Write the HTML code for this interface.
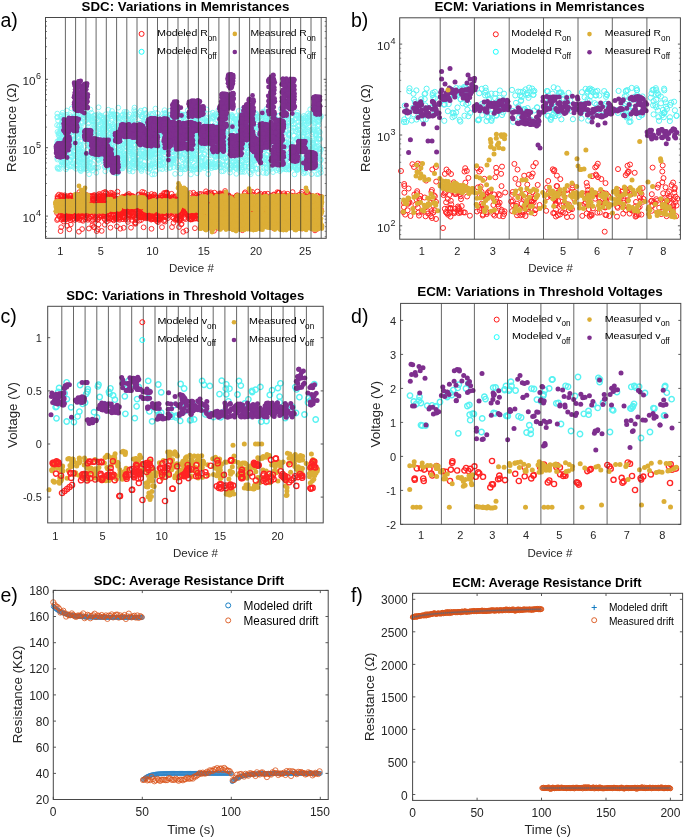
<!DOCTYPE html><html><head><meta charset="utf-8"><style>html,body{margin:0;padding:0;background:#fff;}svg{display:block;will-change:transform;}text{font-family:"Liberation Sans",sans-serif;}</style></head><body><svg width="685" height="839" viewBox="0 0 685 839"><defs><marker id="m0" markerUnits="userSpaceOnUse" markerWidth="6.8" markerHeight="6.8" refX="3.4" refY="3.4" overflow="visible"><circle cx="3.4" cy="3.4" r="2.4" fill="none" stroke="#7AF6F6" stroke-width="0.9"/></marker></defs><path d="M176.4 144.8L301 139.6L191.1 146.4L105.8 142.2L223.3 157.9L81.8 130.5L80.9 158.8L240.1 115.8L316.3 167.5L229.6 148L98.6 114.3L196.5 116.8L107.2 127L64.9 139.5L173.3 160.7L194 149.4L188.9 150.6L177.7 129.1L320.4 169.3L278.8 153.1L140.2 126.4L133.3 117.4L259.3 135.9L280.5 135.1L309.9 160.9L57.1 125.2L297.3 139.8L315.8 135.8L76.3 148.7L262.5 128.6L80 132.1L311.5 156L88.1 127.3L83.7 116.9L267.4 123.4L204.7 138.6L107.3 154.5L91.6 149.5L87.8 137.1L113.2 128.6L313.3 158.5L137.3 163.1L112.6 135.6L282.6 149.4L83.5 168.9L113.3 128L261 131.9L135.2 117.6L80.8 146.1L121.2 147.2L155.1 138.9L310.2 140.6L208.7 162L105.3 122.1L296.8 159.3L122.9 124.1L252.2 166.2L108.9 166.7L289.9 147.3L168.3 119.3L67.2 167.4L119.9 153L124.8 159.6L214.5 129.9L103.3 153.8L75.2 126.3L204.7 161.2L219.2 129.2L299.2 124.9L61.4 128.6L174.7 116.9L103.5 134.2L208.1 120.9L152.6 163.4L315.9 150.3L239.5 146.2L94.1 115.5L61.7 164.5L242.1 167.4L62.6 149.1L184.3 154.4L141.2 169.5L76.9 144.1L251.6 163.9L251.6 152.9L266.4 164.7L149.9 151.9L294.8 162.3L167.1 157.8L285 145.6L222 134.9L210.8 147.6L78.2 149.3L319.2 162.8L249.2 135.3L251.1 146L173.3 160.4L79.1 155.5L64.9 147.2L184 126.4L241.4 141.3L219.2 165L124.5 114.1L136.5 151.5L110.5 123L296.1 150.5L173.7 163.4L143.3 150.8L109.4 137.6L269.8 164.7L289.4 135L210.9 131.2L93 141.3L278 161L244.8 166.7L130.1 123L176 128.9L113.5 136.7L222.2 141.2L140.3 160.5L316.3 138.8L76.7 115.3L287.4 115.8L244.1 145.5L138.6 157.8L62 121.1L177.1 114.9L276 126.8L94.2 116.1L223.1 138.5L223.3 150.2L270.1 167.2L237.7 124.7L182.4 123.5L59.8 139.9L245.5 123.5L128.9 132.9L241.1 142.6L219.2 155.8L160.9 157.8L296.2 118.4L303.2 154L91.3 138.9L222.1 164.5L156.5 145.4L289.1 158.1L306.3 139.5L228.9 125L247.6 159.3L226.4 153.7L113.3 163.9L315.9 168.2L198.8 157.8L141.6 164.5L282.9 133L78.9 138.2L202.3 156.5L185.7 115.1L270.6 117.1L268.2 123.2L145.4 157.6L94.1 121.8L193.4 154L278.8 152.1L306.7 141.1L307.6 118.3L115.5 143L133.6 154.3L225.7 142.8L279.7 144.9L139.3 134.8L280.1 163.9L112 161.1L312.7 142.9L208.3 124.8L198.5 141.7L216.8 115.1L312.9 142.4L162.8 158.4L205.6 141L239.4 117.2L199.2 136.7L309.6 165.2L128.1 140L90.5 137.8L272.3 163.9L182.8 131.3L107.5 148.1L301.3 120.7L262.7 114.8L108.2 126.2L238.4 131.5L150.8 148.2L84.7 154.4L89.4 142.1L123.1 124.6L197 138L156.2 136.7L196.7 122.4L110.9 148.9L225.6 143.2L281.7 147.8L283.2 126.5L252.6 158.9L295.3 131.2L140.2 165.2L114.6 169.4L291.3 121L120.2 154.2L125.5 118.9L276.7 137.1L265.5 120.6L163.3 151.9L61.7 124.8L237.1 164.5L312.7 120L190.5 156L189.7 151.9L106.9 117.5L85 115.6L202.6 142.3L207.1 121.7L105.7 124.9L278.8 169L301.7 118.8L73.4 166.8L179 156.3L143.3 139.6L193 137.6L215.6 114.2L242.1 160.8L104.9 138.9L252.2 136.2L108.5 122.7L192.3 114.4L292.8 158.4L243 161.7L223.2 136.2L215.3 141.7L316.4 158.6L125.2 164.5L253.5 157.1L272.1 136.2L293.7 162.8L240.4 156.5L259 136.2L247.8 117.5L147.2 139.8L59.8 133.4L225.6 148.4L118.3 166.4L232.8 132.4L231.2 145.4L197.7 135.3L321 149.5L242.1 156.2L315.7 114.8L219.5 154.9L124.8 136L70.3 124.4L156.2 119L123.2 164.2L202.2 141.9L312.3 145.3L319.7 149.2L270.7 117.8L214.7 156L68.9 165.6L99.2 139.9L101.6 141.2L218.3 116.8L306.6 137.1L196.1 147L153.5 129.5L229.9 144.9L131.9 153.6L135.2 114.3L121.7 115.9L98.3 155.8L159.9 163.8L254.6 116.3L318 166.4L76.4 164.2L170.4 140.2L313.9 127.1L195.2 166L247.8 139.7L315.4 159.2L216.4 119.9L221.8 139L110.8 116.4L196.4 120.5L173.9 150.9L177.3 128.2L210.7 137L262.4 143.2L320.4 166.8L250.9 126.9L87.1 163.5L264.1 148.5L151.8 128.7L237.9 145.1L213.2 149L255.9 124.1L122.7 168.4L298.8 162.7L67.4 116.9L128.5 137.3L221.6 119.2L200 117.6L79.8 151.4L202.4 148.8L155.5 140.3L112.6 132.7L253.6 160.5L76.6 120.2L270.6 148.4L260 125.4L169 128L270.8 134.2L229.6 168.9L142.9 144.2L254 165.1L169.9 134.2L82.6 162.5L77.7 118.1L206 140.7L237.9 130.2L261.7 117.8L113.3 150.6L78.6 130.5L248.4 152.4L131.7 121.5L151.5 154.2L153.7 120.1L244.2 145.4L299.5 166.1L298.1 138L269 130.6L140.9 135.9L303.8 163.6L122.6 133.8L153.5 133.8L161.4 135.2L108.5 145.1L267.4 143.8L277.8 145L103.6 156L289.6 129.3L62.9 142.4L200.7 145.3L312.1 150L269.3 117.1L201.4 157.6L79.2 118.1L251.6 163.8L79.4 149L95 155.3L228.3 127.2L115.2 156.4L194.7 156.3L161.1 132.4L312.6 151.2L187.3 143.6L247.3 153.2L298.6 136.5L275.1 150.8L282.3 158.6L277.1 163.3L309.9 149.4L195.3 153.3L268.8 137.1L168 121.7L252.7 169L156.1 122.9L111 137.3L134.1 167.8L72.6 130.8L87.3 149.8L261.8 123.5L73.5 139.2L211.2 164.4L66.6 119.6L105.7 125.7L119.1 153.7L214 126L105.8 129.2L102.5 155.9L139.3 144.2L272.7 140.4L125.8 163.2L298.4 132.7L201.5 167.1L184.4 125.9L70.1 166.6L268.6 135.1L196.3 142.4L129.5 169L230.6 126.8L59.9 140L155.1 158.1L245.3 147.4L98.5 122.3L142 128L286.5 142.4L225.2 169.1L127.4 143.4L96.8 156.6L57.4 159.5L280.4 159.5L78.8 128.6L246.2 118.9L183.7 139.7L309.3 146.4L283.3 130.5L265.4 136.9L299 118.6L275.2 125.2L200.5 142.9L98.6 160.1L139.2 130.9L77.1 130.6L180.3 153.5L152 152L84.9 135.6L178.9 167.6L276.1 150.1L60.3 134.6L244.4 126.8L205.9 139.2L59.8 169L268.1 125.1L219.6 129.8L156.3 143.7L135.7 132.4L160.5 150.8L124.7 124.7L250.1 131.9L306.5 145L248.1 132.1L275.3 118.7L94.2 118.8L235.9 153.2L104.5 136L277.9 146.7L80.8 126.2L98.5 120.5L164.4 117.6L300 137.4L192.1 149.7L259.5 159.5L158.9 132.1L165.8 114.4L162.8 152.7L316.2 157.7L231.3 147.6L61.9 132L147.4 149.9L85.1 134.6L191.5 157.7L274.8 147.7L98.8 156.4L295.4 144.2L150.1 141.5L94.4 153.5L317.5 142.4L245.9 160.3L109.1 166.4L222.6 124.6L79 127.2L209.2 152.5L143.9 165.5L152.4 139.4L89.7 168L92.8 164.1L200.5 144.9L204.9 128.3L297.1 169.1L272.8 147.2L89.4 159.7L133.2 163.7L120.6 145.6L276.3 123.9L201.6 117.8L65.5 123.6L317.6 166.1L230.8 130.7L234.2 154.8L157.8 146.6L269.2 114.4L109.7 139.7L94.7 135.1L207.4 123.2L194.2 128.3L207 132.1L226.4 115.6L234.1 121.6L310.3 147.1L181.1 136.5L221.7 152.1L257.1 155.6L185.2 169.2L278.3 161.4L165 137.8L206.4 164.2L195.9 142.9L171.1 164.1L141.7 116.6L248.6 163.9L250.2 147L255.5 130.6L213.7 117.4L89.9 138.5L189.7 135.7L70.7 152.4L195.9 126.9L137.9 135.6L119.3 117.3L297.6 167.6L232.7 162L168.3 158.6L115.5 155.3L206.6 164.1L83 157.9L89.7 143.6L308.1 113.5L121.4 130.3L142.7 117L293.3 159.2L161.9 133.5L211.6 116.1L65.2 163.8L138.3 141.4L303.6 168.2L181.8 125.1L135 165.2L293.8 124.4L278.2 133.3L181.7 123.1L289.2 169.2L110.3 148.9L107.6 162.8L70.2 119.4L248.6 131L294.7 162.2L245.3 121.1L240.7 166L174.5 117.9L115.9 130.7L244.6 124.5L104.8 126.7L232.5 157.8L155.3 150.6L290.5 146.5L117.5 130.4L301.7 150.9L130.1 149.3L80.8 168.5L173.3 143.1L197.1 116L215.3 129.4L123.2 158.5L80 129.5L256.5 127.3L130.7 144.2L106.2 163.7L317.8 115.4L178.9 155.5L158.6 165.5L189 123.6L203.8 149.6L151.9 150.4L263.7 142.4L190.5 160.8L237.6 142.6L308.2 123.2L262.8 122.7L217.5 126.7L173.3 156.8L264.7 157.8L119.3 140.9L115.4 146L188.7 115.5L214.6 153.5L208.2 162.4L104.5 122L61.7 141.3L171.7 138.2L126.4 158.2L76.1 164.3L207.2 143.9L266 126.8L95.6 130.9L68.2 131.1L221 142.9L126.9 146.5L80.4 159.5L102.3 127.8L99.2 152.2L276.4 157.6L73.1 136.5L153.2 125.6L313.2 115.9L186.2 156.1L317.4 121.6L177.2 155.2L67.4 127L292 121.4L160.7 130.2L169.1 117.8L66 169.3L258.5 154.6L117.7 127.7L202.7 127L178.9 165.7L153.1 132.4L316 147.7L67.5 136.1L228.5 116.8L147.6 152.4L285.2 146.6L291 139.4L160.7 160.7L157.6 157.3L113.9 133L105.5 144.3L100.3 124.9L113.6 139.7L138.5 138.5L319.2 151.5L284.8 125L158.1 117.6L239.5 133.8L129.5 114.5L105.1 128.2L160.7 165.2L245.8 128.5L152.3 122.1L304.3 133.6L259.1 154L296.5 114.6L142 135L79 162.9L142.9 156.7L194.1 116.6L161 126.8L67.8 121.9L214.2 115.3L139.4 137.2L200.6 121.1L243.5 128.1L248.5 150.8L95.9 125L131 153.4L164 135.1L285.6 126.2L134.1 132.8L114 115.8L63.5 148.8L206.4 158.8L314.6 130.2L234 165L114.1 152.1L233 167L286.3 126.6L224 118.5L169.9 135.5L72.9 135L143.6 141.3L130.9 122.4L163.2 140.1L101 150.8L120.3 118.7L147.2 137.1L96.8 146.1L242.2 144.5L241.8 114.8L160.3 133.9L73.6 136.1L71.4 141.3L211.7 139.8L142.9 127.7L63.2 132.9L292.4 145.2L126.1 150.9L106.1 139.8L219.4 167L152.7 145.8L305.8 156.7L222.6 148.3L165.5 136.8L129.9 160L289.2 134.9L297.1 115.6L92.9 141.9L138.5 133.7L314.9 121.9L107.8 126.3L236.6 126.6L57.2 144L161 126.9L187.3 149.9L201.7 148.5L205 160L312.8 132.2L148.5 163.1L139.7 153.6L240.6 151.9L311.5 159.7L99.1 148.3L186.5 145.1L154.6 129.5L254.7 143.4L119.6 127.5L142.8 123.5L192.6 120.6L73.7 117.3L84 153L86.8 138.8L260.8 140.4L99.9 162L286.6 116.5L124 141.9L267.3 135.5L246 127.6L246 131.8L145.1 156L279.5 159.9L206.8 137.1L243.6 148.4L276.4 158.4L90.1 134.6L233.7 126.4L105.7 114.3L211.6 166.2L313.2 121L238.5 137L223.7 135.7L303.4 168.9L69.9 153.4L88.3 115.9L132.5 154.4L319.3 120.2L144.1 115L200.2 140.6L155.6 130.8L268.3 160.5L131.9 135.4L220.1 156.4L316 135.3L240.2 144.1L268.2 121.7L103.2 119.5L303.5 127.6L185.9 120.2L142.4 114.6L206.4 121.5L222.1 128.8L117.1 140.5L153.6 128L70.5 117.1L292.7 130.8L77.7 123.7L184.6 169.3L110.4 162.1L184.8 136.7L270 135.7L72.2 144.3L230.4 148.4L130.2 166.1L285.3 169.2L174 160.2L248.4 123.3L64.1 123L88.4 117.7L151.8 155.7L138.8 142.3L59.8 125.3L310.2 114.1L196.2 158.9L266.2 154.7L162.4 158.5L275.5 156.5L317.3 119.1L307.9 136L243.2 127.5L297.1 114.8L209.3 126.2L159.5 134.2L230.4 158.9L153.3 149.2L150.5 129.1L296 131.5L81.9 132.2L252.8 125.3L253.2 144.1L236.6 123.4L84.9 121.5L149.5 137.6L59.5 141.6L163.5 131.5L198.8 166.8L111 162.8L141.7 155.7L85.6 168.8L170.5 167.4L115 136.4L243.4 123.5L129.2 151.4L307.2 131.5L105.4 133.5L318.2 121.8L224.6 134.7L227 125.4L219.7 163.2L283.1 148.7L190.3 145.3L87.1 160.4L239.1 138.9L232.7 137L158.5 126.4L215.6 145.6L193 115.3L222.6 138.5L213.6 146.8L302.9 122L180.7 169.1L251.8 131L251.5 168.9L163.2 162.1L90.4 168.9L186.6 126.6L278.8 149.9L304.6 159.9L267.6 142.1L319.3 117.1L286.7 153.4L123.2 158.7L176.9 143.5L285.5 124.5L130.8 149.5L76.4 144.6L264.8 141L120.8 158.3L282.7 156.7L202 164.2L267.3 122L153.6 119.1L66.7 132.9L285.3 160.2L88 123.7L159.6 161.1L219.9 164L76 168.8L111.6 148.7L288.4 154.2L109 150.9L170.7 114.4L146.6 131.2L223.2 129.1L216.2 152.4L104.7 120.7L240.2 139.6L91.1 120L305.4 147.7L151.4 124.5L319.6 152.2L251.4 133.7L138.9 136.4L95.6 148.8L169.1 159.4L165 139.1L190.7 166.2L148.4 152.9L119.1 145.9L132.2 162.4L132.6 161.4L235.6 139L303.5 135.2L253.2 147.2L175.4 117.1L167.6 129.3L173.4 167L134.3 152.4L234.4 127.2L165.6 120.9L293.4 127.6L168 132.6L273.6 161.1L212.9 144.1L83.2 163.7L80.3 133.9L155.9 154L233.7 132.8L294 166.7L63.1 148.9L180.9 133.8L179.7 131.2L234.1 147.4L313.2 168.2L319 135.6L275.8 149.9L242.1 169.4L74.6 139.4L162.9 150.2L114.6 168.9L112.3 134.2L94.7 135.6L252.8 118.2L101 149.8L221.5 155.1L123.9 158.9L250 157L88.6 139.7L61.2 161.6L306.4 163.7L63.4 133.2L198.5 143.4L86.4 157.7L136.6 141.9L89.9 145.3L91.2 118.4L192.2 130L262.3 127.3L166.3 116.5L114.5 138.8L204.3 139.2L281.6 119.3L281.4 122.2L313.2 142.9L164.3 147.8L285.1 167.5L166.1 114.1L97.6 159.3L250.9 153.4L98.3 143.2L64.5 119.7L136.4 167.6L226.8 161L69.2 136.8L77.7 128.1L86.5 165L143.8 140.9L229.7 163.2L306.9 145.3L189.2 164.1L161.1 130.3L252.2 128L154.1 137.5L182.9 133.6L170.7 138.7L70.1 160.3L73.3 143.1L201.6 135.9L115.8 119.1L155.2 131.1L184.8 126.4L254.9 140.8L59.4 136.3L312.1 113.9L213.6 167.3L153.5 147L154.4 130.4L217.8 146.5L140.2 141.4L193.3 155.7L71 118.7L123.5 128.6L267.1 137.3L284.1 136L132.4 151.6L79.6 168.6L276.5 131.9L140.8 159.4L265.1 149.5L72 156.3L69.7 148.5L202.8 165.4L225.6 114.8L303.7 155.7L210.1 113.8L251.5 136.9L236.4 168.6L299 117.7L263.3 138.2L255.4 134.7L175.2 138L88.1 131.4L251 117.5L87.6 160.2L232.9 144.2L86.9 120.1L138.9 166.9L204.9 165.1L112.7 136.7L198.6 160.5L89.6 162.4L181.7 115.3L171 134.6L235 165.5L187.3 152.1L159.4 157.1L84.8 155.1L101 146.3L110.4 132.9L100.3 133.1L213.1 142.6L159.6 145.7L279.4 133.6L211.1 140.4L315.9 131.9L241.1 126.6L126 154.4L208.8 127.9L73.9 159.7L156.7 153.6L171.2 148.1L204.7 168.1L297.1 139L185.5 126.5L255.8 119.2L137.9 161L66.3 152.6L207 144.4L144.9 122L308 156.3L269.7 119L264 125.7L109.6 143.5L218 120.3L258.9 146.1L294.4 165.2L239 133.9L308.1 153.7L133.8 161.5L248.9 128.3L122.8 114.6L198.8 127.7L134.4 127.7L91.7 140.7L129 129.5L130.3 142L287.7 122.5L283.9 161.4L217.9 144L250.8 143.4L231.2 165L261.7 128.1L71.3 166L152.7 157.6L118.6 138.9L154.8 154.3L306.1 141.8L206.4 133L118.3 166.7L86.1 166.2L230.5 117.5L295.1 119.2L206.3 120.2L318 130.8L287.2 116.9L232.9 117.3L64.8 145.5L316.5 151.9L282.8 157.4L194.6 117.8L196.1 123.8L196.1 133.3L188.7 124.6L243.1 136.9L185.3 117.9L185.6 144.7L313.8 144.9L92.6 130.3L145.6 152.8L304.9 168.2L307.8 165.3L283.7 165.9L62.3 140.9L212.9 151.9L218.8 147.8L303.4 118.3L194.1 167.2L65.4 119.8L286.4 167.1L63.4 115.3L276.1 152.1L194.2 146L256.9 158.7L57.2 117.3L266.7 168.1L277 136.3L145.6 132.9L60.9 156.6L126.2 146.3L195.9 132.3L235.2 139L118.9 162.9L103.4 121.9L123.9 140.3L263.9 132.1L119.9 150.1L125.7 142.8L124.3 162.6L105.7 126.5L136.6 132L248.8 151.3L265.6 143.7L77.7 156.3L121.5 125.7L166.4 168.9L154.9 133.5L297.5 169L159.2 121.1L265.5 157.3L146.3 157.8L157.2 129.6L213.6 155L182.6 159.3L60.7 141.4L157.4 117.1L298.4 121.5L111.3 162.7L310.6 165.7L147.3 165.6L94.4 153.5L306.6 124.3L92.8 151.5L290 154.2L307.6 138.9L155.3 120.2L129.1 166.1L75.9 123.9L148.7 116.3L138 123.7L89.4 143L199.6 145.3L258.2 143L307 118.1L115.9 117.8L138.7 156.1L301 141.7L99.3 132L207.1 130L266.3 168L178.4 147.3L280.3 139.5L107.4 166.4L315.2 114.9L258.4 135.9L70.7 122.6L102.7 154.7L112.9 114.6L115 158.3L188.8 150.1L179.8 123.7L61 130.5L68 128.1L220.4 134.2L181.9 148.4L140.7 133.5L290.3 146L167.1 143.7L178.5 132.1L298.2 126.6L304.1 161.3L289.8 122.6L191.3 168.6L133.2 123.1L248 126.7L211.1 122.3L307.1 129.4L82.6 152L148.6 144.8L188.3 165.2L192.7 134.7L57.4 141.3L128 145.7L223.8 139.4L80.7 141.4L184.2 149.4L313.1 129.2L173.9 118.2L268.2 126.6L275.9 158.2L124.2 164.1L190 137.4L203.6 166.5L186.3 140.5L133.7 160.6L189.8 132.7L108.9 125.6L277.2 158.5L315.4 164.9L237.9 158.2L244.9 158.8L268.5 123.4L272.1 130.5L121.4 165L63 142.2L147.6 157.8L218.2 164.5L303.2 149.6L74 150.9L85.9 168.5L287 130.9L106.1 152.4L257.1 168.7L221.4 120.5L248.9 116.8L286.1 156.5L264.3 162.4L207.3 166.3L225.7 141L158.5 133.3L63 122.5L267.1 126.3L229.6 156.9L240.3 142.4L140.4 128.8L106.5 149.8L238.2 166.3L144.3 165.4L297.6 129.8L308.3 148.2L311.1 156.9L145 129.1L195 140.8L66.3 161.8L198.4 140L253.6 127.5L109.6 146L120.7 131.8L75.5 116.4L150.8 143L307.5 149.3L166.4 136.3L119.1 140L310.2 120.3L171.3 151.9L258.3 144.6L226.3 166L295.3 127.6L199.9 169.4L196.3 124.1L259.2 116.7L96.7 144.4L129 153.8L248.9 131.4L259.5 149.8L243.4 139.1L171.2 119.5L182.4 167L291.6 116.6L75.8 128.6L240.3 138L90.8 137.3L208.3 155.2L163.4 149.9L236.9 148L69.3 153.3L90.9 116.6L182 114.4L76.2 135.4L180.7 119.4L308.8 161.2L185.5 146.4L140.3 168.6L88.7 130.5L115.3 162L191.3 136.5L162.3 163.2L125 157.8L243.9 138.6L153.6 138L176.6 131.2L221.7 136.5L137.2 156.8L177.2 140L289.2 139L156.3 163.8L314.8 157.5L163 151.1L252.6 130.1L248.1 166.7L230.1 151L171.9 150.1L116.7 156.6L199.3 168.4L147.2 153.4L61.4 136.8L259.3 128L219 125.9L162.2 169.1L108.9 164.6L72.8 146.1L273.8 160.4L160.3 146.6L245 156.2L254.1 145.9L123.4 153L205.2 144L317.6 121.1L263.1 131.7L248.8 166.7L129.5 145.3L196.5 141.2L101.1 148.5L292.9 150.6L133.3 158.6L167.9 121.6L216.9 139.3L196.9 169L207.3 166.9L150.1 156L76.9 130.3L239.7 152.2L275.7 134.8L129.2 133.6L198.9 114.9L155.9 150.3L96.2 130.9L287.4 165.8L122.9 123.5L88.1 118.3L266.6 154.9L126.8 140.9L240.6 115.1L273.2 161.6L112.8 152.9L241.6 132.4L288.9 125.7L182.1 131.1L173.7 159L207.5 147.6L317.6 126L115.8 148.2L96.7 167.5L147.1 138.1L170.8 159.8L298.7 151.4L102.2 133.4L243.5 125.6L290 162.3L116.8 133.9L117.4 153.7L69.4 152.5L73.5 160.6L200.4 146.2L82.1 116L150.2 168.6L215.4 161.8L73.5 119.2L62.5 152.5L103.6 128.8L233.1 152.4L142.1 139.7L133.3 144.9L151 133.7L122.7 129.9L125.9 114.4L138.9 146.7L127.9 119.8L280.4 139.8L192.1 131L291.2 155.7L221.4 150.4L239.8 141.5L166.1 135.3L190.1 139.7L196.6 143.4L265.2 163.5L116.1 114.7L136.5 115.3L267.2 148.2L132.4 124.2L286.3 160.3L237.5 152.2L253.6 139L161.9 144.5L289.4 169L299.1 160.3L76.6 127.3L313.3 143.9L192.9 130.9L284.6 142.4L318.5 117.7L319.2 114.2L96.1 135.3L225.8 119.7L205.5 166.1L172 156.2L213.3 146.1L102.7 139.5L294.7 151.3L114.2 138.5L200.5 132.4L209.5 148.9L61.7 125.8L230.4 125.5L76.2 156.2L145.1 167.1L204.5 119.2L225.1 128.2L272 154.1L257.2 116.7L66 158.2L94.1 124.8L64.9 122.7L182 167.2L141.8 128L275.6 123.8L224.7 147.9L303.9 115.9L205.7 134.9L274.4 127.6L245.8 123.9L187.7 167.7L120.3 129.1L299.2 151.3L74.4 123.9L119.6 129.7L280 152.7L315.7 151L222.8 135L246.4 141.1L72.5 141.1L158.4 143.2L69.9 115.1L316.5 134.3L144.1 121.8L213.4 164.7L104.6 141.5L188.9 156.4L206.2 126.9L107.1 154.1L77.6 161.9L65.8 124.1L180.5 160.8L220.6 155.3L257.9 154L70.6 159.7L96 122.6L66.9 115.1L288.5 134.8L79.8 116.1L280.4 147.2L298.9 115.6L86.7 129.6L107.4 119.8L109.9 149.4L101.4 122.9L198.4 134.5L96.5 145.3L191.1 135.2L182.2 115.7L219.4 124.3L145.6 114L291.4 146.4L160.5 143.8L305.1 120.9L158.2 153.2L155.2 153.1L296.8 115.8L132.1 129.9L255.1 157.4L241.7 165.3L106 135.5L282.2 156.4L86.7 168.4L252.5 162L152.6 147.4L310.1 163.8L209.4 163.3L320.7 160.5L230.1 167.3L94.9 136.1L205.9 120.9L263.1 117L223 129.2L142.2 147.5L107.5 138.6L283.3 168.8L126.3 134L240.2 124.1L281.2 124.6L204 132.5L57.3 113.6L57.5 131.9L129.7 169L225.3 117.2L246 126.5L184.1 154L283.2 165.9L168.1 131.3L161.9 131L252.8 139.4L238 122L263.7 167.6L110.6 148L99.8 115.5L166.3 123.8L249.9 145.6L235.1 167.7L72.4 119L66.4 139.2L274.7 151.8L201.6 161.4L155.2 119.8L226.4 114.9L117.6 115.2L99.7 117.1L197.3 120.7L216.3 159.7L147.9 120.2L234.2 154.3L290.4 144.5L210.7 161.8L235.8 168.1L132.8 156.9L224.1 139.7L59.8 140.2L126.5 147.2L191.5 142.1L72.5 120.9L217.2 151.7L318.5 157.9L133.6 139L190.5 158.5L161.2 165.1L184.8 135.8L183.7 133.5L320.9 116.1L162.5 117.9L236 121.9L96.4 137.2L215.9 156.3L174.3 130L154.1 163.2L113.3 114.1L290.9 140.5L91.9 121.1L292.1 155.5L74 151.3L113.5 138.5L216.7 116.4L304 132.3L95 157.2L85.8 115.6L229.1 139.8L294.8 157.8L111.5 116L216.3 139.8L136.5 164.8L112 149.5L76.4 165.2L307.5 148.1L141.6 154L295.5 158L67.8 141.7L93.9 144.1L307.8 161.9L122.7 144.4L140.8 122.9L253.3 156L145.9 137L240.9 154.2L179.4 120.1L82.2 123L275.2 141.3L227.1 133.9L154.4 123.4L314.3 147.4L91 152.8L214.8 147.8L260.3 147.6L288.4 167.8L164.4 149.8L155.8 136.5L153.7 149.7L150.1 133.2L280.6 158.3L235.5 160.7L158.9 149.5L123.3 131.2L83.6 158.2L300.2 130.5L156.9 120.1L94.5 149.2L292.5 118.2L124.2 156L116.6 162.7L150.1 140L110.2 129.8L169.1 129.1L249.5 115.2L225.6 158.4L143.1 124.2L88.7 117.8L266.1 147.3L61 138.9L215.1 131.4L66.2 137.1L150.3 167.9L152 165.2L286.2 145.7L90.3 158.7L80.8 144.7L82.7 118.7L165.4 122.3L318.9 145.9L293.8 167.1L257.1 149.7L181.9 157.1L233.7 122.3L196.9 136.7L193.1 153.4L238.9 145.4L265.2 159.7L81.4 121.6L69.5 122.5L310.2 130.8L172.9 139.6L206 129.2L262.6 132.1L280.2 158.5L57.3 144.2L81.6 163L75.3 128.5L260 146.6L233.1 136.6L194.4 124.9L179.1 127.9L235.3 119.5L93.3 124.6L197.7 146.1L57.8 168.8L277.5 134.8L98.9 159.7L314.9 123.5L256.6 159.3L304.4 125.2L88.8 122.7L118.1 163.9L297.2 140L90.7 133.2L120.7 149.8L247.1 157L172.4 139.1L180.5 134.2L177.1 151.9L244.8 131.8L206.6 121.6L68.9 135.2L151.8 115.3L78 137.3L305.8 160.4L65 131.2L154.3 130.9L93.2 146.6L278.5 134.9L103.6 119.4L61 156.4L117.9 154L265.8 118.2L106.9 131.2L260 154.8L137 138.8L150.7 139.9L266.5 128.2L271 165L215.7 167.2L304.6 123.1L318.7 124.7L269.4 120.3L136.9 138.3L278.5 151.6L110.8 163.8L285.5 142.1L70.4 129.5L134.2 137L305.8 146.8L273.4 117.5L121.8 154.5L146.9 126.2L73.6 116.3L165.9 144.1L162.6 145.1L133.8 114.4L235 132.3L186.7 134.7L128.3 116.4L135.3 130.2L87.3 115.2L183.9 114.6L289 133.7L174.1 142.9L63.4 119.2L264.3 144.7L187.2 132.8L255.3 141.7L266.2 160.3L293 154.1L234.9 139.3L197.8 145.9L195.7 159.4L283.5 116.4L255.5 148L215 164.4L70.1 140.1L156.1 166.6L100.5 145L95.1 155.7L186.1 154.7L138.1 163L58.9 126.1L250.6 162.7L262.2 128.9L78.4 153.2L250.1 116.9L303.8 143.1L65.8 140.4L146.3 119.3L290.7 165.8L89.8 138.5L129.2 151.1L86 132.2L165.3 140L171.9 146.9L305.2 165.7L296.5 159.9L117.3 127.2L178.4 149.5L217.1 133.1L318.8 131L62.1 118.6L112.3 154.4L279 115.8L119.6 127.1L264.6 163.8L126.5 119.2L312.3 167.9L246.2 140L254.2 156.5L191.5 128.7L195.6 150.6L142.6 149.3L95.7 167.9L112.8 126.2L310.5 166.7L301.3 160.6L281 159.5L206.6 117.7L250.2 160.3L278.2 115.9L73.2 154.4L185.8 163.5L318.5 138.5L235.3 150.7L240.1 134.1L225.8 117.3L294.6 154L268.9 139.4L111.2 138.8L236.7 144.2L85.7 113.7L162 127.2L116.9 125.9L166.7 152.4L298 151.4L62.5 162.1L217.8 154.5L219 133.3L146.6 117.5L232.3 116.5L236.8 164.5L233.3 147.4L270.3 167.2L271.5 168.9L178.3 114.3L219.2 149.3L284.8 147.8L152.9 113.8L276.3 148.5L317.1 146.7L282.1 156.7L318.6 139.4L293.9 135.7L60 131.7L149.7 169.1L161.2 128.9L239.4 118.9L137.7 135.6L89.8 147L168.7 158.4L146.6 168.2L108.6 143.2L116.7 114.3L136.6 163.6L134 140.9L195.3 128.4L198.2 117.2L149.2 129.4L272.3 156.6L242 146.8L285.8 155L71.6 120.8L254.4 160.5L318.2 156.9L98.7 145.3L221.8 147.4L92.5 167.7L191.7 128.6L316 135L75.5 151L125.6 125.7L136.9 147.5L141.4 150.7L296 169L291.7 165.1L123.8 159.6L80.7 146.1L76.9 119.1L307.5 120.6L246.3 143L57.3 157.9L73 163.2L273.1 141.3L174.8 115.1L241.8 115.7L195.9 165.3L236 120L247.4 152.8L143.9 156.7L209.8 136.7L195.8 128.9L132.8 163.3L149.3 156.7L153.8 124.2L57.4 167.5L255.4 168.5L212.5 117L100.1 116.3L218.6 148.3L309.3 130.1L118.6 125.9L95.9 115.1L187.3 137L154.2 166.8L139.8 159.8L197.6 119.3L64.8 147.6L287.8 116.3L242.3 126.5L238.4 160.2L249 127.2L98.2 167.7L298.7 165.2L199.8 116.4L154.4 164.5L74.7 130L68.2 162.8L150.4 118.1L151 124.9L171.4 148L230.7 118.9L198.1 116.6L173.6 158.7L126.3 159.6L121.4 135.5L266.2 113.7L203.3 143.5L245.7 166.6L240.3 126L109.5 140.5L131.3 144.5L80.7 152.4L167 116.3L88.8 165.9L281.2 162.8L159.9 168.6L101.9 154.2L305.7 125.2L58.1 120.6L79.1 158.5L217 140.2L87.2 149.5L93.1 121L213.8 149.5L268.4 159.8L93.2 130.5L95 141L64.5 162.1L237 158.8L185.9 164.6L277.4 159.9L269.8 125.6L148.2 116.7L258.8 140L317.4 129.7L170.8 162L312.8 155.9L290 165.2L128.7 148L73.8 151.4L308.5 141.8L95.5 145.4L74.3 139.3L78.2 136.9L272.9 154.9L282.3 139.1L173.4 116.6L265.3 145.4L164.7 121.6L178.1 117L88.7 117.9L169.2 121.2L275.4 147.7L285.9 144.5L99.2 129L278.6 146.3L227.6 148.9L69.7 124.7L170.9 160.8L306.1 146.6L125.5 116.1L204.5 136.4L302.7 125.1L111.1 114.4L64.6 158.7L287 122.1L61.1 145.8L122.1 147.9L297.7 155.3L130.9 147.5L133.4 156L125.2 162.2L236.1 163.4L148.3 166.9L210.7 127.9L227.8 130.9L86.9 115.7L218.2 127L83.4 157L94.5 155.8L129.1 133.8L303.2 159.9L277.3 168.4L216.4 165.9L221.3 146.1L142.5 134.7L207.4 127.3L226.5 161.9L247.2 126.1L64.3 134L171.6 160.9L201.4 142.5L216.9 144.5L236 144.7L202.9 126.7L89.6 138.1L291.1 166.5L134.4 145.7L193.8 138.9L104.1 157.7L79.5 126.3L130.6 124.9L108.1 118L195.2 123.1L226.6 147.1L221.9 140.4L218.7 130.1L179.5 152.1L113.8 154.6L211.6 168.1L219.7 144.2L259.8 129.7L155.4 137.7L250.9 153.8L105.9 166.9L316.3 141.2L319.8 148.3L158.5 118.4L61.6 146.6L246.7 148L263.7 137.9L252.9 147.3L224.4 144.2L233.1 144.9L80.9 151.3L242.8 137.5L313.1 140.4L100.9 142.1L151.5 122.8L291.6 123.4L245 123L193.5 169.3L80.4 161.6L58.6 168.2L296.8 138.6L225.3 139.3L100.2 133.4L173.5 162.2L87.1 143.7L181.5 144.5L266.2 147.1L142.4 167L215.1 128.7L201.5 162.1L69.3 149.8L185.7 129.6L99.1 126.5L172.5 137.1L215.8 128.6L220.7 140L267 158.5L119.6 168.2L201.3 132.3L124.2 153.4L172.3 151.8L124.6 161.7L126.8 162.2L172.8 136L209.5 142.8L201.7 144.9L307.8 155.1L81.4 168.8L61.1 116.5L273.1 128.9L64.8 123.4L187.7 160.7L62.2 122.8L60.4 116.5L140.2 141L312.7 149.8L282.6 146.6L297.3 151.2L120.4 134.3L183.6 119.7L301 140.5L109.9 141L269.6 128.8L212.1 118.6L120.7 124L190.4 152L117 152.1L211.7 155.5L319.8 132.2L320 139L191.5 123.4L79.4 149.6L84.2 115.4L79.2 143.9L108.7 128.2L259.5 138.5L95.9 151.5L319.6 148.3L174.5 143.6L242.5 160.4L264.4 127.4L262.9 119.3L90.9 141.9L105.7 144.9L132 166.3L171.4 159.2L306.4 138.8L259.9 141.1L162.4 120.5L230.9 165.1L238.6 131.2L195.6 133.5L160.3 156.8L58.8 140.5L192.1 121.7L250.3 127.7L163.5 127.4L214.7 137.6L237.5 137.3L263.9 144.4L84.7 141.1L123.8 130.2L307.3 140.4L252.1 122.2L223.2 120.1L115.5 120.6L63.5 164.3L311.6 134.1L60.3 154.6L232 116L259.4 117.3L118.5 157.1L259.5 126.6L191.2 158.3L216.4 142.9L105.8 117.3L106.6 142.9L214.3 139.3L224.9 145.1L227.4 136.5L279.3 143.3L289.4 168.7L275.5 156.7L239.2 144.4L122.4 119.2L231.5 127.4L218.7 144.3L217.3 137.5L120.2 130.5L241 163.1L141.2 131.1L175.2 137.5L223.9 155.8L259.7 158.8L248.5 167.9L175.4 138.5L229 131.1L276 136.9L204 142.6L153.1 114.1L130.5 140.2L308.1 121.2L295.4 168L265.9 129.2L62.1 162.8L75.1 130.2L304.9 151.2L274.5 160.2L104 141.7L81.9 134.7L187.9 159.3L133.4 150.8L94.2 127.9L72.5 146L211.8 153.4L167.8 166L247.7 145.3L287.6 123.6L134.1 144.4L215.2 167L236.3 116.1L306.3 139.7L111.3 156.2L222.8 161.4L202.5 127.8L181.2 139.6L149.9 146L96.4 127.7L88.3 115L195.7 154.8L163.3 164L217.6 150.4L132.6 163.8L148.9 160.8L121.4 166.8L237.3 123.5L250.1 122.2L158.7 134.7L145.4 133.8L99.4 135.9L81.7 158.1L150.4 153.4L170 168.1L289.2 153L279 164.7L302.6 136.6L213.5 117.4L153.2 131.9L221.3 113.9L256.1 117.7L168.6 140.7L279.3 148.9L96 150.8L119.1 148.1L166.1 167L175.5 128.7L138.9 167.1L149 127.1L198.3 151L305.3 118L144 154L187.8 152.2L235.1 118.7L70.3 123.4L137.3 123.7L132.7 119.9L63.9 142.9L257.1 122.4L81.9 154.3L78 121.3L186.5 130.1L264.2 141.8L195.2 134.5L64.3 159.5L159.8 159.8L85 137.7L199.5 122.2L76.6 165.9L304.8 169.5L200.7 154.5L215.8 140.2L102.4 149.5L174 151.5L68.1 130L86.8 156.2L183.5 129.5L263.3 142.7L133.7 135.5L57.5 116.9L66.7 167.4L288.9 144L305.4 143.7L236.9 119.4L172.2 147.7L165 150.1L147.6 150.2L111.9 140.9L170 143L71.5 127.1L245.9 122.8L182.8 169.2L218 154.6L260.5 167.7L159.3 135.7L256.3 114.9L180.7 128.7L204 154.5L284.3 141.9L239.6 117.9L231.1 165.6L219.5 141L191.9 136.6L104.3 124.5L266.8 142.4L67.2 147.9L276.3 150L104.6 166.8L105 142L178.4 122.8L127.5 123.9L101.2 115.8L227.4 150.8L123.4 166.8L168.8 139.1L301.8 149.8L180 155.3L252.5 130.8L75.4 154.5L254.5 147.1L87.9 155.2L103.3 158.2L221.2 149.2L76.8 133.9L250.5 119.7L67.2 136.6L282.1 148.8L117.7 118.1L277.9 160.7L242.1 125.1L255.2 114L102.5 131.4L309.6 115.5L99.5 154.6L258.2 128.5L77.1 161.3L313.2 164.4L206.4 118.3L252.4 149.9L276.5 156L189.7 168.2L178.9 138.5L225.2 157.6L212.1 166.2L128.7 163.7L288.9 132.9L64.6 147.2L220.6 167.2L204.4 154L257.5 122.9L233 138.1L114.1 128.9L152.7 154.6L202.7 131.5L71.6 157.6L256 160.3L264.6 117L131.2 139.4L135.4 159.6L111 114.3L176.1 116.3L64.5 147.4L216.6 143.9L75.6 144.9L195 130.5L115.9 122.2L184.6 134L211.6 151.2L129.9 147.5L125.2 155.3L110.9 146.8L251.4 158.3L197.1 164.6L317.3 157.9L151.7 128.4L222.4 120.7L103.7 118.8L228.8 135.2L300.3 158.7L197.3 132.6L141.6 116.4L86.3 162.3L135.7 114L315.8 134.8L261.5 138.9L312.7 118L182 149.7L63.5 164.9L146.3 151.5L77.8 117.9L79.8 157.7L305.7 164.8L197.1 118.6L262.2 141.9L263.6 149L206.5 123.1L94.7 118.1L171.1 129.7L308.9 116.2L257.4 120.2L84.3 165.2L115 146.8L211.4 135.9L149.4 121.4L240.7 134.3L215.6 159.4L77 137.2L150.2 165.7L220.9 124.5L178 114.3L192.7 117.4L93.4 142L199 125.4L211 130.9L242.5 116.4L279.1 138.6L102.6 129.8L222.8 118.8L297.8 125.9L165.4 117.6L177.4 167.3L106.3 123.5L201.4 149.3L94.8 125.8L216.5 126.9L64.3 152.4L286.3 158.6L282.8 125.4L138.8 147.1L219.6 148.6L203 126.6L120 118.2L72.2 146L79.8 162.6L310.2 121.7L312 148.4L58.5 135L152.3 130.8L74.7 127.1L61.6 138.6L184.2 126.5L301 163.1L188.9 158.4L150.3 155.7L262.4 133.2L252.4 133.2L102.7 137L87 153.7L123.5 141.4L270.5 147L296.9 154.1L239.8 155L239.3 164.9L214 150.5L202.2 143.4L305.5 130.3L107.2 141.6L139.3 153.5L224.9 113.6L112.1 148.2L161.6 151.6L180.9 119.7L239.1 168L81.2 148L218.9 147.8L190.4 141.9L318.2 162.3L171.8 159L233.2 158.6L320.5 117.5L113 126.5L273.1 165.2L116.8 140.7L291.8 154L211.9 163.5L300.9 118.6L312 129.8L219.2 155.7L134.6 130.7L296 157.8L314.8 118.8L222.4 154.9L309.5 154.1L131 119.1L102.7 128L207.6 131.6L96.2 118.4L238 159.1L89.6 142.3L315.8 133.7L198.1 158.9L63.2 162.4L261.4 154.7L147.6 141L305.3 116.9L78.7 149.3L308.5 121.8L106.8 139.3L265.3 145.1L231.2 116.4L109.6 146.3L248.3 118.6L80.9 131.1L166.4 132.2L101.9 117.6L227.4 166.9L224.4 165L90.5 148L153.3 160.9L215 147.9L298.4 167L93.2 138L79.5 144.9L116.2 152.6L150.9 113.9L291.5 120.6L127.9 142.6L72.1 156.7L246.1 120.1L220.9 120.7L197 118.7L131.4 138.7L200.7 150.1L301.7 132.3L149.4 125.2L251.7 134.1L112.9 124.3L168 160.3L172.6 159.1L181.5 146.1L124.4 136.4L248.2 118.2L176.9 127.7L133.8 132.4L109.3 145.8L67.7 126.8L126.6 123.6L277.3 151.9L291.4 120.9L106.6 131.1L191.2 160.2L277.3 161.7L61.6 115L145.9 137.5L58.7 133.1L90.7 162.4L112.5 131.3L103.2 161L86.7 138.1L115.2 127.3L319.6 153.5L251.4 133.4L315 167.6L224.8 126.2L69.9 144L185.4 161.8L320.6 159.2L120.9 168.6L218.7 115.6L111.9 167.2L267.1 155L231.8 114.8L304.3 130.2L260.7 143.7L185.9 143L299.5 160.3L161.1 161.2L103.2 133.1L141.7 116.1L162.8 113.6L312.7 159.3L183.5 117L126.5 112L134.5 107.6L169.8 110.8L90.4 109.5L204 111.8L164.5 113.4L124.5 111.9L77.9 112.9L200.9 108.1L272.1 112.7L91.3 112.7L310.2 109.3L265.7 111.7L206.7 109.5L139.6 112.3L263.6 113.1L75 110.7L243.3 108.4L62.5 112.8L263.1 111.6L144.8 109.8L271.5 107.6L247.8 111.6L179.2 113.2L223.7 112.7L108.3 109.7L134.1 110.2L256.1 113.4L297.3 112.5L314.5 111.8L251.6 107.6L164.6 110.2L84.8 112.9L155.4 108.6L78.6 110.5L145.9 113.2L224.5 109.8L98.6 107.3L238.7 111L187.7 110.3L165.4 112.9L71.6 108.5L266.6 109L144.6 109.8L135.1 111.9L82.3 110.6L245.6 109.2L249.6 109.3L221.4 107.7L140.8 110.6L218.4 110L66.8 110.5L285.4 108.8L112 111L118.3 107.7L76.6 111.1L289.8 112L212.7 112.7L281 108.7L157.6 113.3L305.8 172.7L223.3 171.2L80.9 171.1L117.9 172.7L230 172.6L297.5 169.5L111.4 170L154.6 174.1L180.5 173.5L105.3 171.3L267.9 171L249.8 172.5L230.1 169.6L152.1 174.4L156.1 170.9L320.8 172.4L240.8 171.9L221.6 171.4L129.6 171L117 173L80.2 170.1L190.9 174.4L263.3 172.8L252.8 170.5L191.8 169.6L194.3 169.7L87.5 170.1L148.2 171.9L114.6 169.9L89.1 174.2L317 174.1L93 170.5L289 169.6L96.3 172.7L311.6 174.1L279.9 171.1L250.7 174.2L294.5 174.4L258.2 173.4L242.3 171.6L208.3 174.1L208 169.6L175.1 173.9L244.2 171.9L303.6 173.3L116.2 173L286.6 169.5L304.4 171.7L280.9 169.6L141.5 171L114.4 172.8L267.1 172.7L297.2 170.1L132.7 171.5L266.3 173.2L318.6 173.9L197 173.2L273 172.1L236.3 173.8L276.6 170.3" fill="none" stroke="none" marker-start="url(#m0)" marker-mid="url(#m0)" marker-end="url(#m0)"/><defs><marker id="d2" markerUnits="userSpaceOnUse" markerWidth="6.8" markerHeight="6.8" refX="3.4" refY="3.4" overflow="visible"><circle cx="3.4" cy="3.4" r="2.4" fill="#7E2F8E"/></marker></defs><path d="M56.1 153L63.4 145.2L63.7 153.8L57.3 144.7L61.9 151.8L57.3 156.1L57.8 155L64.6 144.1L62.3 150.7L64.3 149L59.6 145.8L63.7 147.2L64.3 142.8L64.1 142.6L62.5 156.7L58.8 151.3L59.6 143.3L63.6 149.8L63.3 142.8L57.3 145.8L63.4 142.7L56 148L59.4 155.2L63.8 145.9L62.7 147.7L62.9 152.3L56.5 149.4L59.7 149.3L61 152.8L59.5 150.2L63.5 152.6L57.6 144.4L58.3 156.8L59.4 155.7L64.8 152.9L59.2 153.6L60.5 156.8L60.5 152L62.2 151.9L57.5 150.9L59.8 152.6L63 145.4L59.2 146.2L64.7 149.8L60 157L63.1 155.4L60.5 144.2L59.3 143.6L59.5 149.2L60.3 157.2L60.8 144.8L57.5 152.6L60.6 148.5L60.4 148.5L62.1 151.3L56.3 149.8L58.1 151.2L60.1 153.9L64.8 153.6L61.5 150L56.9 153.4L57.6 148.1L61.2 146.3L63.8 150.6L64.8 142.6L60.1 147.2L61.1 152.2L61.3 156.6L59.9 147.9L62.8 150.7L58.3 156.3L57.9 143.4L60.8 156.1L63.7 154.7L61.5 150.1L58.5 144.8L59.9 155L61 157.2L63.2 150.6L61.3 148.6L64.2 155L57.5 156L62.1 147.8L62.7 148.7L62.3 150L61.7 156.3L64.1 149.6L59.4 153.2L62 143.7L60.5 146.5L61.8 144.8L58.6 146.1L58.4 150.9L63.8 152L61.8 153.9L59.4 148.8L61.9 145.4L62.8 156.3L64 143.3L64.3 145.7L57 151.7L59 145L61.5 150.5L60.8 150.1L61.5 154.1L62.5 153L63.5 149.4L61.7 144L56.6 149.2L62.1 145.9L64.7 146.7L60.4 149.4L64.8 144.6L58.1 151.9L59.2 147.5L57 156.2L59.9 151.1L58.1 156.5L56.8 152.9L56.4 150.4L58.8 156.8L59.9 155.1L56.1 145.9L65 147.9L56.2 146.2L59.2 150.3L59.3 146.9L60.2 149.4L57.5 150.2L61.2 151L62.7 149.2L57.8 156.6L56.9 146.9L59.7 148.6L57.8 155.4L58.6 150.6L61.5 144.3L59.8 144.3L60.8 153.4L63.7 156.6L56.9 149.3L62 148L64.6 149.8L69.1 126.3L66.1 142.7L68.9 137.5L69 144.4L66.3 143.1L66.9 127.5L69.3 146.6L69.2 130.7L68.5 125.5L66.8 132.4L66.8 134.5L67.1 135.9L68.4 141.7L65.4 129.7L65.2 133.1L66.3 137.7L68.4 150.2L65.3 132.2L66.9 124.7L67.6 125.5L67.4 139.9L66.1 150.5L65.6 125L64.4 130.8L68.3 143.9L65.9 147.6L64.7 130.5L67.2 138.5L68.6 132.6L69.3 141.1L68 139.5L65 139.3L69.5 124.9L65.7 132.6L65.3 144.7L67.7 128L68.1 147.5L64.1 125L67.4 147.6L67.1 137.8L66.2 139.3L69.4 140.2L68.3 136.7L69.2 144.7L66.9 132.4L65.6 150.1L67.7 126.4L66.9 135.7L67.4 131.9L69.3 137.1L68.8 131.3L69.2 138.8L67.1 135.9L69.5 139.2L67 134L70 121.4L69.8 121.3L64.8 122.7L64.1 126.9L65 130.2L68 121.4L71.2 121.7L73.6 121.9L76.3 118.3L64.5 129.9L73.1 121.3L72.5 122.7L70.7 121.5L71.1 126.7L75.3 121.2L71.5 125.5L75.7 124.3L75.5 130.5L69.3 123.3L77 125.7L71 128.4L72 124.9L72.7 121.3L68.9 117.8L73.6 129.1L73.8 131.1L74.1 119.2L68.1 130.4L65.2 129.8L74.6 119.7L66.6 127.8L72.6 118.1L71 120.3L75.5 125.1L63.9 123.2L63.8 130.2L75.9 127.6L63.7 130.6L67.3 126.7L74.2 125.4L65.3 121.1L73.7 119.4L68.9 130.6L69.3 119.8L72.6 122.5L74.5 122.7L75.1 129.1L66.1 125.2L69.8 119.4L76.2 122.4L72.1 118.5L76.7 131.2L73.1 119.5L72.8 124.2L70.2 120.7L65.8 129.4L72 128L73.8 123.2L71.2 121.9L72.7 123.6L74.4 121.7L68.9 118.8L64.2 120.7L63.9 123.6L68.9 129.9L64.3 131.3L65 129.2L68.6 121.1L72.1 122.6L63.9 119.5L73 127.6L77.3 121.2L74.2 122.4L70.8 121.5L69.3 130.3L67.1 123.6L76.1 123.9L74.8 125.1L68.5 127.6L72.6 123L77.4 119L75.3 127.6L73.4 124.2L74 118.3L72.9 129.6L69.3 127.9L73.2 124.6L74.3 124.4L65.3 124.9L74 120L70 129.2L63.9 129.6L68.5 122.7L73.3 125.6L67.6 119.8L69.5 130L77.3 127.6L73.2 127.2L76.2 119.9L65.7 129.3L64 124.9L69.2 130.4L72.3 120.8L64.6 124.2L71.3 124.1L71.7 118.6L68.6 129.2L67.7 120.3L66.1 130.7L75.6 123.3L68.2 122.8L75.8 130.2L76.7 129.5L73 119.3L76.6 120L73.8 122.6L64.2 126.8L67.2 130L66.2 126.9L69.7 118.4L67.6 122L67.1 157.5L75.3 143.1L78.8 119.1L84.2 113L86.3 153.4L80.9 105.1L82.3 85.9L75.9 92.5L76.9 87.2L80.7 80.9L78.8 84.9L76.8 89.9L78.1 110.4L80.6 94.3L82.8 88.7L75.7 100.8L80.9 103.6L78.5 103.5L77 110.7L80.6 106L78.8 109.7L78.2 110.8L77.9 110.7L76.8 97L79 98.1L81.5 107.5L75.6 103L78.7 93.5L75 109.4L82.8 103.6L79.1 83.3L76.9 91.1L74.8 92.6L77.3 93.8L74.6 84.9L82.5 98.2L76.1 94.9L77.2 96L75.6 104.2L82.3 100.6L82.5 106.4L78.8 97.2L80.1 92.3L74.7 95L81.3 102L74.4 106.8L74.4 97.1L75.6 90.2L76.1 100.1L80.3 108.6L78.5 82.6L74.3 83.4L75.1 86.3L76.6 85.4L81.6 92.1L78.3 105.5L75.6 96.5L74.4 96L82.3 98.6L76.7 100.7L78.5 96.4L79.7 103.2L81.9 111.6L82.6 106.3L80.1 106L75.7 86.9L81.5 94.5L74.2 104.2L75.2 89.3L82.2 86.7L81.4 89.1L81.1 92.7L79 102.3L80.4 87.3L80 85.9L76.2 105.3L75.4 93.8L75 99.1L75.6 92.1L82.7 94.8L78.5 81.7L76.3 84L79.5 85.6L75.6 85.2L80.6 101.3L76.6 90.6L76.5 98L79.1 84.9L75.4 100.5L76.5 101.7L75.6 83.8L74.6 107.8L78.8 81.3L77.2 100.7L75.9 107L74 97.3L79.1 86.7L82.8 98L75.2 104.6L74.3 102.2L81.4 100.9L74.2 82.7L81.4 107.5L76.4 110L86.8 86.1L87.1 83.7L84.5 88.6L83.9 95.8L83.1 107.3L83.9 100.3L84.6 106.2L85.6 95.7L86.6 97.3L85.1 87.7L86.7 99L85.1 107.9L85.1 101.8L83.7 92.3L85.9 89.8L87.7 108L86 101.2L84.2 102.5L87 94.8L85.6 99.6L84.1 84.5L83.8 96.4L86 104.6L84.2 87.6L84.9 87.5L84.1 95.5L86.2 86L83.7 95.1L85.4 87.8L86.1 97.4L87.5 107.1L85.9 85.6L85.4 90.1L84.2 85.3L86.2 99.7L84.2 89.1L87.7 97.1L86.2 89.5L87.4 101.2L85.3 86.2L85 84L83.9 102.8L83.4 88.5L84.5 107.4L83.7 93.7L85.5 84.5L85.6 85.1L84.4 91.4L87.7 94.3L84.3 91.6L84.3 87.4L84.4 100.6L84.6 89.1L83.1 102.9L84.3 90.1L87 107.4L85.5 85.1L86.9 102.3L83 90.5L86.9 95.2L83.7 107.8L83.9 87.9L86.2 107.9L86.3 83.9L83 88.7L86.1 107.2L85 136.5L88.9 130.3L90.4 133L86.8 137.7L87.9 136.1L84.6 136L85.2 138L89.5 136.3L88.7 139.5L89.9 136.9L86.7 130.1L91.1 130.6L84.5 135.8L91 134.3L85.6 130.2L85.3 133.5L86.6 132.6L90.3 139.7L91 131.9L89 131.6L87.4 134.9L86.4 137.6L85.7 137.8L89.5 136.1L84.7 131.2L89.8 139.3L85.9 136.5L89.4 138.4L85.1 132L84.6 136.7L86.7 136.8L85.3 136.2L86.1 134.3L88.3 139.2L85.5 137.6L84.5 131.7L89 130.8L90 138.6L85.7 136.9L88.7 139.5L87.6 133.6L90.3 132.6L90.5 133.5L87 138.1L89.4 131.8L88.7 139.6L87 135.4L88.7 137L86.9 133.7L85.4 136.1L86.5 137.6L84.5 137.4L85.3 138.4L89.9 133.5L84.9 132L85.6 139.5L89.8 130.2L84.3 135.4L87.3 135.4L90 138.1L85.1 139.4L87.4 134.6L85.2 132.3L85.5 132.7L88 132.5L86.1 131.1L91.7 152.6L95 145.3L92.3 153.7L91.2 150.6L91.5 142.8L95.4 145.4L97.4 147.2L97.3 139.3L93.7 142.5L95.4 144.8L92.1 140.2L91.6 139.1L96.9 153.4L96.4 141.3L96.5 146L93.6 150.9L93.4 143L91.5 142L99.3 145.8L97.6 145.9L93.5 143.8L95.6 143.1L95.7 138.6L94.5 140L95.4 146.6L99.2 152L99.1 145.2L93.7 151.6L92.2 144.2L91.6 151L97.7 152.8L92.8 151.4L97.3 146.8L95 150.9L95.3 153.1L99.3 144L95.9 145L99.1 151.7L94.7 144L93.9 148.7L97 148L95.7 148.8L91.2 145.8L97.3 149.7L98.4 141.8L99.3 153.5L96.6 151.2L92.9 141.2L93 146.6L99.1 143.7L99.4 151.3L91.5 138.7L100 146.1L98 151.8L93.8 138.4L98.8 152.9L94.7 148.6L91.2 153L96.5 153.6L97.2 143.9L92.7 146.3L98.8 146.6L95.9 141.7L92.4 142L93.8 145.7L99.5 142.5L93.1 149.9L99.4 141.9L93.8 144.8L91.6 139.7L96 142.1L93.2 150.9L95.4 147.1L96.9 149.9L99.3 153.5L92.1 149.9L91.3 140.1L93.4 140.2L92.5 141.9L98.3 150.6L95.6 146.9L97.8 147.5L91.8 145.5L92.9 145.6L99.8 141.3L94 147.4L97 143L94.6 146.1L107.9 140.4L107.4 148.2L107.7 145.6L104 140L98.1 149.6L99.6 147.6L108.7 148.2L104.3 148.3L98.5 154.8L100.3 140L100.9 146L97.9 146.2L96 154.1L102.2 144L102.6 148.7L100.4 152.1L101.3 153.8L105.7 150.3L97.3 150.4L108.6 152.1L95.6 144L95 149.8L107.3 150.2L104.2 148L105.1 148L106.1 142L101.5 149.3L96 148.3L107.7 140.9L105.2 150.7L107.4 154.5L103.9 148.8L101.6 146.4L103.4 144.8L106.1 148L101 147.5L104.9 152.5L106.3 150.5L98.4 139.6L96.7 140.9L102 140.8L101.6 151.2L101.1 153L100 147.1L98.7 141.6L103 141.5L97.1 144.1L105.1 154.7L98 143.3L108.5 148.5L106.1 155L104.2 143.4L108.6 153.3L95 154.5L104 143.2L101.6 144.2L105.8 145.8L96.2 153.3L99.6 142.3L104.7 141.6L103.4 146.4L96.7 154.3L104.6 140.5L107.5 149.5L106.4 151.5L97.4 144.4L97.4 152.1L108.2 148.4L104.3 154.6L102.2 146.4L98.9 154.8L96.7 142.5L106.8 140L97.8 147.7L98.3 145.5L95.4 149.9L96 144.1L96.4 150.3L98 148.1L95.5 148.3L99.8 153.6L97.7 144.2L107.1 140.5L101.8 147.1L99 142.2L101.9 140.1L95.1 144L100.3 143.6L104.9 146L103.5 148.7L104.9 154L102.8 150.3L102.7 140.8L106.6 147.7L95.5 151L102 154.2L100.8 146.9L107.5 153.9L105.7 146.4L101 150.9L107.5 146.7L104.8 148.2L102.7 142.9L98.9 143.5L108.7 140L98 142.7L106.3 149.9L99.3 141.2L104.4 151.1L103.9 150.6L103.3 140.1L106.1 153L97.3 145.5L108.7 154.6L106.4 152.6L97.2 153.1L106.4 142.7L107.7 152.1L107.7 153.4L96.3 142.2L106.2 142.3L99.8 151.8L106.5 145.8L100.7 150.3L108.8 149.3L99.8 143.3L97.6 149L105 143L105.3 148.9L103 147.7L100.7 139.8L102.5 149.8L111.3 165.5L109.7 151.9L111.1 156.2L111.8 165.1L106.1 150.1L105.8 160.5L108.7 159.7L107.6 159.2L106.1 152.7L110.3 153L106.2 160.1L111.9 164.9L111.2 161.2L105.6 151.8L109.3 158.1L110.9 149.7L109.6 150.4L110.4 150.7L108.7 162.2L111.9 162.6L110.6 154.2L109.7 158.3L108.7 159.2L108.4 155.6L110.5 160.1L111.8 164.8L110.7 151L108.8 157.5L110.6 164.5L106.8 149.4L111.2 165.6L107.7 159.3L108 155.7L109.6 160.8L111.4 155.3L108.7 156.8L111.9 157.9L111.5 165.5L105.7 162.2L106.2 157.6L109.6 150.5L109.3 160.8L107.8 158.3L108.1 151.8L107.2 165L109.6 158.3L110.7 163.3L110.4 155.9L109 154.6L105.9 164.7L106 155.5L111 154.4L111.4 149.6L106.5 156.7L109.6 162.5L111.3 163L106.7 165.9L105.8 157L107.8 149.6L106.8 165.9L111.8 155L112 161.6L105.7 159.3L106.8 153.9L110.2 152.7L107.8 149.3L107.6 154.3L106.2 150.8L108.1 150.6L111.6 153.5L107.9 150.3L110.8 152.4L106 155.4L111.4 164.6L108.5 159L106 164.4L110.4 153.3L117.5 159.5L115.1 161.5L115.7 160.9L115.5 161L112.1 158.8L117.1 164L115.3 167.3L113.7 159.9L114.7 168.7L116.8 164.2L115.9 161L118.2 167L117.2 162.8L115.8 168.1L115.5 168.9L113.8 169.2L114.1 165L112.9 163.3L117.8 157.5L113.2 165.5L116.3 167.7L116.5 168.2L115.9 159.4L115.5 161.4L112 164.9L118.3 164.3L116.9 166.7L112.2 165.6L118.4 167.2L113.9 171.1L116.4 171.6L117.5 166.1L115 165.3L114.1 170.3L112.8 172.4L114.2 163.9L116 161.9L116 157.9L117.7 158.6L117.7 170.4L117.1 168.7L113.2 165.9L112.4 168.6L117.1 160.3L114.9 158.4L116.3 167.9L112.4 166.6L117.7 159.8L117.9 161.3L112.1 158.3L116.9 160L117.6 163.8L112.5 169.7L114.1 159.1L112 161.7L115 164.7L115.8 158.3L112 170.8L114.8 168.3L117.8 166.3L116.8 160.4L113.4 165L118.4 172.2L113.5 166.9L113.9 162.6L113.8 172.5L116.9 136.6L115.4 140.8L115.4 140.6L116.2 134L115.2 135.3L119.8 135.4L116.7 139.7L116.2 139.8L119.8 140.9L115.2 140.1L118.9 140.2L117.9 132.6L118.4 137.8L117.4 139.9L115.9 135.6L118.2 141.4L120 141.2L116.3 136.1L117.6 136.5L115.4 135.5L119.7 135.6L119.4 141.3L117.6 141.6L119.9 131.5L118 142L116.6 135.4L115.8 141.2L117.8 138L118 141.4L117.6 137.5L117.2 135.1L119.8 138.6L117.5 132.4L118.2 131.9L117.4 133.7L117 133.9L116.1 136.3L115.6 134.2L118.6 132.5L119.2 136L116.1 140L116.9 135.5L115 133.4L119.7 136.9L127.4 131.9L121.5 126.4L134.7 132.4L125.4 135.3L125 130.1L133.3 135.2L124.8 136.8L123.6 127.8L128.7 131.5L129.2 130.3L133.3 127.6L127.4 132.9L135.1 127.7L126 130.4L124.6 130.9L136 127.4L134.1 135.6L128.3 128.9L122 131.4L134.4 129.3L124.3 134.9L122.7 131.5L133 130.9L125 132L125.7 132.9L133.5 134.5L133.2 126L124.6 132.8L130.8 135.7L127.5 125.3L121.3 125.1L129.1 128.5L120.6 135.9L121.1 128.9L133.2 133L123.7 136.5L127.6 134.8L127.2 132.6L136.3 125.2L129.7 131.9L136.4 132L124.5 126.2L129.4 126.6L126 136.5L123.1 127.1L131.4 130.8L135.4 128.6L132.9 129.7L136.9 136L123.3 129.1L128.1 130.4L130.1 133.1L122.5 132.6L134 129.6L124.6 127.7L130.3 126L123.6 128.3L131.7 133.8L129.2 126.4L126 125.3L136.9 130.3L134.2 127.6L124.7 126.3L126.6 133.1L129.4 128.5L122.2 127.9L133.1 126.7L136.9 135L122.9 124.5L134 125L131.4 130.8L127 131.8L120.3 133.9L134.3 125L124.8 135L123.3 126.3L133.7 136.9L136.8 126.9L122.3 124.6L122 128.6L136.3 133.9L123.1 129.5L129.3 126.5L121 126.9L125.1 125L136.6 136.7L128 129.9L129.4 134.9L127 136L136.3 128L129.8 136.4L125.2 136.9L128.5 132.9L121.6 129.4L131.2 127.1L136.5 129.5L129.6 134.2L125.3 133.3L132.5 134.2L125.4 128.7L129.9 130.1L128 131.6L132.9 126.3L123.6 126.1L128.8 127.1L135.8 127.1L127.6 134.1L124.8 125.5L123.9 133.3L125.9 136.3L122.6 128.3L128.4 128.7L125 125.8L128.6 133.9L126.3 136.8L130.6 129L126.2 128L121.6 130.4L129.1 134.4L121.3 124.9L135.4 129L132.3 135.5L124.8 126.7L133.3 128.3L128.5 124.5L129.9 130L123.6 126.9L135.8 135.7L125.3 128.5L125.8 128.8L126.5 136.5L120.3 129L129.3 132.1L125.7 133.5L127.3 126.4L135.5 127.1L132 136.1L122.9 134L133.2 128.8L135.6 126.2L128.8 136.7L128.9 135.4L126.8 132.6L128.3 133.4L132.5 133.5L132.9 127.2L131.1 134.4L132.7 126.7L129.3 124.7L136.5 132.6L124.2 132L125.3 131.5L133.4 135.2L136.7 132.7L130.9 133.2L126.7 128.3L134.8 137.7L134.1 129.9L131.9 130L128.5 135.9L135.2 128.1L133.6 135.1L132.7 129.5L128.9 135.4L127.2 129.7L130.3 129.7L127.9 129.6L127.3 129L129.5 131.4L126.5 129.8L129.4 128.7L128.3 128.4L133.1 129.2L130.2 129.4L132.5 137.7L132.7 128.9L140.1 128.1L148.6 126.3L147.1 141.4L148 133.9L142.8 132.2L145.7 135.1L146.4 134.1L148.1 137.7L141 133.8L140.6 144.7L138.3 133.3L143 137.8L139 139.3L139.3 130.6L141.5 126.1L150 125.8L148.8 139.6L149.1 137.5L144.4 134.3L144.5 131.8L139.9 137.4L147.5 146L148.9 137.8L140.2 136.8L139.7 143.4L147 132.8L141.7 144.1L143.1 126.2L145.9 133.8L139.1 143.3L140.3 128.7L144.2 130L141.8 134.4L149.1 137.5L143 142.8L149.1 144.7L138 142.2L147.2 140.2L146.6 139L140.2 145L147.5 129.8L144.3 128.6L140.6 138.3L139.4 124.7L145.3 138L148.9 125.1L141.5 127.1L148.9 142.2L139.6 134.9L146.2 138.1L143.6 136.4L140.3 125.9L139.6 135.7L139.5 143.9L141.3 124.8L145.6 139.1L146.9 134.3L149 139.4L149.2 142L141.1 134L140.2 138.4L142.5 134.6L142.2 128.4L145 140.5L142 127.3L145.3 138.2L144.4 142.7L149.3 141.3L145.1 145.2L144.6 135.9L140.2 131.6L142.2 130.4L141.1 128.5L139 136.7L143.1 142.2L146.6 144.9L148.9 126.9L145.8 144.9L138.7 127.5L138 128.4L149.3 143.8L139.5 124.6L139 143.5L141.7 137L142.1 133.8L145.5 145.2L138.5 133.7L146.5 141.8L145.4 130.7L138 129.5L144.6 144.2L144.9 137.6L142.4 141L149.6 134.9L145.6 136.2L140.8 144.4L138.6 133.7L149.1 137.1L142.5 129.1L142.3 141L146.1 138.2L149.4 132.6L141.2 138.2L149.1 140L148.2 142.7L138 138.5L140.7 139.5L147.4 142.2L140 132.7L139.6 142.7L146.4 136.8L144.4 140.7L143.3 128.5L149.4 141.5L143.8 136.9L140.2 129.6L138.4 139.1L147.7 130.3L140.1 134L141.2 141.2L140.7 130.2L151.5 142.9L154.8 121.6L148.5 119.7L154.4 137L148.8 126.3L156.4 119.6L155 142.1L154.2 127.4L155.1 144.8L153.1 136.1L153.6 145L157.7 137.3L152.4 121.8L152.4 130.4L154.5 132.2L149.7 123.9L155.2 134.6L155.5 123.8L151.9 121.6L148.9 128.3L150 145.7L148.2 133L148 143.7L148.1 142.9L150.5 128.5L148.1 136.2L147.8 137.4L152.9 126.1L154.1 138.6L147.7 144.5L156.6 141.2L157.2 128.1L148.4 130.6L157.1 137.8L148.2 139.8L155.9 131.5L154.1 143.3L151.7 140.9L153.3 140.8L156.3 122.5L149.1 135.1L150.8 126.8L147 131L158 130L149.4 128.9L153.6 119L148.9 133.3L151 138.2L148.4 120L157 139.8L154.1 135.6L149.1 122.5L151.9 137.9L152.1 132.6L147.9 145.5L149.6 129.4L155.9 145.5L151 131.2L156.2 132.3L148.3 124.4L150.7 118.3L147.7 143.9L156.2 142.1L150.3 128.2L157.3 119.7L151.8 128.7L155.2 137.9L157.9 146L153.7 144.6L153.6 124.1L152.6 125.9L157 141.3L148.1 136.9L154.1 140.4L148.6 135L148.2 130.5L151 128.4L151.5 133L148.2 133.4L147.8 138.4L147.4 132.1L147 140.7L157.4 139.7L152 131.5L155.3 120.4L150.9 132L148.9 131.4L150.9 122.2L153.5 130.8L148.4 133.6L149.5 134.6L150.5 138.9L153.6 118.3L150.7 140L150.7 140.4L156.5 144.9L155.3 130.5L152.3 120.7L150.2 125.7L155.8 140.8L153.9 140.2L151.7 136.6L150.9 118.6L152.8 143.5L152.5 144.2L151.3 125.5L148.7 130.6L150.4 121.4L150.4 145.6L155.6 130.3L149.6 132.5L150.7 136L150.1 136.1L155.4 126.3L149.4 134.5L153.3 143.6L155.9 131.5L152.4 140.9L153.3 121.7L151.2 121.5L154.4 140.7L154 119.8L151.5 118.7L154.5 139.9L149.2 138.8L147.5 122.4L157.2 124.4L154.1 145.1L155.4 131.3L151.7 129.8L148.7 140.8L152.7 140.2L152.3 125L149.8 121.6L154.9 132.6L151.2 146.3L151 128.4L149.4 126.2L149.7 132.9L151.6 131.7L156.2 128.3L153.7 132.9L157.4 135.4L157.2 128.6L149.1 124.2L156 121.5L150.2 142.6L147.7 138.5L151.3 124.6L157.4 143L149.3 122L153.1 120.3L157.4 127.6L150.5 119.8L161 125.5L155.7 127.3L161.3 128.9L167.2 129.5L160.3 122.7L163.1 123.5L160.5 121.4L156.1 119.5L163.1 130.1L168.1 121.7L156.9 119.3L155.4 128.9L158.9 123L156.7 127.3L156.7 130.6L154.2 130.3L159.8 124L161.2 121.3L167.2 124.9L161.8 129.5L163.5 129.1L155.6 122.1L157 124.9L157.7 129.9L156.9 123.3L159.8 122.3L164.2 124.6L165.4 122.8L166 129L159.7 130.4L167.4 121.1L161.9 129.5L157.2 129.5L158.3 128.9L159.4 130.5L166.6 123.1L154.1 126.2L162.1 122L167.2 123.6L161.6 121.1L164.5 125.2L156 130.4L157.9 120L164.4 123.7L165.6 123.7L161.9 127.5L166.6 120.3L155.5 124.4L156.1 128.5L158.8 122.8L155.1 121.8L159.2 121.6L157 121.9L164.4 119.8L161.2 126.6L154.2 128.8L164.9 121.4L154.7 119.1L166.6 118.7L162.7 125.8L163.4 124L160.4 124.2L164.9 119.5L157.8 124.6L159.9 126.2L159.6 130.8L157 130.2L154.1 128.8L155.4 121.9L160.1 130L155.8 124.8L165.4 124.5L164.4 131.2L165.5 121.5L158.6 125.3L164.8 130.9L166.2 128.3L162.7 127.5L166.5 128.6L156.4 121.1L159.8 130.7L158.5 128.8L158.2 127.4L166.5 131.1L162.2 125.9L156.3 129.3L157 119.8L166.4 125L160.6 120.7L167.3 127.1L166.4 123.3L160.9 124.8L155.2 118.5L162.5 122.9L166.1 128.1L163.6 125.7L157.4 125.8L163.6 121.5L160.6 119.1L163.7 123.8L157.1 127.4L165.5 121L154 125.8L167.7 119.3L165.5 126.1L164.1 118.4L159.6 118.8L167.6 131L164.2 125.9L165.1 119.9L176 129.6L168.7 122.2L164.1 140.2L165.6 131.9L172.6 136.4L168.8 135.6L174 126L168.1 133.4L172.1 133.2L163.4 126.8L167.7 139.1L171.1 127.3L170.5 127.8L175.8 135.7L174.6 129.7L164.7 137.5L165.4 138.8L173.1 139L170.6 134.7L163.4 127.5L164.6 123.2L170 123.2L169.5 125.1L165.5 137.8L176 134.5L171.1 125.5L168.6 139.5L164 129.5L166.2 126.4L165 136.4L167.5 141.4L167.2 135.9L167.8 137.2L163.8 141.4L166.3 136.6L167.3 122.3L170.1 124.5L173.3 126.2L163.7 132.6L170.7 134.6L172.4 123L174.9 137.9L172.9 122.1L166.8 126L174.6 127.3L168.2 126.1L172.7 124.4L169.1 136.8L167.8 126.5L169.8 125.7L172.6 138L166.1 123L167.9 122.2L174.2 140.8L170.8 132.3L170.8 129.1L170.1 134.1L174.2 127.8L164.9 130.8L163.6 128.1L169.7 138.8L170.8 141.4L173.4 141.4L174.6 128.5L165.4 135.7L172.8 130L173.8 134.7L173.8 122L174.1 139.3L166.1 138.5L166.5 138.7L174 138.4L164.3 125.8L170.2 126.7L168 140.9L175 125.2L165.2 137.3L170.5 122.2L175.7 125.6L164.1 139.4L173.9 124L170.6 140.6L176.1 139.9L174.1 140.5L168.3 136L174.3 138.2L170.9 138.5L173 140.2L175 139.2L165.4 128.7L169.5 122.1L166.7 139.2L175.9 131.7L169.8 124.2L170.1 140.4L167.1 134.9L173.8 131L168.7 136.1L165.3 128.7L166.1 141L166.2 146.7L169.9 143.5L165.2 144.3L166.5 145.2L170.7 143.2L166.8 146.7L170.7 145.7L166.8 147.4L164.9 147.9L169.7 141L165.6 146.5L171.2 141.2L168.9 146.9L169.3 147.5L170.8 141.8L165 147.2L166.2 147.1L171.4 143.4L170 142.1L168.1 141.4L169 141.6L167.5 140.7L171.5 145.1L166.9 142.2L170.1 144.2L168.5 140.8L167.1 144L170.5 142L164.8 144.5L166 140.8L165.2 144.1L167.5 142.5L168.4 151.6L168.4 155L168.4 160.1L176.5 101.9L174 109.5L173.7 117.5L174.3 108.8L177.9 109.9L173.7 109.1L178.1 115.2L174.1 102.3L177.8 106.1L172.8 108.2L176.8 107.4L177 117L176.3 116.1L175.8 102.5L176.3 105.4L177.1 116.3L175 113.1L172.6 110.8L176.2 116.7L172.7 104.4L176.8 111.5L175 117.6L172.7 115.9L173 105.1L176.2 101.9L176.8 106.3L177 111.3L173.8 114.5L177.7 114.5L172.9 108.6L172.7 108.7L174 110.1L177.4 113.7L177 102L175.2 108.1L176.6 116.2L172.3 115.7L174.3 101.6L176 110.1L178 114.7L175.1 114.3L177.6 109.8L174.2 112.2L177.3 113.2L175.9 103.8L176.6 111.2L176.6 108.9L172.5 105.4L175.8 103.7L174.2 108L173.1 105.8L175 116.6L176.5 102.7L174.6 114.8L172.3 113.1L180.8 107.7L181.5 115.5L188.1 128.9L175.2 130.5L181 140.3L176.4 126.6L188.2 123.1L185.9 132.3L181.1 133.3L181.2 143.9L191.7 137.7L187.5 145.3L177 134.9L175.5 142.9L191.4 125.8L182.7 139.2L184.7 123.5L182.5 131.3L186 146.6L176.4 136.9L183.4 132.7L178.5 134.5L177.2 140.6L180.4 146.1L179.5 127.8L178.4 142.1L190.4 146L184.4 139.6L181.5 136.8L177.1 146.1L182.8 135.3L176.9 136.2L178.6 149.2L176.4 131.8L176.4 127.6L184.2 123.9L186.6 138.6L189 131.4L186.6 131.3L187.6 149.3L178.3 140.8L189.6 128.8L175.9 136.1L184.3 138.9L188.9 131.2L189.8 141.7L179.5 128.4L183.3 145.7L191 136.7L184.7 135.7L188.7 122.6L188 136.2L185.3 145.6L177 136.1L192.4 128.8L186.3 129.7L189.1 139.6L177.5 125.8L181.3 134.3L189.6 148L185.1 124.5L183.4 148.1L176.4 134.2L179.9 139.8L178.9 123.2L178.4 136.5L182.7 145.3L178.9 140L192 122.7L184 127.7L182.1 129.1L188.9 129.1L193 127.7L180.4 139.6L177.3 126.8L181.1 140.3L190 138.3L180.2 137.5L193 132.2L177.1 123.1L183.3 148.2L192.2 141.2L179.2 132.4L178.9 134.1L189.1 122.9L184.5 127.9L186.3 143.8L189 131.6L191.4 122.4L180.4 126.1L187.5 135.3L186 123.6L176.9 142.7L186.9 147.4L182.9 138.5L182.8 146.2L180.4 135.6L189.4 132.3L182.9 124.7L192.6 135.8L183.6 126.6L182.5 131.7L178.4 132L181.5 139.7L176.3 149.4L190.4 122.3L183.3 142.3L175.7 146.6L192.7 123.9L180.9 148.7L180.2 142.3L189.7 122.1L183.8 131.1L190.1 124.2L187.3 122.7L186.1 135.1L192 149.2L190.1 141.3L181.9 138.3L182.8 142.5L192.9 140.2L177.7 137.2L184.7 146.8L180.9 132.9L187.7 138.7L184 138.6L179.2 124.5L183 136.6L188.3 133L181.1 148.5L191.6 127.8L190.6 131.4L175.9 144L184.6 147.7L183 123.1L182.2 141.2L179.3 140.2L179.2 140.5L175.2 141.5L178.7 132.7L192.7 124.9L176.4 148.8L189.9 137.7L184.6 134.7L186.8 144.5L177.5 131.9L184.2 126.4L177 139.8L193 144.5L180.8 131.3L193.1 144.7L185.9 124.2L177.4 142.7L181.7 140.2L178 140.9L184.4 125L177.3 128.9L182.2 136.9L192.3 127.2L178.6 136.6L179.1 122.1L184.3 133.4L186.9 136.1L176.3 134.1L176.7 124.1L190.7 147L192.5 142.2L186.2 135.9L184.6 130.8L191 134.8L191.7 132L179.6 139.6L187.9 135.4L179 124.3L186.6 125.7L190.5 134.7L188.2 129.5L191.6 128.6L199.9 101.5L197 105.4L199.3 110.3L197 109.4L197.4 105.1L193 111.3L189.4 105.2L190.9 103.4L191.6 100.9L195 107.4L197.1 116.2L195.4 111.2L198.8 116.2L193.7 114.6L193.5 108L191.6 112.6L191.5 105.6L193.7 100.8L198 100.5L190.2 115.1L197.4 100.9L191.2 107.2L188.9 104.3L192.6 116.5L189.3 111.9L191.1 110.7L188.8 112.8L199.1 101.5L199.7 114.5L192.2 108.4L188.8 103.5L189.3 106.1L191.5 101.6L189.4 103.5L189.4 102.7L198.2 107.4L189.7 114.6L190.6 104.1L189.2 114.2L193.8 110L194.5 114.4L198.9 113.6L194.7 111.9L191.1 114.6L194.5 100.9L192.4 115.9L192 102.5L199.8 107.5L195.2 106.4L191.6 105.8L199.2 108.5L196.7 110.5L191.5 115.3L199.1 102.8L189.2 112.3L190.4 114.6L194.2 108.9L191.8 109.6L192.2 100.8L194.7 114.7L196.2 108.1L198.3 101.3L191.1 106.5L189 102L197.7 108.2L196.1 103.5L199 115.5L192.5 103.7L192.6 105.1L193 111.7L197.4 115.2L195.6 113.9L196 101.8L190.7 104.4L189.9 104.7L196.3 112.6L193.8 109.4L195.9 111.7L193.5 106.4L194.6 110L190.2 108L194.4 112.9L191.9 116.1L196.9 110.6L194.4 103.3L192.6 105.6L194.1 101.7L188.9 116.8L193.1 125.4L195.8 130.9L195.4 125.3L196.4 128L199.1 128.5L193.5 130.2L199.4 123.8L198.7 130.3L198.9 130.5L195.2 128.1L198.4 129.7L197.2 130.1L197.6 126.1L199.6 126.3L193.7 130.3L195.6 129.4L199.2 129.3L197.8 125.6L196.6 126.2L198.7 125.5L196.1 129.2L193.8 129.3L196.9 128.4L197.8 124.9L199.2 128L195.5 123.9L194.4 123.3L195 124.1L193.2 123.4L193.7 124.7L193.7 125.5L193.7 124.3L197.1 126L200.8 108.5L200.5 109L198.6 108.7L195.8 115.5L197.2 106.4L200.2 106.9L195.9 108.5L196.7 109.8L197.8 109.2L201.6 109.9L202.6 112.8L202.5 110.3L197.9 111.7L203.5 107.1L200.8 113.9L199.7 107.5L203.5 109.4L202.8 110.7L196 111.3L197.5 109.2L202.6 114.6L199.9 112.4L200.6 110.5L201.5 111.9L203.4 113.7L202.5 106.7L199 107.8L197.6 107.1L202.4 110.5L199.7 113.9L201.5 114.3L195.3 107.3L199 111.7L203.4 109.6L196.2 108.6L196.1 113.2L199.6 108.7L201.4 109.9L196.7 107.1L201.6 114L201 115.1L203.2 106.4L196.1 111L199.4 109.6L202.8 130.8L211.7 134.9L205.2 139.3L208.8 140.4L209.4 131.5L203.1 135L208.9 130.8L210.9 128.2L202.9 132.9L202.3 128.4L203.9 126.1L207.3 135.9L201.9 139.3L205.1 135.9L210.6 135L201.5 132L202 142L203 127.3L205.5 132L209.4 126.4L202.8 131.7L201.5 135.2L210.8 142.6L207.1 126.2L207.7 128.7L206.5 137.2L211.4 136.2L203.2 127.5L209.1 132.4L203.9 135.8L208.1 136.9L200.3 141.1L208 141.7L208.1 137.8L203.4 132.2L211.2 131.7L210.9 130.7L205.6 143.4L207.8 135.4L200.3 133.1L201.7 136.2L211.7 130.7L211.2 142.6L202.2 141.9L208.6 129L201.9 137L210.5 131.4L209.3 137.5L201.7 138.7L203.6 129.1L205.6 126.6L210.5 126.6L211.8 143.8L210.7 136.7L211.9 126.8L204.6 134.5L202.1 138.4L209.9 134L200.9 132L210.3 143.8L204.7 126.2L210.5 138.7L200.7 135L204.5 143.8L206.9 142.7L205.1 132.2L206.4 127.6L205 131.7L202.3 141.1L207 139L207.3 130L203.5 129.3L207.6 131.5L201.7 140.8L201.7 143.6L204.1 138.1L211.8 130.4L210.6 132L206.5 134.2L206.6 138.3L209.3 132.8L208.4 141.8L206.2 134.5L205.7 129.3L207.4 130.7L204.6 142.7L203.6 132L208 136.9L210.2 128.3L203.3 129.2L201.9 133.1L209.3 141L202.5 138.8L202.4 134.2L201.7 130.3L209.8 138.9L206 142L201.5 131.3L208.2 128.3L205.5 133.7L202.3 131L203.3 135.8L204.2 136.2L204.1 139L210.6 137.1L210 134.4L201.2 142.1L202.5 127.3L209 127.7L206.2 133.7L200.8 134.2L201.5 138.6L210.1 133.5L206.8 133.1L207.3 143.4L203 136.7L200.4 142.5L200.9 133.7L204.5 135.8L203.2 129.2L206.4 140.7L211.6 133.4L203.1 131.8L201.6 141.7L209.7 128.5L211 134.9L207.2 137.4L209 129.8L204.4 135.9L207.6 139L202.9 129.5L208.2 133.7L223.6 151.1L223.4 151.7L222.5 146.8L212.6 146.9L222 130.5L213.3 149.6L214.1 127.3L216.2 135.2L215.6 130.9L217.4 148.1L212.4 138.6L223.2 147.2L212.3 140.9L214.3 130L222.3 150L223.9 126.4L212.2 134.9L216.4 128.8L222.9 138.2L223.7 127.2L217.6 128.7L223.6 149.5L213.4 135.3L223.6 141.6L216.8 142L217.6 148.1L213.1 141.1L222.9 126.8L215.7 136.9L219.1 147.8L218.4 128.2L223.4 130.9L221.6 128.9L213.2 143.4L216.8 148.2L212.7 128.8L213 137.7L214 130.3L217.4 146.4L221.4 136.5L216.1 132.8L220.2 135.7L220.4 129L214.7 140.3L212.1 149.5L222 137.4L213.2 135.9L216.1 135.3L217.2 129.7L212.7 128L213.7 131.1L217 129.8L213.7 141.2L218.7 133.3L220.4 140L214.5 148.6L218.8 129.7L217.9 127.2L215.7 149.2L216.7 139.1L212.4 137.6L222.4 149.8L217.5 151.8L223.6 128.9L221.8 132.5L219.2 138.5L214.6 131.1L223.7 148.8L216.9 147.4L220.3 135.8L221.7 148.1L216 150L216.3 131.7L222.6 146.9L214.6 139.8L213.9 146.2L213.3 152.1L222.8 135.5L222.8 137.9L219.2 149.8L212.3 126.2L215.7 140.1L220.8 131.3L212.8 126.1L212.1 131.4L223.2 137L215.2 130.8L217.2 132.4L214.5 137.9L217 151.5L217 127.1L212.7 144.7L218.3 141.5L223.4 133.8L214.1 136.8L223.4 149.4L218.7 145.5L215.6 138L214.5 141.7L221.3 140.7L222.2 132.3L221.4 144.5L222.3 140.4L215.6 136.1L220.6 133.6L223.6 144.4L223.9 137L218.1 146.3L223.5 128.6L222.5 150.5L216.4 135.5L213.2 143.7L217.1 135.7L214.4 148.1L212.5 150.3L213.6 137.5L215.2 127.6L212.8 129L212.2 132.4L215.7 140.6L222.8 139.4L222.3 136.7L222 132.2L216.5 131.9L216.5 138.9L223.7 145.7L216.8 133.4L220.7 142.6L223.6 150.1L212.9 149.4L213.1 134.3L215.6 132.2L222.1 110.8L222.7 112.2L223.1 128.2L219.7 108.3L220.4 110.8L226.2 124.4L222.7 128.6L219.6 106.9L220.6 124.1L225.2 113.7L225.8 115L223.6 123.6L224.8 118.7L221.7 109.8L222.3 127.7L226.4 125.8L224.5 106.4L222.8 128.3L223 120.6L223.7 118.7L224 117.2L222.3 127.5L222 120L226.2 112.6L220.2 106.2L220.1 111.2L222.8 106.6L225.8 118.8L223.9 127.7L221.4 115.5L226.2 126.5L225 112.4L225.8 106.4L220.1 118.3L219.6 108.6L226.3 113.9L220.3 125.5L220.6 125.1L222 112L225.2 111.2L226.2 107.7L219.7 109.2L226.1 112L221 114.3L219.5 119.5L222.3 125L225.4 117.6L223.7 127.4L221.9 127.2L223.2 107.7L220.5 123.2L226.4 106.5L220.3 123.5L225.4 109.4L222.1 119.5L223.5 115.2L223.5 127.2L225.8 112.6L226.4 112.4L221.6 115.9L225.4 107.1L225.9 124L222.8 115.9L224.7 124L223.6 107.1L222.6 113L227 107.3L223.5 108.3L226.1 104.5L229.7 105.4L230.6 97L229.4 99L233.2 95.2L222.3 95.3L221.6 94.9L226.4 102.7L226.8 94.2L222.8 93.7L228.8 97.7L228 98.6L232 100.5L224 105.7L227.3 102.9L232.7 94.4L225.5 98.7L224.9 93.9L225.7 105L233.5 106.7L232.1 96.3L221.9 102.5L233.4 93.8L226.9 99L231 105.8L230.7 105.7L221.4 104.4L231.8 98.2L221.7 106.3L232.4 93.5L228.2 97.9L230.1 100.9L231.9 106.2L223.7 102.7L223.1 95L229.8 99.8L232.4 107.7L231.4 100.7L222.9 98.4L221.3 101.3L231.1 93.8L233.2 93.2L233.4 98.1L224.5 107.9L227.2 100.6L232.8 108.7L221.5 103.7L222.4 102.2L226.3 105.3L230.2 103.5L231.6 100.3L225.1 94.2L226.4 104.9L221.6 97.6L233.6 98.9L233.2 104.5L223.7 97.3L231.2 104.3L224.8 101.3L229.9 103.7L231.5 99.7L232.9 103.2L228.4 108.5L228.6 101.4L221.8 94.1L232.3 101.3L226 95.8L223.3 99.4L227.2 103.5L222.9 96.6L225.9 94.3L228.5 106.5L232.5 103.1L224 107.6L228.5 106.1L228.8 75.1L228.6 74.6L231 81.9L232.9 83.8L230.8 74.4L233.1 81.1L228 83.3L233.1 75.1L231.8 82.7L227.8 78L228.5 81.3L230.6 78.7L231.9 86.8L227.9 80L229.2 82.1L230 85L230.1 76.6L232.3 78.3L230.1 85.9L230 76.4L230.3 76L231 74.4L228.8 86.4L231.2 80.9L233.1 76L229.3 78.2L232.2 80L228 79.1L228.1 76L230.2 87.8L229.8 83.1L230.7 81.7L232.7 76.9L228.6 77.6L229.9 78.5L229.1 77.2L231.4 79.6L231.5 76.9L229.8 77.1L232.7 78.3L229.6 76.1L231.1 78.3L231.8 80.1L231.3 82.1L233.3 77.9L232.8 77L231.1 84.4L227.9 78.8L230.2 76.5L232.2 75.9L230.3 77.1L232 84.6L232.5 82.1L231.4 87.8L230.3 88.4L232.4 126.7L233.3 143.9L240.6 137.1L235.2 150.3L237 135.7L234.4 152.6L235.1 142.1L232.8 150.9L230.4 151.1L233.3 145.3L239.9 152L239.2 138.8L231.5 153.5L236.7 141.2L234.7 143.3L240.1 151.2L235.1 150.9L239.6 141L232.1 146.1L230.5 150.5L234 143.9L240.6 140L231.3 153.7L229.9 154.4L236.8 136.3L239.3 140.8L234.1 154.3L230.9 142.4L241.1 145.4L236.8 136.1L241.9 148.6L240.3 137.5L231.6 140.8L239.3 136.4L241.2 153.8L234.3 143.5L237.4 147.2L231.9 144.2L231.2 156L232.3 153.2L236.1 145.4L234.4 153.4L235 138.4L234.6 137L233.5 140.6L241.5 144.9L239 135.7L233.7 151.9L237.3 155.4L234.6 153.5L231.8 146.6L236.1 144.7L240.9 155L237.1 154.9L233.4 142.4L241.7 141.8L241.8 136.6L233.4 148.4L240.5 135.6L232.2 135.7L232 146.1L232.7 137.6L238 138.2L241.6 153.3L240.7 154.5L241 153.6L233.1 135.4L230.9 135.3L234.1 144.3L238.5 143.6L230.8 143.7L238.1 147.8L230.1 144L238.6 138.8L234.1 151.8L240.1 141.2L230.7 140.1L239.2 150.9L231.6 142.2L234.9 145.5L234 136.1L234.6 146.6L241 135.2L239.6 143.8L232.3 152L229.9 139.6L235.3 141.8L239 135.8L236.1 137.3L230.1 139.7L231.1 137.8L234.4 156.1L241.8 140.5L232.7 143.5L232.1 150.8L235.6 148.2L235.1 139.7L231.5 138.6L234.5 145.3L230.2 144L232.6 149.7L241.2 144.3L230.6 147.2L237 143.9L236.7 152.7L232.7 142.8L238.9 136.6L238.2 138.8L233.3 152.1L239.2 143.9L238.8 138.9L243.6 128.5L245.6 136.8L243.1 118.1L241 145.4L240.6 125.4L243.4 110.7L245.6 130L245.1 121.3L244 107.3L245 137.5L243 133.1L241.3 124.3L242.4 137.6L245.8 109.1L245.7 129.1L240.8 140.7L241.8 114.8L242.4 115.3L245.4 110.5L241.5 117L242.9 128L241.4 137.5L245.6 108.6L241.6 120.7L242.5 126.2L242.1 131.1L245.4 125.4L240.7 132.1L243.2 127L241.5 126.6L242 132.4L245.9 119.3L242.1 114.9L240.8 124.1L243.3 131.7L242.3 139.7L245.9 115.9L245.1 124L241.4 119.2L242.9 133.8L242.3 134.4L244.3 107.7L242.2 133.7L244.8 109.4L243.9 119.3L245.7 123.8L245.8 134L243.2 120.7L241.6 122.8L240.6 147.1L245 129.7L240.8 145.5L243.1 131.5L241.3 144L240.2 130.4L242.6 143.7L243.4 128.5L242.6 134L240.1 144L245.5 121.1L242.7 128.8L243.4 137.5L244.6 118.4L241.3 144.7L241 139.4L243.2 118.5L241.5 119.1L243.5 128.1L240.6 133.8L240.7 145.8L245.1 112.9L243.9 123L240.8 135.7L245.7 130.3L245.7 126.7L244.7 109.6L240.4 121.9L244.6 139.5L241.1 129.8L245.2 130.3L242.4 143.6L244.7 107.1L243.5 127.1L243.5 128.5L244.8 134.7L240.6 144.4L242.9 137.3L241.3 126.7L249.5 139.2L253.6 124.4L248.5 116.1L247.7 132.7L251 128.2L249.3 99L248.8 110.1L249.1 111.5L248.8 134.3L246.3 114.6L250.5 109.5L251.3 127.4L248.9 127.2L248.4 116.7L252.5 99.8L250.3 117.9L252.1 105.1L251.3 119.1L253 131.7L252.5 117.9L248.3 133L249.3 111.3L248.7 135.5L247.1 135.6L251.4 128.3L251.1 131.7L246.3 121.8L251.7 108.2L253.3 99.6L249.4 104.7L251.2 129.7L247.3 136.1L249.7 133.9L250.5 127.8L248.5 115.6L249.1 136.5L248 130.3L251.5 135.1L252.8 119L246.2 140.1L253 122.7L248.7 100L250.8 135.5L247.6 105.3L248.3 135.3L252.8 134.6L251.4 120.7L250.5 119.1L249.8 133.9L247.1 133.9L249.8 130.2L253.1 103L246.5 134.6L246.1 124.5L247.2 116.6L251.3 132.3L252 112.3L252.9 121.7L252.4 121.2L246.2 136.4L250 119.7L252.1 135.6L249.6 119.4L250.5 112.5L246.9 134.6L247.6 103.8L246.3 131.4L249.8 126.8L250.7 125.3L252.5 95.4L248.2 109.9L249.1 100.8L253.2 107.9L251 100.1L250.8 124L246.3 104.6L249.4 129.2L247.2 120.7L246.1 122.7L253.6 101.2L250.1 115.4L246.7 105.3L251 112.2L250.7 107.6L248.7 106L251.9 133.9L253.3 107.5L247 140.1L253.7 111L251.9 122.9L253.6 123L246.5 118.4L246.1 135.2L252 100.5L249.7 130.6L248.8 120.8L246.3 122.7L246.2 139.1L253.1 113.9L255.9 140.8L256 149.4L252.9 150.5L255.3 150.2L252 134L255.2 146L253.7 141.2L254 139.6L254.7 147.1L255 143.6L254 140.4L250.7 135.9L252.7 137L253.1 141.6L250.8 131.6L253 144.6L251 135.1L252.3 141.3L251 147.2L251.7 145.7L254.3 150.4L253.8 142.9L253.4 137.7L255.3 137.9L253.5 142.4L255 144.2L253.5 146.8L252 150.1L255 139.4L254.2 139.2L251.6 148.3L255.2 140.3L251.8 149.4L253.8 143L253.9 138.3L253.6 151.9L252.2 138L254 147.4L254.4 146.5L253.2 149.3L255.2 138.7L251.3 135.2L255.7 142L255.3 140.8L251.7 137.7L250.7 144.7L254 139.1L252.7 144.7L255.5 148.5L253.5 136.3L253.8 150.1L255.2 141.7L251 135.1L255.6 149.6L255.7 149.3L251.9 142.3L254.3 145L255.6 141.2L252.7 148.9L252.5 140.7L254.5 140.3L254.7 146.8L255.4 148.9L251.9 149L253.3 134.6L252.5 148.8L256.6 139.1L258.7 154.7L259.5 145.7L259.5 160.4L257.6 157.6L256.9 145.1L257.9 155.2L259 146.2L260.4 146.2L260.2 154.6L259.8 153.4L260.5 162.9L256.6 153.4L259 143.7L257.5 142.2L256.5 142.3L256.3 143.1L258 149.1L259.3 152.9L260.6 147.5L258.3 159.2L257.3 141.2L258.6 152.8L258.6 145.6L260.4 157.1L259.1 145.8L259.9 157.5L260.4 151.3L256.6 153.4L259.4 147.7L259.3 148.9L256.9 155.5L259 155.1L256.8 139.2L260 155.3L260.7 151.5L260.7 149.6L258.1 154.8L259.4 147.1L258.7 154.1L256.6 152.5L260.4 151.5L256.8 139.3L258.9 146.9L259.9 151.4L259.6 152.6L259 148.3L256.8 142.2L258.4 146L260.2 162.2L259.7 156.1L256.3 148.3L256.5 140.8L258 156.9L258.9 143.8L258.5 154.2L259.1 159.7L260.9 162.8L256.5 156.2L260.2 161.7L256 151.2L257.5 156.6L256.6 147.8L258.7 150.9L260.9 150L258.4 157.3L262.3 112.9L267.2 124.6L268.5 127.6L268.7 146L263.9 132.1L261.4 144L268.8 141L269.5 132.5L260.7 142.5L265.5 132.1L267.8 136.4L265.4 141.3L261.5 141.2L260.4 126.3L262.8 139.2L264.3 140.1L261.2 143L266.4 137.3L263.1 131.4L270.1 125.8L270.1 131.8L262.5 142.6L263.8 126.2L264 131.4L263.5 132.3L265.2 124.1L260.2 146.9L269.6 133.5L263 131.2L260.5 132.4L268.4 147L262.2 135.2L261.5 138L264.1 134.5L266.8 143.1L260.3 144.1L269.5 142.2L267.4 128.7L269.5 138.5L265.9 128.9L266.5 130.3L269.3 145.8L266.6 141.5L269.1 139.7L261.5 141.5L262 144.1L262.7 147.4L268.5 142.2L269.3 129.1L269 144.6L268.5 143.2L268.1 143.3L264.7 147.3L263.7 142.4L267.8 128L261.5 145.8L266.6 130.5L267.6 135.7L267 134.9L269.1 144.2L260.8 142.8L265.4 124.8L263.3 143.9L264.3 127.6L264.9 126L260.8 129.8L259.7 134.7L268.2 142.3L267.2 144.2L270.2 131.6L265.7 139.7L261.9 140.2L264 128.3L263.1 147.6L264 139.4L267.3 130.5L261.4 146.7L259.8 133L269.3 136.2L267 136.4L266 126.9L267.9 130L267.2 147.6L260.6 143.3L260.2 126.7L266.3 143.6L266.5 128.3L268.5 129.2L264.5 147.2L263.9 129.3L262.8 129L269.1 131L260.1 124.2L267.6 138.2L265 128.6L267.3 145.7L270.2 129.8L267.1 132.7L265 130.1L260.9 143.4L262.3 123.5L261.9 130.2L260.8 138.3L262.4 133.4L265.8 146.3L261.5 131.8L263.5 136.7L266 124.5L267.3 126.1L269.5 134.9L263.6 133.8L271.6 96.8L271.7 88.2L271.8 107.7L271.4 109.1L273.3 93L272.1 109.1L270.4 109.1L274 93.5L268.6 86.9L272.5 114.2L272.6 105.6L272.2 92.8L273.3 111.8L274.5 113.3L272.2 101.6L270.7 105.3L272.8 118.1L270.9 91.7L271.6 97.7L268.8 105.8L270.9 103.2L273.1 78.4L274.4 114.6L274.2 87.3L272.6 107.9L268.7 80.3L274.3 112L274.4 102.2L271.3 101.4L274.4 90L269.2 114.2L268.3 106.2L270.4 111.8L273.8 80.4L271.1 99.8L268.5 112L271.3 91.5L270.6 81.8L274 117.3L273.8 79.8L273.8 79.4L270.5 108.7L272.5 81.3L268.8 100.4L274.1 99.1L270.3 86L272.6 99.6L272.1 97.8L271.9 107.4L270.4 92.4L271.7 95.4L272.6 92.9L271.6 96.9L274.8 82.5L270.8 110.2L273.4 75.4L271.8 106L268.3 111L269.9 113.5L274.5 98.3L272.3 102.2L272.9 84.9L273.8 93.5L273.8 107.1L270.9 113.5L271.3 93.2L268.4 81.8L268.7 101.4L273.2 74.9L274.8 101.2L268.9 96.5L270.8 87.5L274.5 119L273.6 115.7L272.6 80.8L268.5 80.5L272.3 111L273 84.9L271.1 76.6L269.9 102.7L269.1 79.2L270.4 106.6L268.3 95.8L270.3 79.1L268.9 104.6L270.5 94.1L273.1 84.9L270.3 87.6L283.7 157.3L277.1 125.5L280.1 148L282.7 152.2L277.2 122.1L274.8 131.1L279.3 155L283.1 121.3L276.3 147.2L281.1 153.8L273.2 125.9L282.4 138.2L278.6 120.9L282 135.4L280.1 123L280.4 132.8L273.4 137.3L283.9 146.8L270.9 122.2L281.5 141.8L276 161.6L283.5 164.1L271.4 135.7L282.6 154.4L273.9 159.6L283.1 163.3L281.1 121.7L271.6 160.7L276.2 135.5L280.6 146.8L275.2 137.7L276.1 163.7L272.7 140.5L276.9 159.4L279.7 155.9L276.7 133L274.1 163.9L272.7 157L271.5 130.5L274 163.6L280.2 143.1L283.8 124.5L280.9 145.9L277.8 132.2L276.1 124.8L271.3 150.1L282.6 126.5L277 148.6L280.8 129.3L275.8 139.6L283.7 127L281.8 155.3L274.3 147.2L276.1 123.4L275.5 123.4L279.5 155.8L271.8 137.8L282.5 147L282.7 121.5L278.7 163.5L273.5 154.7L274.8 155.1L276.4 143.3L280.2 143.3L282.7 140.1L273.1 137.3L279.1 136.9L279 120.1L271.5 157.8L277 128.3L278.6 120.8L271.9 139.8L275 132.8L271.9 141.2L274.9 152.7L283 154.9L272.3 141.9L272.8 134.4L279.2 121.9L272.4 165.4L275.3 163.8L271 131L272.8 153.6L273.5 124.8L282.9 154.1L276.8 151.2L283.6 152.4L282.4 127.5L280.5 119.9L282.7 164.3L279.9 149.5L273.8 160.3L279.4 165.3L283.7 127.8L276.5 119.8L280.7 122L277 123.4L278.8 129.4L272.5 136.3L272.6 150.5L273.8 157.7L271.7 126.4L276.4 162.7L283.5 124.2L277.8 152.8L277.7 137.8L283.4 121.6L279.2 120.7L283.2 162.1L282 139.4L274.7 142.5L277.6 138L275.5 156.9L273.2 132.6L274.3 139.2L276.6 148.1L276.3 163.4L278.9 131.1L284 146.9L282.6 131.1L275 139.6L278.9 133.5L283 128.7L277.7 151.2L283.2 156.5L276.4 155.4L279.3 130.9L270.9 160.6L276.4 144.6L274.4 164.4L282.6 125.1L277.9 124.7L275.8 138.3L282.5 164.4L274.2 126.2L274.1 138.4L271 137.7L275.3 142.7L279.1 135.6L275.9 121.5L278.4 127.4L273.7 141.4L279.4 141.5L277.9 147.4L273.5 127.2L280.1 146.3L276.1 152.4L272.6 138.3L270.9 136.2L279.9 142.4L281.1 121.3L278.5 145.4L276.7 148.4L273.9 147L281.4 121L271.6 132.2L277.5 160.5L279.1 158.4L275.7 152.2L283.6 156L272.8 136.9L273.8 158.5L280.2 126.7L278.7 153L280.7 158.9L281.9 159.5L278.3 150.4L279 127.7L274.5 156.1L275.3 132.7L275.3 157.3L275.7 121.4L278.8 150.5L280.8 148.1L271.8 124.6L277.3 165L293.4 96.3L284.4 102.1L290.4 79L281.9 101.3L293.8 102.2L285.4 82.7L283.6 92.5L294.4 89.8L290 81.9L283.3 92.8L287 88L290.6 85.1L284.6 90.3L290.9 90.1L283.4 109.3L289.2 89.5L286.3 78.7L289.5 80.4L292.2 99.2L285.8 101.2L285.5 93.4L290.5 84.1L287.6 96.2L291.9 109.1L285.7 100.5L282.7 92.8L287.5 89.6L288.5 87.8L283.6 97.7L287 105.2L294.1 105.5L284.7 90L284.9 88.9L284.6 86L282.3 109.4L291.2 86.3L292.5 92.6L289.2 99.1L292.5 81.7L292.1 90.7L281.9 92.1L291.3 89.3L290.9 81.4L291.3 98.4L281.7 84.5L282.6 105.1L289.4 100.3L282.7 83.4L293.7 79.2L283.8 97.6L288.3 95.4L290.1 103.4L286.5 96.2L283.2 106.3L293.4 80.5L285.1 81.6L288.6 82.1L289.3 90.3L282.8 78.8L284 97L283 89.8L286.2 94.5L294.8 106.7L289.8 109.1L282.7 98.4L292.5 79.1L294.4 99.7L294.4 85.9L283.6 99.6L283.6 96.5L285.8 83.4L284.1 106L283.5 81.5L286.9 85.4L288.6 101.4L294.2 99.4L285.6 86.7L287.4 87.6L289 92.3L293.3 102.7L289.8 108.2L293.7 87.1L293.2 106.6L292 106.9L282.1 107.7L290.4 84.4L291.6 106.1L289.5 108L290.7 96.8L292.9 108.6L292.7 95.6L290.9 86.3L284 82L286.5 102.8L290.5 103.5L285.3 88.4L293.4 82.3L293.7 104.1L285.8 104.1L294.3 96.5L292 82.9L294.4 79.9L290.1 102L291.4 86.1L289.7 85L285 101.9L292.7 85.2L292.4 96.5L287.8 90.2L290.1 96.8L283.2 107.3L293.2 98.7L289.3 104.9L289.5 100L286.9 83.2L294.2 107.9L291.3 101.2L282.6 102.5L292.5 88.6L286 80.2L288.2 107.3L292.7 93.5L294.2 96.8L283.6 90.8L292.7 97.6L283.8 85.1L290.7 95L284.6 85.2L283.1 105.4L292.2 103.7L291.3 80.7L282.4 100.7L290.1 104.3L292 91.8L289.9 108.1L282 97.8L288.6 94.1L290.4 91.2L283.3 101.5L294.3 93.5L293.2 104.7L289 105.5L286.1 90.2L288.1 92.9L283.4 81.7L289.7 85.2L288.6 89.2L287 89.7L294 79.8L283 79L283.4 97.5L287 107.3L284 89.7L294.3 93.9L283.4 114.5L286.6 115.6L283.7 115.7L286.7 113.5L283.2 116L283.6 112.3L283.1 115.2L282.5 114.5L282 113.9L285 112.3L284.5 113L283.8 115L281.5 114L292.3 113.5L294.7 161.3L294.6 159.8L297 159.6L294.5 148.7L292.9 147.9L291.5 153.1L295.9 157.2L296.2 149.5L291.9 147L294.4 150.9L296.1 157.9L293.2 150.4L294.4 159.5L297 157.6L295.8 156.6L291.2 157.1L291.1 146.8L292.6 151L296.2 157.1L292.5 161.2L291.1 154.5L296.6 148.2L295.3 150.7L294.7 146.9L296 155.3L293.9 148.9L291.9 152.2L293.6 151.8L292.7 153.5L293.1 156.7L293.6 146.8L292 146.6L293.8 153.5L293.1 154.9L296 153.5L295 160.3L291 150.4L291.7 154.9L296.6 155.6L296.2 152.6L297.4 156.9L296.8 148.7L292.4 157.2L292.5 157.3L294.7 161.2L294.2 154.4L293.3 159.9L292.3 148L297.5 161L293.2 149L293.7 150L294.1 156.3L294 155L293.5 157.1L293.7 150.7L293.9 154.2L295.5 161.6L293.4 154.9L292.2 158.2L296.3 153.9L292.6 148.4L293.8 150.1L296.9 153L297.3 159.2L294.7 147.9L295.9 151.9L297.8 156.1L295.6 153.3L291.4 148.3L293.9 149.7L291 159.2L294 156.9L297.7 157.4L293.7 151.6L293 152.1L291.6 147.9L293.2 151.6L304.4 142.7L304.8 143.4L297.9 147.3L300 143.4L302.7 143.5L299.2 149.5L304.4 150.6L300 145.3L301.6 144.1L300.1 146.5L298.8 146.7L301 151.9L300.9 141.2L302.5 147.9L305.1 148.1L299.6 144.5L300.1 148.9L302.3 145.6L304.4 149.3L301.1 142.8L299.3 145.1L300.5 143.4L298.1 147.3L301.5 147.1L305.7 151.4L301 144.8L303.7 144.4L299.7 147.6L299.5 146.7L303.9 144L297.8 145.6L298.7 148.5L298.3 142L303.8 151.5L303.1 141.7L300.4 144.4L303.4 144.8L304.7 147.3L298.3 145.1L299.2 149.7L298.3 148.7L299.9 150.8L298.8 141.5L303.3 142.7L298.9 150.1L304.8 149.9L304.6 149.2L300.9 150.8L299.7 150.5L305.1 151.1L300.8 151.4L302.3 145L299.3 147.5L304.7 148.2L298.8 141.1L305.6 148.6L298.8 149.6L304 141.3L299 151L303.2 150.9L300 142.8L303.7 148.9L300.9 145.4L300.9 148.4L305.5 141.4L302.9 151.8L299.8 142L299.3 149.5L304.4 141.1L299.5 148.5L300.1 148.3L304.4 152L299.4 150.2L299.8 147.3L299.7 142.2L301.1 141.3L302.8 149.8L309.4 163.1L306.5 159.7L314.2 161.6L309.4 156.5L312.4 166.2L309.8 167.9L309.5 152.1L308.1 163.4L311.7 164.1L308.7 167L312 166.1L313.1 154.6L306.3 160.4L308.5 163.4L311.8 167.4L314.2 165.5L311.9 155.1L306.2 165.8L307.9 159.5L309.5 162.5L313.5 167.6L312.1 163.7L306.9 156.7L306.8 163.7L312.1 167.7L310.8 158.4L311.7 167.3L313.4 160.6L308.1 152.1L310.2 165.5L315.3 158.8L306.9 152.7L313.6 165.3L313.1 157.6L312.6 163.7L312.8 161.8L314.9 164.7L309.9 161L315.1 161.1L315.4 153.7L310 152.6L306.5 156L313.2 153.5L307.2 165.3L310.6 157.9L315.3 157.6L308.4 165.4L313.6 160.4L312.4 158.1L309.7 152.7L314.3 153.3L311.6 163.9L315.6 155.4L312.6 152.4L315.5 164.5L314.5 155.1L314.2 161.1L307.4 156L311.9 153.4L308 167.3L315.5 162.9L314.6 165.9L308.1 161.3L309.1 154.9L315.2 159.2L313.8 167.8L308.7 153L312.3 160.6L310 152.5L308.2 152L311 168.4L307 155.5L307.3 161.5L315.5 166.6L306.3 168.5L313.2 160.6L308.4 160.7L306.4 165.8L309.6 159.3L312.2 164.8L315.1 165.1L314.9 164.5L313.6 160.1L307.5 165.1L313.5 153L312.2 165.2L315 162.5L309.8 161.6L309.3 153.2L310.3 160.4L310.7 164.8L308.5 155.2L310.7 159.2L306.4 168.5L311.8 167.4L315.1 160.7L308.8 153L308.5 156L309.9 160.8L303.3 163L319.4 111.5L317.5 105.7L319.4 113.8L318.2 108L314.8 100.9L319.4 109.2L315.8 110.2L314.3 97.4L317 113L316.8 114.6L314.6 99.8L315.3 104L320 106.1L314.7 110.7L319.4 114.3L314.6 110.1L319.2 108L313.6 97.3L319.9 96.8L316.9 106.5L314.8 102.4L313.6 105.8L319 100.8L315.3 96.5L316.1 110.7L315.6 112.5L313.5 108.8L313.8 98.8L318.6 112.5L318.3 105.8L320 100.1L316.3 105L320.1 106.3L316.4 110.2L313.9 107.4L319.8 114L316.3 105.4L316.5 104.9L315.2 101.7L313.6 99.5L317.6 104L313.9 100.9L317.8 96.6L315.7 105.3L315.7 104.2L313.6 110.1L315.6 98L317.8 111.5L313.7 108.4L315.2 107.2L318.8 108.5L318.3 98.5L319.5 106.2L315.3 102.4L317.2 100.3L313.9 105.2L319.7 99.4L316.7 106L319.3 111.6L315.3 99.4L313.8 97.3L314.7 110.2L317.5 101.9L319.3 106.5L315.4 113.9L319.3 110.4L315 101.9L314.1 109.7L317.4 104L313.6 103.8L316.1 103.1L318.9 103.8L316.4 100L313.8 102L318.1 113L317.9 109.2L318.4 104.5L318.7 108.6L314.9 107.9" fill="none" stroke="none" marker-start="url(#d2)" marker-mid="url(#d2)" marker-end="url(#d2)"/><defs><marker id="m4" markerUnits="userSpaceOnUse" markerWidth="6.8" markerHeight="6.8" refX="3.4" refY="3.4" overflow="visible"><circle cx="3.4" cy="3.4" r="2.4" fill="none" stroke="#FF1A1A" stroke-width="0.9"/></marker></defs><path d="M247.5 205.1L117.6 216.4L241.4 209.2L320.6 208.8L208.2 212.8L284.2 214.9L146.8 211.7L240.3 210.9L126.6 206.5L164.9 216.9L101.4 198L314.6 199.9L190.1 216.1L110.6 218.1L235.2 208.4L281.7 211.4L235 201.8L210.2 201.5L251.7 213.2L163.3 204.8L253.5 205.2L149.5 204.4L262.5 218.4L87 209.7L151.1 199.9L115.5 218.8L249.9 219.7L81.6 195.4L192 219.4L71.5 200.5L238.6 199.3L147 201.5L57.8 205.4L198 201.3L193 207L311.8 204.6L272.2 216.4L63.9 218.6L197.8 201.7L188.9 208.2L146.3 213.5L79.4 203.9L234.1 204.8L145.9 213L182.9 209.6L187.1 197.1L98.7 204.7L65.6 202.3L226 207.9L162.9 200L68.8 203.2L60.7 203.3L221.2 208.1L68.9 210.8L283 196.4L78.2 198.1L188 198.4L225.5 202.4L259.5 205.6L301.7 202.2L286.1 210.3L141.3 217.2L65.1 212L71.8 213.2L83.8 198.9L81.4 215.7L183.5 207.6L197.6 214.4L135.3 201.4L305.1 204L121.7 207.8L259.4 198.4L129.1 211.8L103.2 195.7L121.7 198L125 208.1L66.4 211.5L160.5 216.3L70.9 195.8L176.8 218L260.9 219.8L113.4 219.3L67.5 213.4L242.9 199.5L74.1 215L236.5 210.9L299.3 201L76.6 217.9L109.7 199.9L272.7 205L103.9 208.9L216 199.5L305.3 197.6L81.9 212.5L68.4 206.8L124.9 210.6L89.8 201.1L301.6 213L197 212.6L108.1 206.5L238.1 197.4L193.9 198.8L134.9 210.7L319.4 219.1L270.4 196L272.9 201.2L248.8 199.5L248.7 199.4L281.8 209.5L61.8 211.5L224.5 214.9L235.9 214L123.3 217.3L130 200.5L292.3 195.9L67.8 216L186 208.6L195.1 208.3L117.1 209.6L269.1 200.6L103.2 197.8L195.8 200.1L104.9 219.5L281 202.8L294.9 206.8L198 200.6L141.2 220L64.9 196.6L278.2 209.9L180.7 219.4L317.5 200.9L169.6 201.9L141.4 210.1L125 201.2L207.1 216L167.4 202.6L215 206.7L199.5 209.4L214.5 216.8L95.7 202.7L82.5 216.9L73.9 211.7L226.1 206.4L94.9 209.2L153.3 210.3L110.5 197.6L237.3 218L198.4 209.9L307.8 201.9L289.2 214.5L64.4 214.2L217.1 200.5L287.3 210.4L188.8 208.1L308.6 200L132.2 207.2L127.1 195L88.9 218.7L223.7 209.8L168.8 209L303.3 200.1L246.5 201L111.9 205L207.1 211.9L71.7 202.4L211.3 196L207.1 219.6L217.2 197.1L202.8 202.4L253.7 207.5L148 195L125.8 196.2L108.4 217.6L158.4 219.8L116.1 200.6L153.7 197.1L193.7 196.9L66.1 217.3L152 212.6L246.6 206.2L166.3 212.6L121.5 200.1L219 216.9L135.2 199.4L136.9 209.9L249.2 205.3L93.7 202.8L81.6 198.2L175.1 212L246.3 212.4L253 195.1L158.3 203.6L230 208.1L67.8 210.1L90.7 212.6L113.5 210.9L193.6 216.4L296.5 218.2L200.1 215.8L225.3 202.8L237 199.5L297.2 196.1L306.8 200.3L162.4 197.6L199.2 206.6L288.6 199.9L308.2 204L132.6 196L64.8 195.3L188.8 215.5L294.4 219.7L221.4 201.8L272.2 204.8L226.7 197.9L189 211.8L61.5 208.9L238 195.7L241.7 213.4L123.4 200.3L221.8 219.3L118 214.1L67.5 211.1L144.5 217.4L255.1 202L152.2 213.7L124.6 203.8L171.3 207.2L150.2 208.8L165.5 216L203 203.9L151.8 216L182.7 195.1L210.9 202.7L237.2 195.3L152.4 196.7L80 208.1L77.7 195.5L158 208L207.2 210.4L280.2 218.4L180.7 196.5L107.8 205.1L119.5 219.8L220.6 204.5L170.1 204.2L71.4 210.6L131.5 200.3L102.7 212.9L184.3 213.6L66.3 207.6L166 210.2L167 198.6L313.3 218.3L147.2 201.2L166 203.2L170.6 205.5L156.4 219.6L64.1 206.3L65.1 215.7L256.5 201.7L271.7 198.7L243.7 219.6L98.2 199L277.3 210.2L254.6 214.3L298.7 203.9L222.4 208.6L159 206.1L226.7 211.9L280.2 216.3L186.4 196.3L139.8 202.9L171.3 198L128.5 214.3L109.1 210.4L281.9 203.8L144.4 196.1L246.6 213.6L260.3 197.8L290.2 197.8L271.8 206.9L195.9 206.6L286.6 203.9L229.7 207.8L177.8 219.2L241.9 214.7L72.8 197.2L70.4 217.4L73.3 205.9L63.1 215.2L71 201.8L237.9 212.1L78.4 210.6L301.8 215.8L177 219.3L194.9 218.7L215.6 209.8L205.9 217.4L189.1 212.2L180.2 202.5L151.1 219.6L67.3 213.2L105.6 212.6L187.5 205.3L282.6 219.8L83.4 200.7L144.4 200.8L283.9 199.5L302.8 198.7L76.1 206.4L136.5 217.4L154.2 198.1L132 208L222.3 205.9L268.5 213.4L130.4 200.6L290.9 218L206.9 213.8L100.4 204.9L139.3 210L161.9 202L129.4 215.1L86.5 215.4L241.1 213.8L225.6 200L221.5 205L152.2 199.8L86.9 213.4L282.2 219.2L111.9 219.1L85.1 210.6L317.1 204.2L234 198.5L207.1 198.3L139.8 214.3L98.4 207.8L64.9 214.9L297 208.2L102 202.7L164.5 210.9L262.6 197.5L62.2 211.2L124.2 203.7L239 211.8L94.9 211.3L165.9 199.3L113.9 196.4L64.6 206.8L93.5 207.9L146.7 198.1L198.2 196.5L300.2 212.4L316.1 202.1L169.1 197.8L240.9 213.5L83.5 210.6L240.9 208.9L143.2 216.9L214.3 206.4L288.4 219.6L218 211.2L244.1 217.5L261.5 209.2L177.3 210.6L169.1 205.4L140.9 215.7L177.1 208L150.2 215.4L195.3 215.7L274.8 196.9L242.4 197.6L163.7 199.2L68.3 216.9L285.2 201.3L182.3 202.8L138.3 215.6L122.3 213.8L129.2 208.7L151.2 218.5L179 208.6L210.1 195.2L288.1 208L269.6 213.2L166.5 213.9L295.8 214.2L303 200.2L67.8 214.6L313.9 216.1L309.7 217L74.3 216.5L160.5 215.5L111.6 205L204.7 203.4L149.4 217.4L255.4 218.4L68.5 203.3L317.9 219.5L298.8 199.9L175.1 219.9L145 204.2L257.1 218.1L126.1 204.7L89.9 212L238.9 209.1L272.6 206.8L317.3 211.1L76.9 204.1L77.7 206L77.9 198.8L236.2 214.7L161.4 217.2L162.5 202.3L196.1 216.1L87.9 219.8L74.3 202.3L108.8 218.5L184.7 207.4L248.8 219.7L116.5 207.2L235.3 207.5L306.5 212.7L237 197.6L149.4 196.4L77.1 206.3L302.3 219L307 196.6L296.9 219.7L123.5 205.8L182.3 201.3L107.7 199L265.2 206.9L270.2 219.1L219 208.4L142.4 195.9L74.7 220L122.9 196.7L74.3 213.8L252.7 216.3L177.5 217.9L320.2 208.2L63.1 219.4L169.9 209.3L151.1 214.4L223.1 197.8L123.2 213.1L156.5 216.7L78.6 216.6L121.3 206.3L231.1 203.1L285.4 216.3L288.5 199.8L180 196.2L137.1 211.9L230 209.3L185.3 210.2L61.1 195.6L262.5 206.5L105.7 205.3L194.8 212L259 195.9L215.5 204.8L145.9 216.9L217.1 213.4L182.3 212.8L163.7 208.2L111.1 197.6L59.1 202.1L173.9 197.1L292.3 209.9L128.6 214.9L110.9 211.2L272.2 215.5L243 209.6L312.6 196.1L73.5 202.6L134.7 209.2L226.7 217.6L77 206.5L283.5 207L90.2 205.5L94 195.2L135.4 198.5L155.4 216.9L223.5 210.4L320.7 209.4L182.7 213.5L158.9 200.8L190.1 208.3L132.5 215.1L153.9 212.2L74.8 206.2L140.7 199.9L149 210.7L159.3 218.3L228.4 200L116 215.4L123.8 217.7L130.9 197.5L187.5 210.3L249.3 198.7L203.5 211.8L103.9 202.9L286 219.5L77.7 217.4L123.5 210.5L264 213.6L275.9 212.8L278.1 211.8L166.4 216.7L227 201.8L58.9 215.9L315.9 213.8L253.1 217L308.3 210.5L298 208.2L181.2 216.4L273.9 219.1L154.2 215.1L312.5 214.2L105.8 200.7L270.9 208.1L99.4 217.5L92.5 195.8L156.7 202.7L293.8 203.2L218.3 218L71.9 199.2L247.9 217.8L153.2 218.3L221.6 210.8L95.1 214.1L173 198.8L92.5 200.7L184.7 197.7L108 214.4L265.1 215.7L220.8 210.4L103.3 214.7L271.8 209.8L198.8 196.6L67.5 203.8L299.5 203.6L296.9 218.5L127.3 206.6L281.3 211.1L209.5 201.4L90.9 209L195.8 212.9L115 206.5L104.7 211.9L230.9 202.1L100.5 196.5L57.8 218.9L248.9 206.1L275.4 198.2L313.2 200L224.3 209.2L191.5 200L200.1 219.7L251.5 210.6L300.1 200.8L71.1 200.6L135.8 210.2L280.1 212.5L248 210.9L198 199.9L205.6 199.3L105.5 208.5L100.7 206.9L212.3 201.2L299 207.2L66.4 198L103.6 209.8L265.3 198.8L140.4 216.6L280.9 213.2L232 219.6L256.3 200L185.6 219.1L122.5 216.3L257.6 211.6L86.9 195.1L225.6 215L192.7 200L294.1 209.5L114.3 214.6L224.8 212.1L160.8 202.4L155.3 211.7L222.6 204.3L104.9 203.8L202.3 197.7L103.9 216.7L147.4 205.3L80.3 208.2L98.8 196.1L195.9 207L213.7 204.9L118.7 216.8L281.5 198L292.3 212.8L290.2 208.2L116 216.9L247.8 200.7L135 199.3L157.7 219.8L172.7 207.7L282 205.4L134 207L147.4 201.9L220 195.1L105.5 196.5L133.7 206.9L107.7 195.2L215.4 219.6L87.8 205.5L113 208.7L192.9 215.8L93.6 206.4L82.9 209.8L126.8 210.9L209.7 201.8L313.4 214.6L299.1 213.4L124 204.8L191.8 214L202.7 218.6L196.5 195.2L287.1 211L312 214.4L176.4 206.9L94.9 206.4L278.9 205.2L158.6 219L105.7 197.1L86 211.6L229.4 217L218 218.7L61.9 199.2L254.8 203.8L262.6 197.1L128.6 199.1L121.9 199.6L129.6 210.2L315.1 215.3L283.2 195.5L138.9 208.4L258.7 218.9L78.2 210.8L184.8 212L162.7 197.1L123 219.3L104.3 218.7L310.9 207.1L95.7 217.6L152.1 200.5L88.9 204.3L273.3 217L90.7 212.5L129.4 214.5L119.4 217.4L100.8 200.3L84.1 203.4L303.5 212.1L222.4 205.2L305.4 205.6L288.1 198.9L209.3 204.6L250.1 198.6L76.1 212.4L69.5 201.7L254.7 214.9L254.8 201L316.6 202L260.5 213.6L75.4 202.3L197.2 218.6L169.9 202.5L312.2 219.4L79.6 216.5L240.7 208.1L172.2 202.9L130.5 200.8L60.2 196.5L125.2 198.4L188.8 199L169 202.5L96.7 206.7L251.3 201.7L151.1 202.5L169.9 199.8L107 204.2L145.7 214L160.7 215.6L110.5 210.4L150.1 198.4L209.7 203L181.5 213.3L136.4 209.8L300.1 217.3L71.1 211.9L231.1 216.2L263 196.6L303.6 208.5L291.2 217.9L111.6 197L77.4 216.3L147.6 201.3L90.9 200.1L223.4 200.5L222.1 213.1L103.9 201.6L146.9 206.3L206.1 208.9L236.3 207.2L176.7 207L186.8 196.5L252.3 203L312.8 209.4L97.4 219.7L305.8 209.7L57.1 220L288.5 206L193.3 216.9L64.2 198.2L79.4 213.8L107.1 218.5L134.6 201.4L312 206.2L108.4 211.4L178.9 211.5L106.2 206.8L100.7 199.4L106.3 215.9L124 197.2L136.9 204.8L240.3 213.1L204.5 208.3L203 206.3L111.8 195.7L142.3 211.8L69.3 203.5L318.7 205.5L114.6 208.9L67.4 199L197.6 211.5L154.1 205.2L102.2 197L175.6 213.6L108 213.2L275.6 218.4L92.9 219.6L70.5 208.4L243.6 206.2L124.4 210.9L74.7 199.7L267.3 203.6L179.1 216.2L186.9 207L303.6 208.3L184 205.4L200.6 198.3L319.6 196.6L104.4 216.1L235.2 219.8L243.2 215.8L153 214.5L185 195.2L135.2 206L288.7 218L319.4 207.1L215 216.3L106.9 196.8L155.2 209.8L140.3 198.1L192 208.3L292.6 218.6L311.2 196.3L87.8 205.4L69.2 206L161.8 217.9L305.8 218.3L150.2 200.2L183.4 210.9L64.7 196.6L127.7 204.9L127.7 210.9L236.6 201.2L86.5 208.9L216.8 215.1L127.1 203L229.5 196.8L127.5 210.4L198.4 216.3L165.8 204.7L85.9 217.3L294.9 196.4L313.3 208.8L153.7 204.6L94.3 209.2L197.5 212.3L155.9 197L261.8 207.4L216.9 214.3L151.9 218.4L257.7 216.1L181.9 204.4L100.4 215.4L285.7 209.8L276.1 207.1L312.9 197.1L303.9 213.9L81.5 213L224.6 215.1L99.9 198.7L174.4 209.8L159.4 218.5L168.7 204.4L143.6 203.3L275.2 214.7L72.5 198.5L151.7 205.6L101.8 207.4L180.2 216.2L183.8 196.2L70.2 216.4L302.4 211.4L239.9 202L212.4 195.7L300.8 210.3L305.9 211.7L312.7 217.1L166.1 199.5L253.8 198.7L83.8 208L287.3 214.5L279.1 217.8L291.6 198.2L160.6 202.4L210 205.5L149.6 210.6L60.5 208.1L272.5 198.1L84.3 212.4L234.4 205.6L294.4 214.9L100 211.1L176.4 212.1L99 210.2L305.1 214.7L87.4 202.5L70 212.6L278.8 209.2L68.3 198.6L273.7 209.2L171.1 199.6L142.6 209.9L314.2 204.2L71.6 213.5L83.1 202.3L307.8 217.5L79.6 210.9L152.1 206.1L254.4 199L145 196.4L233 202.3L75.5 195.5L223.8 205L209.4 205.9L76.8 208.7L183.4 201.7L133.5 197.4L267.3 214.8L175.9 207.8L132 203.8L239.8 216.7L81.9 219.9L131.8 213L233.1 202.7L272.2 218.1L226 214.2L296.1 216.7L87.2 195.9L93.2 198.7L72.9 208.4L167.2 197.5L97.2 201.4L317 210.7L246.3 217.8L313.4 200.7L289.2 210.3L251.3 199.5L227.9 210.6L247.7 199L79.3 206.5L305 202.7L315.6 200.6L213.3 212.3L123.9 200.9L146 218.4L258.6 199.8L282 197.4L262.6 212.5L82.4 202.1L319.6 218.9L109.7 214L146.5 207.4L284 199.6L136.1 219.1L113.6 202.8L267.5 216.7L264.7 195.7L80.8 215.8L186.7 206.5L184.4 218.3L127.8 208.6L291.9 212L314 198.4L110.3 195L124.6 209.3L125.6 219.2L197.7 217.1L246.7 200.4L213.6 219.4L261.6 203.2L315.3 218.2L270.6 206.2L146.6 216.3L186.8 206L57.5 198.5L95 212.9L125.6 203.7L68.7 211L304.3 216.4L305.9 215.6L99.5 202.6L109.3 219.9L122.3 208.9L178.2 215.7L229.6 219.5L153.3 211.7L285.4 195.2L246.4 205.1L179.6 203.2L176.1 219.5L216.3 195.5L140.4 210.1L134.3 207.5L176.6 208.1L78.5 202.6L249.3 207.3L290.1 217.4L95.1 219.5L158 206.5L290.6 215.9L138.4 215.9L92.9 215.1L213.4 197L241.7 217.7L122.4 216.5L108.2 209.8L247.6 206.5L241.2 216.9L238.9 217.4L119.5 214L167.6 197L274.3 195L148 197.9L184.4 217L181.2 215.6L178.6 211L110.4 198.3L200.3 200.7L258.6 198.9L152.4 210L159.8 197.5L235 202.2L307 215.7L95 196.3L90.6 203.1L177.8 211.6L193.6 206.5L270.4 217.8L86 206.2L153.4 216.4L302.6 208.7L161.8 209.6L242.2 217.6L165.8 201.1L301.8 211.3L202.7 195.2L228.5 195.4L74.6 205.4L282.1 217.4L295.2 210.9L179.6 204.1L103 208.8L174.5 205.7L287 214.2L318.1 215.7L201.1 216.1L313.5 203.2L82.7 204.9L249.6 212.2L268.5 209.1L86.1 202.3L121.8 198.1L281.8 200.6L226.1 219.2L123.8 216.4L224.8 202.5L184.6 204L153.8 195.2L257.3 217.8L180.3 218.1L273.8 202.6L114.4 201.4L187.6 213.5L228.2 198.3L246.9 218.8L98.2 198L188.2 200.9L214.7 199.2L293.2 200.6L66 219.1L173.8 211L271.2 218.9L290.5 205.5L232.5 197.5L199 213.6L246.1 195.6L194.4 208.8L255.7 206L65.4 205.9L310.8 205.6L113.3 211.5L307.2 198.4L136.9 202.4L265.6 199.8L149.6 203.5L189.3 202.1L264 216.7L310.7 206.7L148.6 206.3L138.2 195.1L91.1 207L104 199.6L213.6 208.4L314.3 204.7L143.9 211.3L72.1 211.1L122.6 211.6L242.3 204.5L273 196.8L277.2 202.4L320.1 214.3L93.8 207L315.5 219.7L142.5 199.1L79 202.5L108.2 211.1L84.3 213.9L195.6 218.1L215.5 204.7L131.6 217.2L271.2 208.8L108.9 204.3L57 213L246.5 204L248.4 195.5L214.3 213.2L78 218.3L155.4 217.2L279.3 215.2L129.5 196.6L199.3 219L140.2 206.8L167.3 199.2L272 209.6L170.6 212.4L96.2 207.1L252.1 201.6L154.5 219.4L187.6 215.7L258.6 214.8L132.5 198.3L280.4 203.1L205.1 200.8L317.3 195.6L203.2 220L211 201.9L273.5 206.1L189.9 215.8L99.9 202L77 210.2L120.2 206.8L270.2 217L62.2 218.1L246.9 198.1L240.7 208L288.7 201.5L265.8 212.7L83.7 208.1L77.8 208.1L63.6 202.2L102.9 207.4L262.7 209.5L91.2 196.3L64.2 217.7L206.7 209.3L124.5 217.5L306.9 203.2L147.8 209.1L108.8 197.6L182.1 198.2L86.9 218.1L276.9 199.5L248.4 211.3L274.1 208.6L288.3 197.4L100.9 209.3L95.2 200.8L255.2 213.4L114.5 208L58.6 205.9L294.8 216.7L67.9 209L100.1 198.5L302 217L70.8 209.9L220.1 195L193 203.9L85.6 206L129.2 209.4L179.4 196.9L301 211.9L113.6 203.2L81 213.3L155.7 217.2L145.8 207.3L149.1 197.7L148.2 218.4L127.5 215.3L90.7 205.7L204.7 214.3L68.4 204.8L119.4 214.6L282.3 197.7L245.8 202.7L98.4 198.5L214 195.8L128.6 195.9L318.8 202.8L228.2 203.4L233.2 198.1L277.3 200.8L131 213L238.9 211.3L200.4 199.5L124.5 199.5L84.9 200.8L151.8 215.5L210.5 200L123.3 197.9L256.8 209.3L289.9 212L191.1 205.3L97.8 195.1L217.8 203.9L208.4 202L99.7 202.9L87.2 210.2L201.2 218.3L175.2 206L177 207.4L304.2 211.8L124.6 205.1L209.6 203.8L307.4 204.5L284 211.9L85.4 199.8L204.4 212L156.1 201.5L182.3 198.6L148.2 217.5L73.6 205.5L168.6 196.9L188 212.3L202.7 218.5L121.2 214.9L89.8 210.6L59.8 216L305.6 202.9L65.5 199.4L191.3 218.3L298.9 216.5L106.5 213.3L144.4 196.6L233.2 204.9L318 205.1L143.5 204.9L91.1 206.2L316.3 218.2L269.1 199.1L139.5 203.7L71.3 200.2L297.5 206.9L164.5 198.8L250.8 219.6L107.3 204.6L243.4 214.9L65.2 210.5L92.8 196.7L266.1 200.8L147 199.1L210.9 200.6L313.5 199.4L254.9 199L301.9 209.6L220.1 217L280.1 195.5L100.4 196.5L103.7 214.6L239.3 198.1L151 212.5L190.7 219.3L290.8 218.1L181.5 201.1L93.7 208.4L159.3 198.9L303.6 197.5L280.6 198.3L129.9 195.4L298.7 204.4L117.6 195.5L167.6 198.3L144 199.5L131.5 197.2L208.1 197.8L226 217.6L89.1 217.9L141.5 202.2L180.6 218.5L246.1 206.7L95.6 209.6L162.8 197.1L257.2 208.9L234.5 217.6L210.2 204.1L226.1 207.4L94.6 195.3L244.1 195.5L237.2 202.4L318.1 214.2L108.3 205.1L198.2 209.9L305.5 202.4L92.7 206.1L120.3 208.4L319 208.3L88.4 212.3L249.7 208.2L107.2 201.6L225.2 213.7L99.9 203.4L78.4 195.2L214.8 199.5L286 218.5L158 208.7L57.3 200.3L156 197.5L308.9 196L207.3 203.7L316 219.8L318 219.6L101.6 199.4L172.9 202L281.9 208.7L233.6 205.7L304.1 203.9L84.8 207.2L209.9 201.4L160.9 217.4L268.4 201.1L93.4 199.6L273.4 208.1L64.2 201.4L73.1 210.2L199 214L179.6 210.5L141.1 196.8L288.9 217.9L106.2 211.7L250.2 196L266.1 205.3L102.3 209.1L283.5 206.9L306 199.8L266.4 199.1L302.3 217.8L127.1 213.4L112.5 196.2L65.7 212.5L65.9 208.6L181.6 198.5L204.2 202.1L280.1 200.1L192.7 217.2L269.3 200.6L242.4 199.6L303.3 198.8L74.9 206.8L185.3 206L162.2 195.5L253.9 210.9L134.1 216L139.2 198.3L89.6 195.8L236.5 195.7L84.5 214.1L243.3 197.3L151.7 219.3L289 206.7L231.1 217.9L179.5 208.1L251 203.7L313.9 208.8L191.3 210.2L131.8 219.8L96 216.1L100 207.4L289.4 212.6L206.4 201.1L160.6 200.4L176.3 210.7L67.7 200.3L307.6 218L124.8 212.5L272.9 215.2L182.3 196.6L223.1 206.4L170.5 213.2L140.1 205.7L297.5 213.1L270.1 200.8L169.2 206.1L296.2 206.2L120 217.4L116.5 198.8L113.6 203.9L165.8 201.7L258 212.5L101.9 215.6L296 196.3L272.3 208.2L150.7 217.6L312.1 197.6L284.9 195.4L177.4 198.8L74.2 210.5L82.5 198.3L177.1 205.6L247.3 196.3L229.7 216.9L282 208.6L118.3 217.9L267.2 206.7L162.2 199.3L268.6 215.4L70 195.6L146.2 203L267 199.1L256.7 215L154.6 210.8L97.7 215.3L287.6 213.2L80.2 213.8L225.5 218.1L257.4 216.9L66.2 204.1L139.2 207.7L147.8 200.7L202.2 217.7L214.6 217.1L149.9 197.6L206.3 212.5L265.8 205.3L190.6 217.1L118.9 198.6L107.8 207.5L262 216.4L108.5 203.4L114.4 210.1L288.7 197.5L225.9 214L100.3 211.3L271.3 197.4L216.8 197L253.9 201.1L106.1 196.4L64.5 217L249.9 196.6L185.3 203.4L146.2 211L165.9 207.5L296 216.4L156.1 215.1L124.2 217.3L257.4 205.6L302.3 211.4L91.6 211.4L62.2 214.1L246.2 211.7L170.4 205.7L284.8 215.3L212.9 195.1L243.2 218.6L167.3 206.5L81.2 200.1L277.3 210L212.1 216.3L292.8 217.3L246.8 202.8L281 212.7L242.9 212.8L64.6 197.1L225.3 197.4L242.5 200.2L76.4 218.7L64.9 201.8L164.2 212.7L80.8 198.4L113.2 209.6L306.4 218.2L57.6 197.9L218.3 195.9L160.4 203.3L110.3 218L188.2 214.6L128.1 219.7L291.1 195.5L228.7 213L216.8 216.9L101.8 216L191.8 219.2L149.9 200.7L210.1 217.6L106.9 208L243 217.4L136.7 203.3L228.5 200.7L64.9 197.5L160.6 215.5L279.5 204.5L87 214.5L79.4 219.9L261.2 201.1L97.3 198.5L286.1 202L216.7 214.4L110.5 203L129.4 205.7L280.8 199.1L277.6 198.9L202.4 203.2L121.2 199.7L249.8 218.9L101.3 200.2L197.6 197.2L225.4 215.7L68.4 204.7L293.5 202.2L65.8 205L200.8 213.2L179.6 196.3L224.6 210.1L191.1 205.7L88.7 205.3L90.7 216.7L255.8 201.8L238.8 202.9L226.6 203.9L252 210.8L135.8 217.8L164.9 220L179 196.5L219.9 197.7L296.1 202L190.6 200.2L194.8 198.7L84.3 200L258.2 212.5L107.6 209L158.8 200.2L99.4 209L70.6 201.9L285.4 207.9L304.1 202.1L233.5 215L184.2 207.2L199.6 215.6L192.9 200.6L182.1 207.9L181.5 203.3L279.6 209.6L71.2 197.3L270.9 219.8L287.7 203.8L318.9 200.6L276 197.5L115.8 218.1L180.8 200.3L113.8 215L137.4 199.7L167.4 210.4L243.4 213.2L133.2 198.4L216 206.1L236.3 200L272.6 205.5L287.3 203.3L301 218.9L290.6 208.3L274.8 196.4L241.3 205.3L108 205.6L228.4 215.5L296.8 216.4L176.2 205.9L118 212.6L120.5 212.5L74 198.5L172 211.4L172.2 217.2L68.7 216.6L68.4 205.3L179.5 204.7L168.3 214.9L203.2 203.1L144.8 216.8L123.9 198.5L175.2 196.5L229.6 205.7L141.2 210.5L187.6 197.5L67 216.5L313.8 204.3L101 207.1L133.3 208.3L275.7 218.8L73.9 218L97.6 219.2L68.3 204.1L296.6 210.7L194.1 213.2L284.6 203.9L284.5 213.4L133.3 216.4L138.9 204.9L202.8 209.7L283.5 217.3L245.8 211.8L255.4 211.9L219.4 201.8L184 206.7L314.3 203.5L138.6 216L308.7 210.5L259.6 198L215.5 196.7L251.9 215.4L184.4 212.4L166.2 201L159.9 214.6L268.6 200.7L137.2 200.2L180.8 197.3L60.6 204.6L279.3 205.6L320.9 197L116.7 219.3L302.8 197.2L144 210.3L204.6 209.8L282.1 214.4L201.5 205.4L91 210.3L276.2 201.5L81 213.3L75.1 215.7L159.7 200.9L141.9 217.3L251.4 215.2L162.8 202.6L127.1 202L209.3 200.2L301.8 200.1L265.6 204.2L113.9 210.1L119.7 218.8L223.3 214.7L256.3 214.3L180.9 199.6L195.1 203.3L166.1 212.5L262 214.1L301 206.9L265.7 216.9L161.4 213.6L83.6 208L173.1 203.9L315 216.5L297.5 200.7L142.6 199.5L154.6 210.3L314.5 205.5L250 212.1L100.6 201L245.6 198.9L218.6 198.3L61.3 219.6L159 213.4L250.9 213.5L303.6 219L161.2 197.2L314.2 210.9L309.7 213.2L229.8 200.6L208.9 201.5L311.7 214.8L79.9 197.4L245.2 196.5L313.6 197.1L199.6 218L167.9 218.1L224.8 198.5L291.5 212.6L223.4 209.9L72.1 198.8L135.1 200.6L294.1 216.5L264.6 200.8L145.4 196.2L231.3 218.3L305.7 205.8L287.2 207.9L57 203L305.2 207.7L225 212.5L125.5 198.8L168.5 206L273.6 209.6L175.4 197.2L84.7 201.3L212.5 197.4L94.5 206.5L122.4 209.1L284 202.9L63.9 203.3L95.5 208.6L86.8 209.4L60.9 214.6L221.7 212.4L218.1 219.6L220.2 199.6L126.4 206.1L107.8 211.6L274.7 201L94 205.7L192.4 207.6L285.6 199.9L68.7 215.2L312.5 203.6L251.8 215.3L147 202L204.2 198.2L203.3 217.3L253.1 195.1L208.5 200.7L92.8 207.8L102 210.2L162 209.1L312.5 197.7L109.5 201L140.5 217.4L121.2 211.6L187.1 202.9L249 210.9L277.6 216.4L315.7 201L279.7 203.9L123.9 197.9L181.5 201.3L267.1 202.3L114.1 199.6L250 210.2L223.4 202.7L265.6 207.5L280.4 209L268.7 210L133.9 197.3L129.7 216.3L247.7 214L123.4 210.7L178.1 201.6L110.7 201.4L122.8 206.3L187.7 205.7L199 207.1L201.8 212.9L140.4 216L119.7 217.6L126.3 196.6L100 207.6L208.6 202.2L305.4 209.6L255.3 211L202.2 210.3L194.6 198.1L285.1 215.4L249.2 199L143.7 195.1L214.7 207.5L159.9 219.5L143.2 214L213 209.8L166.3 212.9L160.9 195.6L189.4 219L275.3 198.6L299.8 197.5L77.9 211.1L206.3 209.4L269.2 204.2L108.4 199.8L173.7 198.3L147 200.3L190.6 219.5L247.8 198.9L284.8 217L265.1 206.6L197.6 211.4L195.8 214.9L68.5 218.8L264.1 212.8L200.7 218L179.2 208.1L205.6 210.4L302.2 218.8L81.5 203.8L299.4 219.5L208.5 200.5L311.7 197.7L67.9 210.5L176.6 205.5L63.4 213.4L128.4 205.4L166.7 201.5L66.1 209.9L118.6 206.2L67.2 214.1L312.3 218.6L181.6 210.5L119.5 202.5L69.2 218.2L113.6 203.6L192.2 211.7L126.4 208.6L76.6 201.9L274.8 200.7L196 205.3L126.5 198.1L312 202.5L260.2 208.4L277.5 218L231.2 198L147.6 205.6L116.5 216.7L256.4 209.1L312.9 210.3L109 213.8L76.8 215.3L156.8 202.9L267 214L180.2 200.6L302.7 204.7L252.9 219.2L297.1 219L115.8 214.4L158 213.2L203.5 203.1L193.5 209.7L107.3 197.6L60.1 203.8L197.4 208L219.1 218.1L142.6 201.4L192.6 200.3L305.8 199.7L150.7 203L108 201L190.9 205.3L279.4 202.4L99.6 205.1L164.8 206.7L117.9 210.3L194.9 214L97.7 209.9L70.8 195.5L133.5 214L95 205.1L279.1 203.6L69.1 213L280.5 208.3L82.4 212.6L299.7 210.8L195.4 217.8L261.3 204.3L245 212.3L256.1 199.8L173.9 204.7L152.3 210.3L213.7 197.8L129.9 215.1L96 197.3L236.6 197.7L189.3 215.8L63.3 211.7L93.8 200.9L270.1 209.7L314.5 199.6L105.5 199.7L277.4 198.4L225.2 212.1L79.6 218.7L286.3 219.2L201.8 197.3L156.5 202.8L215.6 209.6L279.4 211L201.7 203.9L63.4 200.7L245.8 197.1L129.6 197.2L292.5 218.5L259.9 212.5L284.5 219.3L123.9 201.3L61.8 197.1L229.1 196L185.2 212.2L138.4 213.6L105.5 199.1L125 201.9L241.6 202.4L239.8 197.7L106 201.4L276.6 202.4L83.1 197.1L212.4 198.8L239.1 198.1L144.9 215.1L219.6 196.2L220.3 215.4L159.3 210.6L128.9 206.9L212.4 199.3L132.6 216.1L156.6 201.9L149.4 216L131.8 196.2L291.8 212.9L118.3 208.6L320.1 199.2L141.6 213.7L281.5 213L99 197.1L103.7 206.1L271.3 209.9L238.6 208.9L242.2 214L272.4 211.2L178.8 209L86.8 200.2L257.9 212.5L78.7 207.7L300.9 208.2L240.4 204.7L290.3 210.5L111.5 211.6L179.8 218.9L122.6 203L172.7 196.6L216.4 212.3L65.2 219.7L223.4 200L61.7 200.6L234.5 205.7L128.3 215.1L285.4 213.1L278.1 216.9L218.1 212.1L112.1 200L190.5 215.2L122.2 200.2L184.8 203.3L79.7 208.5L217.8 196.6L296.6 218.1L165.4 198.6L74.6 207.5L88.6 198.7L161.3 207.9L216 214.3L176.2 200L212.5 217.2L191.7 203.9L227.9 216L72.9 208.7L240.2 198.7L310.6 201.9L206.8 210.3L105.2 201L65.2 209L301.5 216.3L140.9 213.8L131.1 208.9L173.6 218.3L115 217.5L295.7 214.6L229.2 211.2L73 219.1L118.1 209.1L275.9 217.9L283.5 212.4L63.2 206L238.2 200.8L117.5 206.7L282.2 197.7L316.9 211.5L243.4 212.2L216.7 206.3L148.3 215.1L140.3 217.4L116.9 212L268.4 210.3L265.2 207.4L144.1 217.7L98.3 218.9L253 199.5L226.4 195.6L84.2 213.7L99.2 196.4L205.2 219.7L173.5 214L93.3 198.8L57.5 196.2L77.7 198L300.9 199.9L61.8 195.2L181.5 214.7L209.9 213L121.3 212L169.4 199.1L318.1 207.2L304.5 217.7L297 198.6L92.2 214.7L309.9 196.8L293.4 201.3L203.9 215.5L203.7 205.2L64.1 214.6L209.1 201.5L61.9 206.2L85.3 219.3L67.6 196.3L246.1 218.6L165 198.5L134.6 213L133.1 201L299.7 201.3L179.9 199.5L109.9 198.2L204.2 215L62.3 215L209 218.6L297.3 200.5L93.2 205L213.6 218.3L266.3 210.4L285.4 198L269.6 204.8L177 218.9L141.3 195L122.8 198L201.9 206.3L185.5 202.3L268.7 217L69 210.3L63.8 221.5L207.2 223.4L181.1 224.5L302.2 227.9L179.5 220.5L139.4 220.6L94.2 227.2L260.4 223.1L266.7 223.4L61.2 227.2L218.7 228.2L135.8 220.3L283 223.9L222.1 226.9L309.6 222.2L104.8 224.7L143.6 227.3L279.6 224.4L271.4 223.7L281.4 222.4L317.7 228.6L162 227.2L88.9 228.5L257.7 226.8L173.5 222.8L314 222L268.2 225.5L283.3 224.2L98.6 224.4L120.3 228.7L267.2 222.7L165.1 221.6L70.8 224.4L207.2 221.1L135 223.1L245.3 221.2L272.5 227.5L181.6 223.9L127.9 221.9L131 227.7L252.3 227.2L264.1 225.9L157 221.2L240.7 226.7L92.4 225.1L241.6 220L262.6 223.7L83 220.8L320 226.2L302.2 228.5L288.9 220.9L194.9 228.2L257.5 226.5L113.7 220.4L249.7 220.1L206.9 224.9L204.1 225.7L300.2 224.6L296.9 226.8L210 224.2L93.7 227L70.2 220.2L277.4 220.8L123.7 227.8L254.6 223.8L211.6 224.5L283.4 225.8L67.1 225.8L237.1 221.3L158 222.1L135.5 222.5L116.9 226.3L257.9 222L106.9 221.5L110.5 227.7L312.7 225.4L235.6 227.1L232.2 228.5L92.1 221L172 227.1L211.2 224.7L135.5 223.8L245.9 224.9L305 223.8L151.5 228.8L274.2 228.4L179 227L179.3 221L163.7 220.9L210.6 227.7L225.1 192.7L210.2 193.4L151.6 194L79.3 192.2L195.2 194.8L190.2 193.1L252.2 191.9L166.3 192.5L80.6 194.4L193.4 192.8L166.8 193.6L199.3 193.9L186.1 193.1L167.1 192.8L299.2 194.8L284.1 193.3L260.5 193.8L264.8 194L100.4 195L184.3 193.4L219.5 193.4L208.3 193L138.8 194.5L117.5 191.7L267.8 193.7L210.9 192.4L301.8 194.1L244.6 193.4L105.2 191.9L207.1 193.7L112.2 193.1L220.8 193.5L103.2 192.8L278.5 192.9L144.1 192.5L307.8 193.2L306.5 193.4L250 191.4L222.1 194.8L257.4 191.5L206 191.3L99.3 193.9L214.5 192.7L264.5 194.2L128.9 194L225.1 191L171.6 193.8L287.7 193.8L279.2 192.6L154.4 194.6L278.9 192.9L205.4 194.2L201.4 194L245.2 192.3L308.3 194.5L105.8 193.6L277.4 192.2L292.6 192.1L164.9 193.3L113.9 194.9L105.9 192.9L166.8 192.8L110.6 192.8L273.6 194.5L183.5 193.8L164 193L302 191.8L142.2 191.9L259.1 194.6L58.9 194.6L242.4 230.2L82.1 229.1L315 230.4L69.3 229.3L97.8 229.3L101.7 230.9L78.9 231.7L183.3 231.8L96.7 231.1L214 230.8L186.3 230.4L60.6 231.1" fill="none" stroke="none" marker-start="url(#m4)" marker-mid="url(#m4)" marker-end="url(#m4)"/><defs><marker id="d6" markerUnits="userSpaceOnUse" markerWidth="6.8" markerHeight="6.8" refX="3.4" refY="3.4" overflow="visible"><circle cx="3.4" cy="3.4" r="2.4" fill="#DCAE36"/></marker></defs><path d="M59.6 205.2L65.6 203.5L67.5 203.7L75.2 204.2L72.2 201.5L66.1 201.6L70.9 208.7L71.6 206.4L56.1 206.8L72.7 211.1L69.5 205.6L57.9 204.8L60.4 204.2L56.7 205.6L63.6 203.1L71.7 209.2L75.7 207.9L69.5 201.8L68.8 209.2L73.3 207.5L58.3 201.1L71.5 210.7L56.4 203.6L72.5 204.7L66.6 204.3L64.5 209.7L55.7 203.4L65.3 208.7L66.9 201.9L62.9 203L68.1 203.4L60 210.9L59.8 210.9L59.5 201.5L63.2 201.3L75.2 203.3L65 205.7L74.4 210.6L63.3 209.7L72.8 209L63.3 209.7L58.2 206L63.1 205.1L71.3 210.5L59.4 210.4L58 202.6L61.9 210.9L73.8 209.7L56.4 202.9L57.6 211.1L61.7 202.8L65.8 201.6L66.5 210.5L70.6 204.1L66.6 207.3L70.8 203.9L73.7 201L68.4 203.7L57.8 205.4L62.9 201.6L69.5 208.8L73.8 209L60 209.9L58.4 205.5L72.5 202.2L59.5 203.7L62.6 206.7L67 210.3L57.3 203.9L74.5 201.5L65.4 205.4L63.1 205.7L63.2 204.6L55.8 211.3L72 209.9L69.4 206.2L67.1 209.4L63.3 209.8L63.7 205.4L62.1 203.9L58.1 205L63.3 207.6L59.3 210.8L75.8 210.3L65.2 204.5L65.8 205.3L71.8 207.3L73.4 206.1L56.8 206.3L71.8 209.5L72.1 202.8L68 206.9L70.7 201.6L59.1 206.2L61.8 210.5L70.7 209.3L63 207.7L69.2 204.3L62.3 204.4L71.8 207.8L68.1 203.9L61.9 208.5L60.5 202.2L67.4 210.8L75.2 203.2L59.2 201.4L63.3 205.7L75.8 202.6L72.5 209.8L72.6 211.2L62.9 208.7L75.8 204.4L75.8 208.5L62.8 205L64.9 205.2L69.1 205.7L57.9 205L57.6 204.8L66.7 201L70.4 210.9L59.2 207L56 202.4L61.9 201.1L55.6 204.6L63.5 208.2L69.5 205.2L65.3 205.3L58.5 204.3L63 210.5L75.5 209.3L64.8 210.7L56 202.1L61.1 204.3L71.8 211.4L63.9 209.9L62.5 209.5L65.2 205.9L67.1 202.4L67.7 209.9L68.4 204.1L62.9 201.9L56.6 208.5L70.8 202L61.7 209.3L70.3 207.9L68.9 204.9L60.1 205.4L74.2 203.4L63.9 203.9L67.5 208L75.2 207.7L65.3 201.7L67.8 210.2L72.9 210.9L56.3 202.7L71.2 209.9L69.2 203.6L71.3 204.1L74.5 208.3L63.9 209.1L58.7 202.9L55.5 202.5L57.3 210.8L64.7 205.4L56.3 202.4L61.4 206.4L71.3 205.5L75.8 201.1L61.8 202.6L69.2 207.1L59.3 209.5L66.7 201.3L63.4 202.4L72.8 207.3L70 202.5L58.7 201.6L66.8 208L69.2 206.5L64.1 201.8L73.8 207.5L70.1 203.8L68.1 211.3L67.3 209L65.9 201.1L56.5 205.2L71.1 208.7L58.5 209.2L57.8 209.3L68.3 205L58.9 203.6L72.7 201.7L72.1 207.4L71.1 205.6L69.1 202.1L67 202.4L56.1 211.3L68.2 205.2L55.9 207L58.2 205L74.1 208.9L68.3 208.4L69.9 201L68.6 208.5L65 201.4L75 204.8L60.7 202.7L62.9 203.6L64.9 204.9L59.5 208.6L72.7 201.7L75 205.3L59.2 206.9L69.8 202.9L60.8 207.5L59.2 204.1L71.9 201.7L72.2 211.4L60.5 207.8L64.9 206.9L64.3 211.4L72 204L73.9 207.3L69.4 203.9L72.1 204.1L56.4 205.8L71.5 209.3L59.9 206.4L67.8 201.5L59.4 203.4L75.7 208.9L65.7 202.3L65.2 209.7L70 211.4L64.2 206.8L63.8 207.4L64.8 208.6L75.6 207.9L56.7 201.3L64.8 211.3L67.3 208.6L74.8 206.6L67.8 207.3L56.7 204.9L65.6 210.1L56.2 204.5L66.9 205.9L66.3 205.1L59.9 207.4L66.8 201.6L65.6 208.1L73.9 210.3L70.1 209L65.8 207.7L70 209.2L73.7 201.5L74.3 202.5L82.7 196.7L80.9 197.4L87.8 195.6L85.7 210.7L81.7 202.5L77.5 207.6L84.4 209.2L77.9 209.8L78.8 203.2L85.8 204.9L87.1 210.8L85.2 196.7L80.3 197L82.8 194.1L83.1 197.8L82.4 198.5L80.8 207.4L78.2 194.6L86.9 210.5L85.3 196.7L84.7 209L75.4 208.1L78.7 200.7L78.3 199.1L86.5 210.6L84 202.9L75.9 195.2L77.3 204.7L83.1 199.7L76.5 205.8L81.2 200.5L81 202.9L77.9 199.1L83.4 197.3L79.7 211.1L86.5 206.4L83.6 197.9L80.7 204.4L85.5 204.5L76.1 209.7L80.8 195.6L82.8 205.8L87.3 199.2L79.9 206L82.4 198.8L86.9 204.3L87.7 195.6L79.3 196.7L87.5 211.1L80.1 211L84.8 209.9L85.6 194.3L77.8 203L80.9 210.4L87.5 201.5L82.6 199.9L86.3 198.6L80.2 210.9L78.6 196.6L82.1 206.5L85.9 199.2L79 199.8L87.4 208.5L81.3 210.6L78.6 203.1L84.9 201.1L87.5 195.1L77.6 196.3L83 195.4L76 195.4L85.8 210.5L87 204.3L78.7 208.8L85 198.8L79.4 196.2L82.4 207.6L78.9 199.1L79.4 202.2L87.9 207.2L76.5 195.9L81.5 199.2L76.6 197.7L80.2 205L82.3 204.5L81.7 206.3L76.3 194.9L75.2 194.5L76.4 199.4L87.8 200L85.3 198.7L76.8 211.4L86.6 204.2L81.3 208.8L80.6 210.5L77.7 205.9L75.5 210.3L80.8 209.6L77.1 202.8L80.5 204L82.1 206.2L85.2 206.4L78.9 197.3L81 194.7L84.8 194.1L83.2 197.3L83.5 202.3L76.6 205.1L79.3 200.3L86.9 201.5L79.7 208.7L80.7 203.1L83.4 194.3L80.4 204.1L77.4 208.5L80.7 201.8L86.1 205.7L81.9 211.1L77.5 205.1L81.6 202.6L84.1 211.3L80.5 195.4L76.8 205.4L84.2 204.2L79.3 210L87.9 197.8L85.8 196L80.2 210.6L87.1 204.4L75.5 196.6L82.2 194.4L84.1 205.9L83.1 209.4L77.7 196.4L83.6 195.8L78 199.3L79.6 210.7L81.3 206L85.6 196.9L85 196.5L87.3 210.1L78.4 197.6L86.1 196.9L75.3 196.9L76.4 201.5L79 186L85 188L81 190L84 191L103.1 206L100.5 211L94.4 206L92.5 210.5L94.3 208.7L99.1 208L106.7 206.5L104.3 206.7L93.6 207L99 205.7L92.8 207.8L98 206.4L105.6 206.8L98.7 206.3L89.6 209.7L91.6 208.9L91.8 206.6L102.3 207.8L104.4 209.5L103.4 207.9L93.6 209.1L95.4 206.6L87.3 206.4L96.1 207.1L102.5 208.8L88.2 205.9L87.6 206.9L103.6 209.5L101.3 208L90.5 210.9L105 207.1L98.9 205.6L96 205.3L89.4 205.7L98.9 209L95.9 211.2L88.8 210.8L105.3 207.3L106.5 205.9L88.4 206L100.6 207.6L104.7 208.4L106.8 207.7L91.8 207.8L93.1 207.7L103.8 210.7L105.8 210.8L101.8 205.5L91.4 206.6L104.9 207.1L99.7 211.1L92.7 210L98.2 206.8L95 210.8L94.6 208.5L87.3 207.1L98.6 206.1L102.7 205.9L93.3 211.5L104.2 207.6L107.3 210.8L87.9 205.1L87.7 210.7L87.7 205.1L99 209.9L104.2 211.4L97.4 208L93.5 210.4L88.7 205.7L90.6 209.8L103.7 207.6L92.2 208.1L88.2 206.5L89.9 211.2L95.9 211.2L90.5 207.4L97.7 211.4L90.2 211.4L105.2 211L92.9 208.8L104.6 209.8L100.6 207.7L92.6 209.5L96.7 205.8L105.7 205.5L96.5 209.7L107.9 209.3L89.9 210.7L95.2 209.8L106.3 209.1L91.8 205.8L88 208.2L91.7 210.5L104.8 205.5L99.1 205.3L90.8 208.5L94.8 206.6L93.8 207L94.6 208.2L107.9 210.6L105.4 205.3L104.4 210.5L107 210.8L91.9 205.1L105.8 205.5L100.8 206.5L103.9 207.8L91 206.5L90.4 207.6L90.7 205.1L106.7 208.2L102.5 207.1L90.4 210.6L96.1 209.7L91 207.5L89.9 207.2L105.3 211.5L93.4 209.5L91.3 207.4L90.8 209.4L93.3 208.6L92 209.8L92 207L94 209.5L93.7 210.7L89.3 211.2L102.8 210.7L97.4 210.9L106 210.8L105.1 207.4L100.9 209.9L98.1 205.7L101.4 211.4L97.2 206.3L95.3 207.1L99.6 207.7L95.5 210L101.4 205.6L90.8 211L100.1 205.8L106.1 210.3L99.1 208.1L94.3 209L97.1 211.3L104.8 207.5L91.5 207.2L102.1 208.9L91.5 207.9L98.4 207.6L89.2 206.7L96 210.9L101.4 208L106.4 210.1L95.7 205.8L89.5 209.6L94.7 208.4L94.2 210.4L100.8 211.1L103.2 209.4L107.3 210.4L118.8 209.4L119.7 203.4L117.3 203.2L109.1 200.2L108 209.8L119 201.2L119.4 204.1L119.8 199.2L110.4 199.7L117 205.2L119.2 203.4L115.4 205.4L110.3 199.3L119.1 204L112.6 203.2L109.5 207.1L113.4 209.1L119.5 199.1L111.2 208.5L110.4 203.7L114.4 206.2L109.8 205.1L108 204.4L119.7 207.3L114.5 201.5L119.6 206.7L113.7 205.4L112 205.9L110.4 199.7L117.3 207.6L114.2 205.1L112.9 203.9L118.4 199.9L108.3 199.5L113.7 207.1L118.8 203.8L114.3 201.5L108.7 202L114.1 201.4L116.3 206.7L114.6 207.6L109.5 207.8L111.8 209.5L116 205.6L115.3 209.3L108.5 203.9L117.2 203.8L118.5 205.4L114.2 209.2L110.8 205.5L112 208.7L119.5 208.4L117.9 204.5L117.2 201.4L113.9 209.8L109.5 201.7L109 207.6L113.5 208.1L119.7 199.1L117.5 202.4L116.2 205.6L118.1 206.2L110.2 201.6L111.9 202.3L111.4 202.8L110.4 204.2L110.9 199.1L112.8 203.4L108.5 205L119 203.9L115.4 206.6L114.1 203.9L114.7 204.3L118.4 199.4L113.5 203.5L117.4 205.1L109 209.6L117.9 204.9L112.2 204.4L119.6 208.8L112.7 208.6L111.8 203.7L114.5 202.3L116.3 204.9L118.1 207.1L111.4 200.8L115.1 200.8L111 203L113.5 201.9L119.9 204.9L113.7 205.5L114.1 209.7L110.1 201.9L117.8 203.6L109.5 204.9L108.6 199.2L137.5 201.5L139.1 199L123.4 203.7L126.6 205.4L125.5 206.4L123.9 205.5L132.8 204.6L144 205.2L134.8 205.3L137.5 199.7L137.3 205.5L136.8 200.7L125.2 205.1L125.7 200.5L127.7 197.5L132.9 201.2L142.3 201.4L140.5 204.4L144.9 199L141.4 199.8L127.7 198.2L143.9 206.2L125.2 206.6L122.5 198L142.1 205.6L134.8 203.5L143.3 206.4L138.3 199.8L121.2 198.5L133.8 199.7L144.5 200.1L136.8 202.4L141.9 207L132.8 197.5L128.8 199.7L132.9 205.9L132.3 202.2L129.1 198.3L132.5 205L137 198L135.6 199.9L122 205.4L126.5 198.1L143.2 201.5L130.8 203.2L128.2 199.9L139.5 204.1L143.8 202.4L120.1 202.3L144.2 202.8L134.8 202.7L125.6 206.5L138.6 204.4L123.3 199.4L124.6 198.5L133 199.1L136.8 202.2L137.5 200.3L130.2 204.3L134.5 206.4L122 202.6L126.5 201.7L141.4 205.7L132.9 198L136.6 204.4L138.8 205.4L134.7 200.2L127.1 199.7L127.2 200L122.9 202.6L135.5 204.3L127.1 203.8L122 203.3L132.6 201.4L128.3 199.5L141.1 205.8L132.8 202.2L133.2 206.8L135.5 197.8L141 201.3L121.4 204.7L130.7 199.1L121.6 197.8L128.6 204L140.6 199L125.5 200L138.4 203.8L131.2 203.3L125.5 198.7L136.9 201.5L120.7 204.4L126.9 203.6L128.9 204.6L131.2 206.2L135.7 198.9L120.4 203.1L122.1 201.7L124.5 206.4L126.8 201.6L142.4 199.4L131.7 197.9L126.4 206.1L128.3 200.5L141.2 200.2L132.1 201.3L128.3 199.7L126.7 201.7L130.6 204.4L127.2 200.2L127.4 200.1L142 197.5L141.2 200.1L143.9 197.8L137.3 202.4L133.1 206.6L143.8 206.3L125.4 200.2L142.5 201.6L137.3 202.3L134.7 203.9L140.6 201.9L121 199.5L140.6 206.7L134.4 201.9L127.9 203.1L132.4 201.4L122.2 200.2L136.8 200.9L138.2 200.4L141.1 203.4L123.9 206.3L129.5 206.4L129.6 206.9L142.2 202.5L140.6 204.4L137 200.9L143.5 204.9L137.2 204.5L126.5 198.3L144 200.5L125.5 205.9L136.3 198.2L129.9 198.1L143.5 198.3L127 203.8L134.7 199.3L129.8 201.1L135.4 197.5L132 203.4L137.5 203.3L135.7 200.6L128.4 204.9L127.8 203.6L134.9 206.4L122.7 203.2L124.8 203.5L124.3 202.9L128.4 199.2L137.5 201L134.7 203.7L123 205.7L133.9 201.4L120.6 198L129.9 203.1L136.9 201.1L130.9 204.2L138.7 205.8L140.9 200.4L135.5 202.3L131.6 206.5L143.4 202.6L140 197.5L125.4 205.5L143.4 205.1L143.8 206L120.6 198L140.7 206.8L128.8 201.1L136.1 201.3L137 199.4L139.7 205.8L123 205.6L143.3 204.5L141.3 200.6L143.6 202.9L125.6 206.8L127.4 199.2L144 199.8L129.8 199.5L135.3 198.9L131.7 201.4L121.9 199.4L167.1 210.2L173.9 200.7L151.4 204.8L175.4 204.6L160.5 204.2L151.6 204.3L150 203.7L162.1 211L164.5 211.3L167 209.9L172.1 208.1L178.9 209.7L159.7 200.4L175.5 203.6L177.6 210.4L176.9 208.4L159.3 206L176.9 211.3L173 209.6L161.6 210.9L173.6 202L179.5 200.9L160.4 200.8L163.4 201.9L173.2 210.8L153.4 209.1L149.3 209.3L147.6 209L169.3 211.1L163.8 203.6L151.2 203.7L162.5 204.6L160.5 211.4L179.6 201.3L154.5 204.5L161.2 203.3L158 203.9L175 209.3L164 207.1L160.2 202.6L172.5 202.4L147.9 207.1L164.2 202.5L151.7 207.8L174.6 205L155.6 205.8L151.6 205.4L167.4 204.5L152.4 200.9L175.7 203.2L179.8 207.3L163.3 206.3L154.9 209.9L168 206.8L149.9 201.9L168.2 201.8L156.2 203.7L177 201.1L164.3 210.9L163.1 209.8L166.2 206.5L158.2 203.6L178 206.5L159.8 206L172.2 208.3L158.6 209.3L172.3 206.6L179.6 204.3L148.2 207.3L168 211.1L170.1 207.3L151.8 205.9L151.2 204.3L153.4 208.6L177.7 211.1L155 208.9L168.4 208.1L152.6 208.5L152.4 207.4L161.6 208.5L157.3 209.8L154.1 207.5L154.9 205.3L174.9 204.3L174.4 202.6L151.6 201.4L152.7 206.1L145 203.9L157.1 208.8L160.6 208.3L170.8 205.9L165.4 206.7L146.8 205.5L178.4 206.7L162.5 201.5L150.5 207.5L155.1 206.5L151.1 210.4L173.8 202.1L152.7 204L178.3 202.7L167.1 210.3L176.8 202.7L176.3 208.1L153.7 208.1L177.6 201.8L151.3 211.1L177.4 202.5L172.7 207.4L173.5 211.4L159.2 205.8L179 201.4L165 208.8L154.6 203.2L170.8 209.3L149 209L173.4 209.1L167.2 200.4L168.7 205.8L153 200.9L151.2 204.6L174.9 204.7L166.5 209.1L163.4 200.8L154.8 206.3L171.7 202.5L172.1 209.9L165.7 205.3L171.1 204.6L146.6 205.4L154.8 204.4L145.2 210.2L164.5 200.5L164.8 209.7L152.4 201.3L146.7 203.6L174.5 202.6L164.1 200.8L176.5 207.1L161.6 203L164.7 202.7L155.4 202.5L167.2 206.6L172.7 203.7L172.8 206.7L146.4 209.6L164.2 211.5L155.5 204.9L178.9 206.9L164.2 211.2L146.2 201.2L158 202.3L158.4 210.5L176.5 202.2L175.4 211.2L149 207.1L179.8 207.6L176.7 203.7L178.6 201.3L149.3 201.8L150.8 207L168.7 207.8L170.9 205.4L179.1 204.1L156.1 206.8L151.1 208.7L172.6 200.6L155.2 207.4L146.2 203.4L150.6 206.5L178.7 209.4L145.1 202.3L169.1 203.9L175.7 207.8L154.9 201.8L170.9 201.7L177.6 203L147.2 210.6L150.9 201.9L174.4 211.2L160.6 204.3L152.6 204.3L146 203.1L176.2 206.5L149.8 202.3L178.7 203.4L153.6 209.3L145.7 207.5L158.5 203.8L154.5 208.8L175.5 205.3L146.6 208.2L149 206.6L179.3 203.4L168.8 210.6L178.1 209L151 206.1L150.3 205.1L150.3 206.1L172.8 204.2L165.5 210.5L176.1 206.8L168.8 204L159.4 209.1L175.8 204.3L157.2 206.1L145.7 200.5L154.2 203.1L169 205.3L161.8 202.4L168.3 205.5L164 204.4L149.3 204.1L151.8 208.2L163.4 205.8L162 208.9L171.4 210.5L173.6 206.6L170.2 201.4L152.4 210L154.7 210L167 207.5L176.8 208.6L175.4 210L149.8 204.7L161.4 209.8L163.8 201.2L153.9 204L146.7 206.2L154.4 201.5L160.8 211L161.2 204.1L152.3 203.5L158.4 207.6L147.6 210.7L161.5 208.6L160.4 210.1L172.7 205.4L155.9 201.4L162.7 205.7L169.8 207.1L154.3 200.5L152.1 205.5L145.3 205.2L164.3 209L152.2 210.7L157.4 205.9L170.1 206.8L147.1 208.9L167.6 204.5L153.5 211.3L158.4 201.8L166 208.4L151.6 203.1L150.1 203.2L179.1 200.5L181.5 191.7L187.5 195.3L178.7 193.4L185.5 197.9L184.2 196.4L186.9 199L178.2 187.5L184 188L178.6 194.9L187 202.7L183.4 205.5L185.3 200.1L183.6 195.8L181.8 192.5L184.5 199L184.8 201.8L181.8 189.1L181.5 196.9L183.3 191.5L182 196.2L187.8 193.4L181.3 203.3L179.9 195.5L183.5 203.5L187.2 200.4L182.9 204.8L179.5 192.6L184.1 194.7L183.7 190.3L187.8 193.1L185.5 190.2L186.4 192.1L183.6 195.1L183.5 193.7L187.4 202.2L178.5 183.5L184.3 197L187.4 200.4L182.4 188.3L185.1 194.1L187.6 205.4L186.3 192.8L183.6 190.9L185.1 195.2L185.8 190L179.6 203.4L183.9 195.3L178.2 188.2L181.1 195.6L184.4 190.7L185.6 189.2L187 197.6L185.1 201.2L181.5 200.6L186.9 205.5L185.8 195.2L185.5 197.5L185.3 189.9L184 193.2L183.4 201.7L180.2 190.8L185.5 196.1L184.3 194.2L185 200.4L183.1 193.8L181.6 201.2L185.9 194.9L181.4 192.6L185.1 206.6L179.3 200.7L180 201L184.6 196.9L186.8 194.5L183.3 190.5L182 195.1L184.5 201L179.2 185.4L181.4 190.4L180.7 198.3L185.3 201.1L185.6 198L183.3 189L186 196.2L179.6 185.8L179.2 190.8L187.4 207.3L187.5 196L180.1 187.7L180.2 196.9L183 192.2L186.2 198.7L186.7 205.4L183.5 195L187.5 198L181.6 191.2L182.9 198.5L196 203.2L188.9 208.8L194.2 198.2L196.5 208.3L193.9 201.8L192.6 210.6L194.2 204.8L199.5 202.4L190.3 207.7L194.5 201.4L199.6 207.7L188.8 206.5L189 200.3L193.8 209.7L189 199.3L196.9 199.6L193.3 209.1L190.5 204.9L188.9 201.9L190.4 202L192.5 200.5L197.5 206.3L189.1 207.1L190.1 199.9L198.1 206.9L189.4 211.1L190.6 198.9L194.4 200.5L193.4 202.3L198.5 201.9L193.9 209.2L196.5 207.9L193.1 203.1L195.9 207.5L191.1 206.8L188.5 199.2L192.3 198.6L189.3 204.5L195.4 201.1L188.4 202.4L189.3 209.4L196.2 199.7L193.3 201.4L191.2 207.8L197.9 209L197.2 204.6L197.3 208L199.3 201.5L198.2 207L194.4 206.3L188.1 199.3L197.7 201.7L197.1 198.9L199.2 199.3L194.3 207.7L198.8 210.6L198.6 205.1L197.1 200.8L195.6 208.2L191.7 204.8L199.1 210.3L194 210.8L197.4 208.9L198 210.8L197.7 201.2L199.3 202.1L189.7 204.1L190.8 204.8L191.8 200.2L191.3 207.3L195.4 210L192.5 204.2L190.1 207.8L197.4 208.8L194.2 205.7L189.9 200.4L196.5 199L198.1 200.6L192.5 203.2L195.1 198.3L192.9 210.4L192.4 201.4L191.3 202.3L193.7 199.4L199.9 198.2L194.2 203.7L196.4 207.5L193.4 202.9L199.9 211.5L195.4 208L200 207.7L188.1 209.2L190.5 210.8L189.2 204.9L192.1 209.6L196.1 209.1L210.8 207.4L320.6 224.9L234.1 215.3L203.9 209.9L207.2 218.3L271 214.6L309.2 211.3L234.1 220.8L229.5 228.7L204.4 203.6L272 211.3L254.2 220L211.7 216.9L210.7 213.7L212.3 224.3L251.4 206.7L278.6 224.6L274.5 210L296.6 225.8L291.5 207.1L277 219.8L200.9 224.8L286.2 230L232.7 218.6L309.8 228.2L201.2 208.4L208.7 218.7L261 219.6L224.2 219.2L254.3 197.8L251.9 216.1L282.1 225L205.1 199.2L265.2 204.4L294 226.6L235.1 228.3L203.3 217.5L285.9 226.7L266.1 203.5L261.2 218.9L286.5 204.4L238.5 200.9L240.1 212.8L321.8 228.5L276.9 224.5L280.7 213.2L239 217.9L317.9 221.4L220.5 224.9L305.1 205.3L271.7 200.5L247.7 206.6L207.6 218.1L278.1 212.8L289.2 213.3L253.6 224.1L248.5 221.8L279.5 202.9L240.2 211.1L271.3 210.4L261.8 210.7L261.6 225.5L215 218.6L253.6 229.8L234.4 209.7L313.6 210.7L240.2 210.3L307.6 227.7L236.7 199.8L221.1 210.4L244.1 226.5L248.9 228.3L224.9 218.8L268.8 204.1L253.4 219.9L296.6 213.4L244.4 198.8L280.3 221.8L207 226.7L233.5 222L259.8 211L246.6 226.7L216.9 219.1L310.4 197.1L245.8 195.7L275 219.4L294.4 214.2L244.3 216.2L258.1 215.5L204.6 216.8L288.5 210.1L218.6 203.8L202.3 209.6L221.3 217.7L300.5 214.8L258 212.9L231.4 218.8L306.2 222.6L282.7 205.1L282.2 225.2L229.8 203.2L296.1 218.3L214.4 206.5L244 195.7L317.1 209.4L280.6 203.7L240.9 224.4L282.6 219L268.4 225L202 225.3L302.2 223.9L208.8 219.2L314 202L279.2 199.2L208.6 200.2L318.7 228.4L201.5 202.7L253.5 204L227.6 198.2L248.1 216.5L267.9 200.9L270.3 219.7L249.5 224.6L314.2 202.8L263.4 199.4L291 208.1L274.6 201.1L227.5 207.4L302.1 221.9L207.3 221.2L220.2 224.1L218.1 201.8L276.4 201L233 207.2L264 217.2L231.1 202.8L297.6 228.2L286.9 228.3L243.7 207.9L218.4 203L292 220.6L207.7 226.1L318.6 224.6L278 195.7L215.1 198.3L213.1 211.6L204.7 202.4L212.5 218.4L245.8 224.4L232.3 222.5L225.3 200.3L276.6 205.3L290.3 216.6L210.5 227.1L317.2 207.3L281.8 203.8L240.6 227.3L251.9 205.4L295.4 228.8L231.2 207L217 226.1L240.9 228.7L298.5 221.4L246.8 219.2L204.8 203.4L317.8 212.7L207.7 215.3L234.8 218.3L302.3 225.6L211.2 228.7L295.4 196.5L275.2 203.3L266.8 199L299.9 225.6L247.4 203.4L298.7 216.4L303.5 212.4L207.3 206.6L245.7 209.4L208.4 210.9L300.9 199.4L304.7 210.4L251.5 215.1L310.3 199.5L319.2 204.6L211.9 202.7L216.5 217.6L308.9 196.8L305.8 214.1L239.9 197.2L277.8 209.8L241.6 201.2L274.2 195.9L295.3 196.9L301.9 227.6L201.3 220.5L239.7 210.9L264.4 196.6L315 203.2L321.7 198.8L258.9 196.8L314.9 221.5L217 220.2L256.9 224.8L293.3 225.5L233.5 205.1L236.9 210.1L218.5 207L226.5 207.1L295 229.9L258 198.4L304 214.9L236 210.1L249.8 197.1L257.3 200.7L255.4 212.4L202.3 198.5L302.2 221.3L258.1 223.5L254.7 216.7L314.3 220L245.5 217.1L293.4 226.7L207.3 209.6L303.8 198.8L319.6 219.1L320.6 225.3L261.5 208.5L316.1 209.7L233.1 200.4L274.7 225L311.6 218.1L281.9 219.1L303.2 218.5L268.7 211.5L253.9 200.9L232.1 225.2L310.9 221.6L214.5 218L203.7 198.4L312.9 222L210.8 224.5L314 214.4L267.9 206.7L271.2 212.7L309.8 211.9L307.1 219.5L273 215.9L201 217.6L318.5 197.8L288.8 201.9L290.1 218.9L213 220.1L265.6 220.9L281.6 200.5L306 199.9L280.3 223.5L292.3 228L237.7 229.1L244.2 208.9L287.8 205.3L222.1 203.2L305.8 223L314.3 207.7L244.2 203.3L220 209.6L203.7 201.7L318.7 203.4L259.8 226.4L295 221.9L237.4 198.5L236.8 228.2L305.6 220.6L300.8 198.1L238.6 202.6L316.8 225L206.6 197.4L313.9 208.7L225 222.6L238.5 212.6L268.4 221.5L218.1 200.6L289.9 207.9L277.9 223.8L283.4 211.4L250.9 229.4L217.1 206.1L231.7 199.1L243.9 205L213.2 229.4L243.8 198.2L308 211.6L283.6 218.8L238 218.7L233 229.9L316.8 224L318.7 208.3L301.4 200.8L304.3 218.7L242.5 212.4L200.9 223.6L278.8 228.2L257.6 207.8L205.6 197.4L314.3 223.7L285.7 198.9L287 199.9L300.7 203.7L265.6 222.9L214.8 198.3L244.3 198.6L284.3 211.1L259.3 227.7L273.7 226.8L224.1 219.4L224.9 216.9L266.1 214.4L257.3 200.6L300.3 218L293.2 196.7L224.3 227.6L275.6 199L307.4 227.9L282.6 212.1L240.8 198.2L244.1 229.9L275 206.9L254.5 214.5L220.5 229.4L242 227.5L252.8 208.3L261.7 214.7L207 221.9L315.9 214.8L208.4 197.5L300.1 195.9L256.1 224.9L254.2 204.9L263.8 216.7L233.2 226.4L207.8 199.3L270.3 211.2L298.7 202.8L280.7 209.1L232.5 215.7L303 218.1L219.2 226.1L279.8 223.6L236.7 214.5L200.2 219.5L274.5 211.2L251.6 216.7L299.6 202.2L318.2 208L267.1 211L296.3 213.2L238.3 197.8L270.2 227.1L316.1 201.8L281.6 227.6L311.8 198.8L288.8 225.5L204.2 204.4L250.4 197L297.5 217L274.9 218L248.3 206L201.8 213.1L211.4 204.6L300.8 208.8L219.1 214.1L256.2 224.5L213.7 199.9L262.2 208.2L223.6 215.4L304.7 226.6L210 224.2L216.7 226.7L231.7 206.5L267.4 217.1L200.5 199.5L300.3 212.5L247.5 216.1L300.7 201.3L215.2 221.4L230.3 225.1L297.9 207.5L311.1 228.1L237.8 198L238.6 216.9L228.2 211.5L291.1 200.7L235.3 206.9L210.4 207.8L203.9 224L232.9 225.1L221.9 221.7L241.2 203.3L202.3 218.2L230.4 214.4L257.7 199.2L276.1 197.5L244.1 222.4L253.3 220.8L277.9 203.4L268.7 224.9L292.8 224.1L294.6 220.7L217.4 203.8L212.1 223.9L246.3 213.6L286.3 217.7L319.2 211.2L222 200.7L242.9 215L303.5 211.3L278.2 211.6L296.6 211.1L207.4 228.4L234.3 201.8L225.9 199.4L261.2 218.8L282.6 196.9L241.4 204.8L243 227.5L240.9 224.5L289.6 220.1L248.3 219.4L302.7 226.4L243.5 213L283.5 209.5L201 214.7L274.6 225.8L300.7 209.6L312.7 224.1L221 201.9L315.7 200.8L259.5 207.5L253.3 230L217 216.9L308.4 214.4L234.2 221.5L312 204.6L302.8 228.9L227 214.4L310 198.5L310.7 224.5L224.8 207.4L274.9 221L314.8 206.6L293 210.7L247.7 229.2L200.4 209.4L252.7 219.6L208.9 223.3L279.3 198L272.2 198.6L219.7 198.2L241.6 214.4L283 227.8L285.6 217.9L302.5 195.6L224.6 214.8L212 213.7L204.4 209.9L284.1 228.2L210.1 218.6L288.6 205.4L262 218.3L315 196.5L308.9 201.3L248 218.7L282 215.8L232.7 205.6L229.6 226.8L243.2 227.1L220.8 215.3L214.8 200.5L215.8 209L320.2 209.7L219.1 197.9L262.8 202.5L289 224.3L270.7 201.5L247.2 210.4L297.8 207.2L227.2 221.5L273.8 221.6L302.6 208.2L283 198.7L247.6 196.4L229.5 209.9L294.8 203.9L316.5 209L301.1 199.8L237.2 207.1L310.7 219.8L250.2 209L274.5 225.1L313 198.8L250.5 202.8L249 228.6L253.7 201.9L214.2 199.6L315 206.7L316 229.3L285.6 220.8L276.3 201.7L202.8 203.6L215.3 206.4L313.7 216.9L231.9 206.2L238.7 197.7L283.3 209.5L247.9 201L224.9 205.1L311.1 210.3L281.5 210.4L260.9 221.2L298.4 196.2L304.8 208.9L252.2 223.7L297 221.2L225.7 216.4L209.2 213.9L282.2 213.1L270.7 202.7L270 199.9L213.3 221.8L246.2 203.8L293.8 221.4L301.5 212.5L249.9 200.2L271 217L235.4 208.5L314.2 201L230.8 198.3L206.3 221.5L228.7 208.3L312.6 201.7L242 213.8L275.3 217.2L299 200.9L211.1 196L235.1 210.8L220.8 226.2L250.5 216L277.8 201.6L269.1 208.1L279.1 222L249.2 203.7L228.1 223.1L291.5 198.1L248.4 228.6L228.3 218.1L289.5 220.6L214.8 221.6L211.5 224.2L270.8 220.1L233.4 221.1L242.8 213.2L206 230L222.6 216.7L238.2 200.5L288.3 198.2L245.8 223.5L236.6 218.5L207.9 217.3L272.9 212.2L288.9 223.9L277 206.3L312.3 223.8L304.6 221.5L290 201.4L316.1 208.6L201.7 197.5L217 196.5L219.8 206.3L217.7 208.8L216 197.5L249.2 212.3L268.1 201.5L301.7 201.9L260.4 214.4L293.5 212.3L297.1 218.1L261.6 222.6L309.9 219.4L223.1 196.6L314.1 227.5L249.5 227.4L317.6 205L285.8 212.9L202.9 198.6L291 214.6L248.9 198.7L214.5 200.2L282.5 216.4L230.1 210.1L291.5 212.6L237.1 214.3L286.4 218.2L220.7 227.5L241.2 223.7L285.8 210.1L227.5 225.7L283.2 202.5L274.1 199.9L304 222.2L284 222.4L312.1 209.2L249.9 218.4L244.2 215.5L289.8 228.3L305 227L303.1 201.5L313.1 207L293 203.9L256.7 209L285.8 208.5L306.2 197.2L221.3 213.6L256.1 213.2L231.4 208.3L316.9 220.7L244 229L316.4 204.6L243.9 204.8L318.8 211.8L201.3 222.7L315.5 213.8L299 226.7L216.2 219.2L303 219.5L237 228.2L235.2 209.9L202.6 199.5L236.4 196.2L215 202.1L306.1 229.9L273.5 203.3L291.5 217.4L283.9 224.6L250 226.6L265.6 207.5L238.3 227.7L222.2 224.8L283.4 195.6L303.3 200.7L219.7 216.9L301.1 210.8L304.6 223.9L237.1 222.1L294.2 213.7L278.4 215L211.4 211.3L294.2 197.8L232.7 210.9L223.7 223.2L242.9 204.1L295 219.9L210.9 222.4L203.8 199.2L267.2 221.2L228.4 227.7L303.9 223.5L230.9 205.7L284.8 218.1L284.1 226.2L303.5 201.3L200.1 215.4L291.5 198.9L233.5 223.8L302.9 217.2L312.3 205.3L252.5 199.6L312.8 216.5L293.9 204.1L285.7 229.5L321 218.6L258.4 227.4L244.5 201.7L233.8 215.2L201.5 216.2L280.4 229.8L227.3 199L239.1 201.8L226.1 195.7L234.9 201.7L254.3 220.5L279.3 216.3L218.8 209.4L286.2 223.4L213.7 217L313.9 225.7L236 227.8L309.3 222.2L291.8 226.3L229.3 206.5L246.4 209L215.7 208.4L297.6 228.9L286.1 212.4L222.3 222.2L226 229.5L296.9 227L257.1 196.2L221.1 206.2L262.8 213.4L308.2 203.4L281.4 210.8L262.5 229.7L247.1 213.5L248.4 224.6L241.1 208.5L203.8 212.6L235.9 224.1L293.3 219.7L304.2 219.8L270.3 205.6L201.7 196.5L276.5 223.5L221.5 213.5L236.5 225.9L287.3 199.9L240.1 221.2L299.4 204.1L279.9 222.2L295 202L222.9 221.7L246.5 224L303.9 218.4L275.9 204.4L301 219.5L215 225L308.2 208.8L202.6 218.5L205.5 219.4L237.8 195.5L215.2 217L232.6 226.9L224 202.1L221.5 224.9L282.9 227L282.9 210.8L209.8 212L292.6 214.4L201.4 197.5L285.9 200.9L206.7 198.2L207.4 207.4L219.7 228.2L211.2 223.4L263.5 204L212.4 226.3L203.5 196.7L265.5 216.2L259.9 200.8L234.3 212.7L302.6 199.8L259.1 223.4L294.1 203.1L214.7 215.5L308 207.1L239 228L306 215.4L295.3 221L256.6 229.2L304.4 208.7L208.1 222.8L261.2 199.6L270.1 215.2L221.3 205.9L303.7 200.3L272.6 224.7L211 216.6L259.7 207.2L276.2 209.5L223.4 211.2L242.1 210.7L295.8 203L315.6 221.8L308.3 200.8L318.3 208.3L239.9 206.1L309.1 203.4L220.8 219.1L285.7 226.9L273.1 213L311.9 225.1L257.4 207.6L268.6 216.1L317.1 213.5L242.1 201.8L289 217.8L303.2 223.5L281.3 221.4L262.8 202L318.5 221.2L321.1 224.9L251.5 218.5L305.9 223.7L286.4 211.1L312.6 214L266.8 213.1L212.3 216.9L295.4 209.6L217.1 213L271.7 203.7L218.7 209L220 211.9L208.7 215.8L298 219.9L291.7 209.9L231.1 202L294 206.9L214.8 224.6L225.6 207.2L265.1 217.7L214.6 227.4L301 226.5L299.1 217.1L229.1 211.9L224 201L291.7 220.4L269.6 207L246.9 214L297.8 203L218.3 227.7L208.7 217.3L205.6 220.1L249.9 207.2L249.6 196.6L262.9 225.7L321.9 225.3L275.6 202.7L229.8 228L225.7 218L242.4 203.2L241.2 225.3L280.1 197.3L228.8 226.8L249 213.5L254.1 207.4L243.1 221.7L317.4 223.7L273.7 228.2L250.6 216.5L287.1 199.9L243.5 201.8L210.2 211.7L220 199.1L276.9 214.5L269.4 198.3L296.6 203.8L221.6 196L213.6 207.8L210.4 199.4L268.1 221.5L216.7 195.8L242.1 223.8L315.7 213.7L304.6 227.1L203.6 211.7L282.7 210.1L299.4 206.5L292 199.6L301.9 227.5L321.9 202L216.2 214.6L260.8 229.3L264.3 207.9L231.6 202.8L306.8 215.2L202.5 226.2L305.6 201.9L235 222.5L247.6 216.3L213.4 217.3L204.4 197.1L271.4 224.3L224.3 199.6L214.7 214.3L200.6 200.6L204.3 220.9L224.9 225L286 204.6L200.4 204.1L308.4 217.3L244.5 207L300.4 202.1L319.4 207L229 201.2L211.6 223.4L276.9 219.2L291.3 220.7L259.5 195.6L312.8 201.7L267.8 205.5L232 227.7L317.8 229.1L207.2 205.9L212.3 198.5L258.7 207.7L265.9 196.1L242.5 210.6L289.4 213.4L206 203.9L274.4 203.9L231.1 217.4L305.1 220L282.4 223.5L312.9 198.1L247.5 203.2L232.3 227.6L205.6 207.8L321 225.5L281.1 228.9L201.1 228.5L203.6 212.3L265.5 199.1L291.7 226.2L269.2 222.6L225.9 203.7L222.3 223.4L287.4 224.5L205.2 197L203.8 219.5L304.1 201.5L235.4 221.8L287.9 226.1L288.8 195.5L279.1 222.5L287.8 225L281.5 196.4L277.8 210.9L261.7 203.6L299 202.7L242.9 225L264.8 207.4L250.5 222.7L222.8 196L204.2 218.2L205.5 221L205.6 226.9L245 223.6L297.3 205.8L224.5 199.3L232.5 207L282.1 208.9L264.9 217L282.7 196.5L214.1 201.5L269.7 202L305 203.1L243.4 213L283.1 215.2L214.9 203.9L311.7 219.5L290 202.2L234 211.2L295.1 229.4L223.6 205.7L205.7 220.4L250.4 196.5L256.9 228.9L296.4 221.3L269.8 220.9L212.1 228.3L308.6 216.7L265.4 225.3L214.7 223.8L260.6 206.9L280.6 204.4L303.9 197L231.6 204.5L290.6 224.5L225.4 202L252.3 216.5L203.5 216.2L240.6 209L216.5 212.2L314.6 229.6L309.5 211.2L238.6 225.8L312.3 218L240.4 199.1L231.2 208.9L297.8 196.2L275.8 221.2L281.1 224.9L257.7 223.8L206.4 218.5L311.8 229.1L203.3 220.5L266.1 220.7L282 211.4L258.9 224.8L217.8 217L315.9 218.5L314.9 220.6L206.6 224.7L227.4 226.7L256.3 224.1L223.8 200.9L213.3 225.4L236.2 211.6L205.7 227.9L283.3 222.5L293.5 218L302.2 204.7L265.3 215.1L219.7 225.4L271.9 199.6L269.2 215.8L232.6 226.7L283.5 229.7L230.7 222.6L224 206.8L312.8 195.8L275.9 204.5L242.2 227.4L252.8 216.7L212.3 225.1L259.9 203.5L268.8 207.2L230.3 210.6L313.7 205.2L226.3 222.9L218.5 206.3L215.5 198.3L254.4 220.7L280.1 214L222.8 217.8L321.9 197.1L283.6 200.4L233.7 203.1L228.4 225.6L266.9 224.3L251.6 228.5L305 206L252.8 213.9L210.9 219.2L245 197.1L237.5 212.7L228.5 205.2L232.5 225.8L311.1 201.7L295.2 220.1L255 225.1L223.6 212.5L243 209.2L257.3 206.9L248.2 218.3L315.6 221L218.7 200.7L267.9 222L262.4 213.4L283.2 201.8L302.5 210.1L213.9 215L281.4 225.7L242.2 212.3L292.7 199.3L290.6 224.5L272.5 225.3L314.3 197.7L287.7 205L305.4 210.9L262.1 197.3L289.5 220.7L250.1 207.5L305.9 198.1L294.2 215.7L321.8 196.6L241.6 220.3L209.6 207.5L222.6 205.1L270 197.4L211.6 212.6L262.1 205.9L284.3 216.3L274.9 223.8L267.5 218.3L306 220.7L264 208L212.4 201.2L246.2 227.7L233.6 211.1L273.2 205.4L322 211.2L221.9 209.7L240.2 229.3L314.9 199L244.8 200.5L211.8 207.8L296.5 210.8L239.8 208.8L298.7 218.7L210.4 211.1L256.8 215.1L274.8 229.5L268.6 204.5L252.7 196.5L233.2 203.8L250.8 195.6L219.5 203L222.7 227.2L317.5 199.2L238.4 211.5L293.9 209.3L264.3 226.4L300.7 196.4L313.5 197L275.7 214.1L255.6 210.9L313.4 218.6L261.6 216.2L201.3 215.2L282.5 198L291.9 211.5L235.4 200.3L269.1 203.5L214.3 223.2L278.9 225.5L223.1 206.9L200.4 205.4L223 209.9L222 216.4L250.1 225.5L304.4 202.7L253.5 222.8L238.1 197.7L246.8 208.3L316 208.6L320.6 202.2L215.3 203.3L314.1 225.5L312 227.3L279.3 205.1L224.2 214.3L308.7 217.4L229 206.8L201.3 204.4L318.8 210.3L282.9 216.9L320.1 212.5L283.1 213L218.2 214.6L222.2 215.4L270.2 197.3L248.3 204.2L246.8 220L209.7 199L317.4 218.8L200 219L232.5 205.7L259.7 203L212.9 226.7L261.8 208L319.5 212L248.5 217.5L255.1 209.5L296 230L241.9 218.2L217 213.8L313.8 198.4L319 209.7L223 195.9L283.9 216.4L228.1 209.6L235.6 223.9L288.7 220.8L281.8 227.2L204.9 225.2L304.7 209.7L321.8 202.4L289.9 210.1L288 200.4L307.3 220.8L237.6 206.4L317.3 198.1L207.1 223.2L283.3 226L259.9 210.9L295.4 218.7L320.9 200.2L274.2 214.3L226 209.6L315.4 227.4L278 203L305.4 215.7L249 199.8L298.8 199.7L213.8 212.9L306.9 208.2L239.2 213.1L294 219.7L271.1 224.2L302.8 213L286.9 210.6L271.1 196.1L279.2 228.6L319.7 205.9L286.7 227.6L200.6 227.2L232.5 209L252 207.5L284.8 199.3L308 200.7L311.3 226.9L270.6 225.1L232.2 199.3L283.4 200.2L283.1 197.3L257.3 228.3L236.2 215.1L238.5 212.1L250.2 229L304.2 209.6L230 198.2L268.2 215.4L217.7 209.5L312.9 197.4L245.5 217L295 195.9L221.7 227.2L236.3 201.6L227.9 203.4L309.6 196.5L244.4 223.7L305 221.9L261 214.6L290.3 196L284.4 212.9L281.3 216.9L287 205.2L255.4 212.8L205.9 203L285 206.4L242.4 198.7L279.8 212L238.5 197L265.5 214.4L282.4 226L287.8 213L282.2 212.7L206.4 203.3L297.6 215.2L309.2 216.1L311.1 209.6L247 228.8L227.4 217.9L308.7 211L271.6 227.9L212.1 216.9L311.8 217.6L274.1 198.9L245.7 200.4L288.9 196.4L228.6 203.9L220 199.7L312.5 218.3L249 203.5L200 228.7L212.2 226.1L206.3 219L299.4 222.8L219.4 213.4L307.5 221.2L219.4 207L292.4 205.5L318.3 200.1L250 214.9L260.4 223.7L263.2 201.2L244 214.8L286 210.4L301.9 208L217.1 224.4L265 220.6L240.8 229.9L210.8 205.7L270.9 226.5L239.1 215.5L316.1 228.8L260.3 211.8L266.5 210.7L264.2 215.7L210.6 210L222.8 199.5L249.5 226.3L247.2 226.4L300.8 195.6L312.8 210.6L277.8 198L223.8 215.4L256.8 197.6L229.9 201L315.6 196L206.8 206.1L221.3 222.6L255.6 229.7L202.7 208.6L258.8 196.2L231.5 202.6L233.1 205.2L240.4 208.7L224.7 198L273.3 211.5L255.1 208L218.1 225.7L240.1 229.7L306.7 215.7L254.8 198.6L271.6 216L285.1 197.6L312.2 223L307.2 214.5L256.4 227.9L258.1 204.9L203.8 225.1L294.7 223.4L205.6 200.5L292.4 216.7L223.7 224.4L209.9 224.3L252.6 208.1L280.3 222.5L242.6 200.8L276.1 205.6L212.9 206.3L224.8 200.2L320.6 222.9L316.4 213.3L251.5 204L230 221.2L283 199.7L227.3 212.1L291.5 210L246 199.5L230.3 220.5L296.9 226.4L299.1 197.2L227.1 211.6L254.1 199.5L224.8 197.5L296.4 209.6L228.7 214.5L312.3 228.7L303.8 223.3L270.8 207.6L233.1 202.2L216.7 216.1L223.7 213.1L229 216L202.7 211.9L237.4 200.2L274.2 223.2L291.9 214.8L295.4 228L238.7 214.5L247.7 221.8L269 224.7L253.3 209.2L266.8 225.1L252.9 223.3L315.5 216.4L261.7 204.5L314.2 221.8L208.7 221L321.3 206.5L308.3 201.3L311.6 224.3L314.7 203.8L264.7 196.5L273.5 208.2L310.2 207.8L201.6 214.2L238.1 224.9L289.1 221.8L200.7 213.1L254.6 224.4L249.8 204.1L305.9 224.3L226.5 197.4L275.2 215.7L283.4 230L210.8 215.9L284.3 196.3L282.1 227.3L211.1 212L298.6 215.8L308.7 207L259.1 219.1L269.8 212.2L206.3 202.1L214.7 221.7L259.3 201.3L217.1 211.4L258.2 223.1L304.4 197.4L237 210.9L301.9 207.2L222 204.7L210.1 198.3L248.6 202.5L208.6 209.9L226.4 225L260.8 228.2L239.8 216.8L321.4 212.8L202.4 200.5L275.3 227.9L296.6 201.3L306.5 227.2L218.9 206.9L297 213.2L283.6 218.5L206.1 200.3L201 211L206.9 208.2L302.7 205.9L310.6 207.3L315.8 204.1L209.3 207.8L244.2 208.5L243.4 210.7L263.9 201.5L213.9 208.4L213.2 211.3L233.2 223.2L289.6 201L229.8 225.8L200.4 213.6L292.9 198.9L307.2 206.7L251 201.6L285.8 224.2L280.4 206.2L247.3 211.7L318.9 220.6L224.7 214.3L318.7 222.5L255 209.3L321.1 203.5L280.3 224.6L253.1 214.5L208.8 224.9L243.9 195.9L219.1 206.5L222.4 213L309.8 201.6L217.5 204.9L208.9 217.2L220.5 222.1L300.9 229.1L208.4 197.6L248.2 204.7L202.3 218.5L218.4 209.6L219.6 225.9L261.6 202.6L278.9 221.4L316.3 205L297.2 220.7L292.5 217L261.8 207.4L238.1 202.8L291.4 217.4L291 196L261.1 199.6L267 219.6L242.6 201.4L273.7 220.2L240 199.3L246.1 219L220.2 212L247.5 199.4L207.4 222.5L268.9 205.3L267.9 211.8L288.4 228.1L284.1 222.9L321.6 203.8L204.4 224.7L321.3 213.6L279 214.9L287.4 201.4L201.3 207.4L299.6 219.3L242.2 201.8L308.5 225L239.4 219L212.4 210.9L215.7 201.9L222.4 220.2L306 209.2L219.6 197L241.5 201.7L248.7 221.2L320.4 220.8L310 205L236.6 199.8L256.1 221.2L278.7 228L243.9 196.9L236.5 203.9L284.4 202.4L201.5 215.1L304 202.6L293.9 215.1L258.5 213.6L263 218.6L294.6 197.9L221.6 201.4L270.2 200.2L246.9 208.7L279.1 202.8L205.3 210L245.5 220.6L234.2 223.5L213.7 215.2L256.8 220.9L236.5 228L209.8 209.4L211.8 229.5L258.7 219.5L284.7 227.2L204.8 229L259.5 225.2L249.5 199.5L282.4 212.4L215.5 223.7L241.2 196.5L205.6 228.2L310.1 215.2L287.4 217.2L205.4 229.5L278.6 220.4L225.3 221.4L314.6 226.3L313 206.2L270 227.5L267.2 210.6L210.7 197L229.2 227.1L255.7 229.2L220 229L251.8 227L319.4 211.7L273.9 209.6L225 198.1L226.9 217.1L295.2 220.9L320.5 209.4L308.6 210.8L260.3 209.2L281.9 203.9L315.1 221.1L259.2 201.6L213.4 197.8L225 213L259.6 218.1L314.8 216.1L244.7 210.6L210 216.8L233.3 207.6L293.1 215L221.8 216.4L299.5 226.8L203.1 203.9L231.2 202.6L238.8 202.9L263.1 198.3L273.6 217.6L222.7 221.4L224.9 199.2L270.9 200.2L300.8 200.4L246.4 213.8L305.7 204.5L272.8 196.2L229.1 213.2L225.8 203.6L321.8 227.4L306.4 220.5L303.6 225.4L287.4 217.6L203 206.8L278.9 211.6L245.4 202L290.8 223L297.8 221L303.1 218.9L244.7 214.5L308.9 208.7L219.8 217.4L263.2 205.3L284.1 227.1L278.4 195.9L291.1 226.9L240.8 196L265.1 209.1L200.2 215.4L277.8 212.5L277.3 212.5L294.9 227.9L301.8 214.5L267.1 227.4L220.1 225.8L238.8 211.1L209.1 213L300.2 213.3L275.5 218.4L275.7 208.1L318.7 202.4L240.4 212L235.8 225.3L287.5 228.3L248.1 201.9L267.7 224.5L262.1 209.5L211.9 212.3L243.1 205.6L299.8 212L317 198.3L306.4 217.3L239.2 197.3L221.5 209.5L286.3 206.3L206.6 229.2L296.9 213.3L224.4 197.5L238.1 221.5L315.7 229L261.9 210.2L222.1 206.8L292.9 207.7L279.5 216.7L228.5 227.9L239.2 196.1L320.7 227.2L200.2 227L299.2 215.3L305.2 198.1L319.8 221.6L305.4 222.2L241.5 218.4L205.8 218.5L291.4 211.5L255.7 201.8L250.2 202.5L202.2 205.7L209.8 227.6L218 199.7L321.6 198.5L260.2 198.2L309.2 223.9L216.2 210.4L288.6 215L221 227L308.5 213.1L295.3 201.9L283.4 225.8L219 204.8L313.7 206.1L293.9 218.9L281.6 224.6L295.1 205.8L245.4 215.2L228.2 212.8L288.3 198.8L311.5 213L230.8 197.6L268.7 227.5L235 201.4L220 197L288.5 205.1L319.8 215.2L290.6 209.3L298.6 208.9L295.5 209.7L210.6 195.7L208.5 210.7L259.2 223.7L204.5 207.4L211.4 216.3L221.9 218.4L237.7 219.9L280.2 225.4L228.7 210.7L264.8 219.5L260.3 217.9L236.9 211.6L239 205.5L285.6 216.2L308.3 209.2L230.9 211L254.8 226L303 221.6L214.6 211.5L256.3 226.6L301.9 219.5L249.2 227.6L288.4 216.4L297 222.5L217.8 199.1L278.6 220.2L244.7 199.8L284.7 225.9L265 226.8L259.3 213.8L298.5 198.6L221.3 212.9L302.3 208.7L209.3 206.8L287.4 201.3L283.6 199.9L313 195.8L262.1 220.3L257.5 226.2L271.8 210.6L201 227.6L306.5 209.5L284.8 217.9L252 215.4L249.3 214.3L239.9 202.2L216.1 210L239.4 197.9L201.6 221.8L232.5 206.4L242.4 199.3L281.8 210.5L205.5 212.2L247.1 205.1L225.5 218.7L297.2 225.6L278 195.6L298.2 215.1L276.4 201.1L261.9 211.1L312.2 215.3L267.5 203.5L254.9 217.6L312.7 213.4L233.9 201.2L317.4 200.3L278.6 206.9L212.1 204.3L308.3 203.8L241.1 217L220.6 202.1L251.5 202.5L243 224.2L257.9 223.6L239.8 225.2L281.9 209.3L280.4 219.8L226 192L249 188.7L250 191L306 188L307 191L212 232L236 231" fill="none" stroke="none" marker-start="url(#d6)" marker-mid="url(#d6)" marker-end="url(#d6)"/><path d="M65.4 17.5V238.3M75.6 17.5V238.3M85.9 17.5V238.3M96.1 17.5V238.3M106.3 17.5V238.3M116.6 17.5V238.3M126.8 17.5V238.3M137 17.5V238.3M147.3 17.5V238.3M157.5 17.5V238.3M167.7 17.5V238.3M178 17.5V238.3M188.2 17.5V238.3M198.4 17.5V238.3M208.6 17.5V238.3M218.9 17.5V238.3M229.1 17.5V238.3M239.3 17.5V238.3M249.6 17.5V238.3M259.8 17.5V238.3M270 17.5V238.3M280.3 17.5V238.3M290.5 17.5V238.3M300.7 17.5V238.3M311 17.5V238.3M321.2 17.5V238.3" stroke="#262626" stroke-width="1" stroke-opacity="0.7" fill="none"/><rect x="45.5" y="17.5" width="280.7" height="220.8" fill="none" stroke="#474747" stroke-width="1"/><path d="M45.5 216.1h2.5M326.2 216.1h-2.5M45.5 147.7h2.5M326.2 147.7h-2.5M45.5 79.3h2.5M326.2 79.3h-2.5" stroke="#474747" stroke-width="0.9" fill="none"/><path d="M45.5 236.7h1.5M326.2 236.7h-1.5M45.5 231.3h1.5M326.2 231.3h-1.5M45.5 226.7h1.5M326.2 226.7h-1.5M45.5 222.7h1.5M326.2 222.7h-1.5M45.5 219.2h1.5M326.2 219.2h-1.5M45.5 195.5h1.5M326.2 195.5h-1.5M45.5 183.5h1.5M326.2 183.5h-1.5M45.5 174.9h1.5M326.2 174.9h-1.5M45.5 168.3h1.5M326.2 168.3h-1.5M45.5 162.9h1.5M326.2 162.9h-1.5M45.5 158.3h1.5M326.2 158.3h-1.5M45.5 154.3h1.5M326.2 154.3h-1.5M45.5 150.8h1.5M326.2 150.8h-1.5M45.5 127.1h1.5M326.2 127.1h-1.5M45.5 115.1h1.5M326.2 115.1h-1.5M45.5 106.5h1.5M326.2 106.5h-1.5M45.5 99.9h1.5M326.2 99.9h-1.5M45.5 94.5h1.5M326.2 94.5h-1.5M45.5 89.9h1.5M326.2 89.9h-1.5M45.5 85.9h1.5M326.2 85.9h-1.5M45.5 82.4h1.5M326.2 82.4h-1.5M45.5 58.7h1.5M326.2 58.7h-1.5M45.5 46.7h1.5M326.2 46.7h-1.5M45.5 38.1h1.5M326.2 38.1h-1.5M45.5 31.5h1.5M326.2 31.5h-1.5M45.5 26.1h1.5M326.2 26.1h-1.5M45.5 21.5h1.5M326.2 21.5h-1.5M45.5 17.5h1.5M326.2 17.5h-1.5" stroke="#474747" stroke-width="0.7" fill="none"/><text x="60.3" y="254.5" font-size="11" text-anchor="middle" font-weight="normal" fill="#262626" >1</text><text x="100.8" y="254.5" font-size="11" text-anchor="middle" font-weight="normal" fill="#262626" >5</text><text x="152.4" y="254.5" font-size="11" text-anchor="middle" font-weight="normal" fill="#262626" >10</text><text x="203.8" y="254.5" font-size="11" text-anchor="middle" font-weight="normal" fill="#262626" >15</text><text x="256" y="254.5" font-size="11" text-anchor="middle" font-weight="normal" fill="#262626" >20</text><text x="305.2" y="254.5" font-size="11" text-anchor="middle" font-weight="normal" fill="#262626" >25</text><text x="40.9" y="222" font-size="11.8" text-anchor="end" fill="#262626">10<tspan dx="0.3" dy="-6" font-size="9">4</tspan></text><text x="40.9" y="153.6" font-size="11.8" text-anchor="end" fill="#262626">10<tspan dx="0.3" dy="-6" font-size="9">5</tspan></text><text x="40.9" y="85.2" font-size="11.8" text-anchor="end" fill="#262626">10<tspan dx="0.3" dy="-6" font-size="9">6</tspan></text><text x="185.5" y="11.2" font-size="12.2" text-anchor="middle" font-weight="bold" fill="#000" textLength="207.8" lengthAdjust="spacingAndGlyphs" >SDC: Variations in Memristances</text><text x="191.4" y="271.9" font-size="11.5" text-anchor="middle" font-weight="normal" fill="#262626" textLength="45" lengthAdjust="spacingAndGlyphs" >Device #</text><text x="15.8" y="127.6" font-size="13.3" text-anchor="middle" fill="#262626" textLength="88.7" lengthAdjust="spacingAndGlyphs" transform="rotate(-90 15.8 127.6)">Resistance (Ω)</text><text x="0.5" y="26.7" font-size="19.5" text-anchor="start" font-weight="normal" fill="#000" >a)</text><circle cx="141.6" cy="33.9" r="2.5" fill="none" stroke="#FF0000" stroke-width="0.9"/><text x="157.2" y="36.2" font-size="9.8" fill="#000"><tspan textLength="50.5" lengthAdjust="spacingAndGlyphs">Modeled R</tspan><tspan dy="4.6" font-size="8.2">on</tspan></text><circle cx="141.6" cy="51.8" r="2.5" fill="none" stroke="#00FFFF" stroke-width="0.9"/><text x="157.2" y="54.2" font-size="9.8" fill="#000"><tspan textLength="50.5" lengthAdjust="spacingAndGlyphs">Modeled R</tspan><tspan dy="4.6" font-size="8.2">off</tspan></text><circle cx="234.8" cy="33.9" r="2.3" fill="#DCAE36"/><text x="250.5" y="36.2" font-size="9.8" fill="#000"><tspan textLength="56.3" lengthAdjust="spacingAndGlyphs">Measured R</tspan><tspan dy="4.6" font-size="8.2">on</tspan></text><circle cx="234.8" cy="52" r="2.3" fill="#7E2F8E"/><text x="250.5" y="54.2" font-size="9.8" fill="#000"><tspan textLength="56.3" lengthAdjust="spacingAndGlyphs">Measured R</tspan><tspan dy="4.6" font-size="8.2">off</tspan></text><defs><marker id="m33" markerUnits="userSpaceOnUse" markerWidth="7.2" markerHeight="7.2" refX="3.6" refY="3.6" overflow="visible"><circle cx="3.6" cy="3.6" r="2.6" fill="none" stroke="#58F2F2" stroke-width="1.0"/></marker></defs><path d="M434.8 91.9L404 122L409.3 91.2L424.7 99.1L432.6 95.1L434.9 98.2L423 119.6L425.8 119.3L426.6 88.7L432.3 107.6L413.5 93.7L431.2 107.4L434.2 114.1L434.9 106.8L426.2 108.4L411.7 120.5L413.5 114.3L434.7 109.8L407.9 115.9L425.2 93.5L404.8 105.6L404.3 119.4L419.9 105.1L416.7 110.1L433.4 97.8L415.5 107.4L413 107.8L421.1 102.2L425.4 105.5L406.1 121.9L414.9 102.1L416.5 119.5L434.6 104.9L416.4 90.4L432.8 93L421.2 99.2L414 99.5L409.5 88.3L420.9 114.9L424.6 94.1L462.1 88.8L454.4 116L468.3 103.1L466.2 104.4L457.5 107.5L470.2 113L456.1 112.5L460.7 99.4L464.5 115.7L459.7 120L443.7 104.5L460.5 98.9L447.9 111.2L455 96.4L444.3 120.8L452.8 91.1L449.1 95.9L466.8 93.3L450.7 90.4L456 94.3L452.6 112.7L468.4 116.2L444.2 100.2L466.3 88.2L448.7 104.1L453.6 113.3L462.7 103.3L450 95.1L450.4 89.3L461.3 92.5L467.4 109.6L444.7 104.5L459.6 88.5L456.4 88L464 87.1L460.4 121.5L466.2 95.2L457.7 91.9L452.5 117.2L465.4 87.3L487.8 109.4L482.2 115.1L501.8 106.3L487.3 116.7L491.4 93.6L485 92.6L500.3 104.8L496.4 115.6L504 93.7L488.5 117.6L498.2 100.5L495.3 93.8L481.8 88.8L487.8 95.3L491.5 120.9L481.6 106.5L501 107.9L491.8 113.9L478 120.2L496.1 115.2L499.9 90.5L479.2 93.2L491.2 119.8L502.2 101.4L494.4 112.9L486.5 121L503.1 112.4L502 115L495.2 98.2L485.1 95.3L479 119.4L485.5 87.8L486 90.6L489.6 98.6L482.2 103.7L488.7 99.4L499.6 97.7L492.2 117.7L503.6 100.1L478.5 120.3L525.9 94.6L515.3 95.4L520.3 91.9L513.1 121.8L534.4 91L525 115L525.7 89.4L521.1 100.3L537 107.4L524.4 109.1L513 111L534.1 110.5L521.7 97L512 89.9L516 102.9L533.3 94.6L524.8 109.3L529.1 87.7L537.2 107.5L520.1 95.4L530.8 119.6L521 100.9L527.1 93.1L522.9 119.1L527.1 115.8L519 117.4L533.4 94.9L526.4 110.9L527.6 108.1L518.3 106.4L521.5 114.9L522 121.3L527.8 95L523.2 91.5L532.1 88.6L528.5 97.8L533.2 91.4L530.5 112L518.2 91.6L522 109.7L553.7 87.3L558.7 115.3L550.8 119.9L560.5 92.6L549.2 100L559.6 93.1L548.7 104.5L553.5 102.6L558.9 111.4L562.5 95L551.4 117.1L547.8 91.3L548.3 115.9L561.4 119.3L563.8 98.7L558.4 112.6L552.8 115.1L557.7 88.5L556 106.6L550.5 118.7L572.1 104.9L571.5 111.1L561.4 92.5L572.9 119.2L559 100.5L548.4 108.7L570.2 100.6L554.4 108.5L568.5 92.9L554.2 109.5L547.5 115.6L555.2 116.1L559 92.8L546.9 91L553.6 113.5L568.5 109.1L554.9 110.2L566.8 99.9L548.7 103.4L552.6 93.6L592 89.6L606.1 96.8L606.1 112.8L581.5 118.5L603.6 105.4L605.7 103.7L581.9 92.2L589.8 117L604.2 91.1L590.9 90.9L587.5 99.3L592.7 92.2L599.4 95.5L605.9 103.8L593.1 113.8L590.8 96L584.6 97.3L587.7 112.7L591 111.7L588.8 89.4L589.6 100.7L606.4 94L587.1 92.5L588.2 120.6L607 95L582.6 104L597.4 90.9L592.8 113.9L581.2 112.2L600.2 114.5L594.7 103.2L595.6 91.8L595.4 95.4L590.1 88.6L585.6 88.9L596.2 95.3L596.6 104.6L587.7 91.4L597.7 110.7L600.3 104.8L631.7 87.9L624.2 115L626.2 90.6L627.3 116.2L618.6 90.9L629.5 117.5L626.5 95.7L636.8 90.3L623.9 107.9L639 117.1L624.8 96.3L625.8 91.3L623.3 113.8L642.5 96.5L617.9 112.9L642.2 114.8L627.1 113L636.6 113L629.3 122L637.1 95.2L627.6 90.1L626.1 115.6L629.1 105.3L637.1 90.1L625.5 103.9L629.3 111L641.4 115.1L630.7 110.9L630.5 121.5L632.1 107.8L626.7 101.7L636.7 100.1L640.5 112.5L641.9 111.7L631.4 99.8L616.4 110.2L636.3 112.3L636.5 88.3L634.5 96.8L626.5 117.4L661 103.3L651.5 93.4L655.7 94.5L664.1 88.7L652.5 90L669.8 121L670.2 105L653.6 114.4L653.6 89.7L663.8 117.2L658.4 117.2L659 120.8L669.9 117.3L676.5 115.6L655.4 105.1L664.7 112.3L656.3 107.2L657.7 93.4L662.2 115.1L664.9 99.4L656.2 99.6L660.8 96.5L658.4 95L658 110.6L666.9 108.9L674.9 110.3L653.6 101.1L664.1 113.1L664.3 90.3L662.9 109.9L671.1 102.6L655.8 88.2L663.6 113.2L653.1 105.3L666.1 106.6L656.3 90.2L650.7 97.7L674.1 101.7L676.5 115.9L665.7 102.4" fill="none" stroke="none" marker-start="url(#m33)" marker-mid="url(#m33)" marker-end="url(#m33)"/><defs><marker id="d35" markerUnits="userSpaceOnUse" markerWidth="7.0" markerHeight="7.0" refX="3.5" refY="3.5" overflow="visible"><circle cx="3.5" cy="3.5" r="2.5" fill="#7E2F8E"/></marker></defs><path d="M423.8 115L415.4 103.5L436.3 111.5L417 107.6L406.7 110.4L432.1 109.3L428.8 113.3L415.2 111.6L439 112.9L409.8 112L426.9 113.9L429 116.2L439.1 104.4L420.7 101.7L439.5 102.7L418.8 111.3L418.9 103.8L421.6 104.7L421.1 112.9L414.1 108.4L426.4 109.8L432.6 115.9L438.8 103.7L420.9 102.9L428.8 107.6L434.4 109L432.5 101.4L425.7 107.8L433.8 102.6L406.3 112.5L415.1 108.2L418 117.5L426.1 114.9L434 115.3L419.5 105.8L422.1 115.9L435.7 108.9L436.6 113.7L404.5 111.5L432.4 101.6L417 111.7L421.8 109.8L406.3 105.3L435.1 106.8L420.7 110.8L413.5 107.9L421.7 115.5L434.2 103.9L421.6 113.5L436.2 109.8L426.4 111.7L427.7 115.9L439.5 117.6L407.6 112.9L417.4 105.6L410.4 139.8L428 141L432 141L408.6 152.5L436.6 152L437 127.7L423.5 124L443.2 99.6L468.6 94.8L455.9 90.7L469.7 97.6L445.4 95.3L471.9 91.4L451.9 92.7L451.9 89.6L460.1 91.2L461.8 94L467 97.5L467.5 90.1L465.4 97.9L449.3 88.1L443.2 97.8L471 88.9L447.8 93.2L442.2 96.2L467.5 98.7L445.7 99.6L465.1 90.1L467.3 99.8L468.1 97.6L466.1 94.8L440.3 96.7L456 90L444.3 99.2L468.9 88.7L440.6 96.9L449.3 99.1L454.8 97.1L441.5 97.9L446.4 93.5L455.6 92.2L447.8 93.7L441.7 90.1L444.2 98.9L450 100.5L468.8 90.2L467.4 100.5L454.2 94.2L461.6 94.3L448.4 97.3L447 92.9L440.7 92.2L465.8 89.8L446.1 93.1L449.5 88.2L441.7 90.6L465.4 97.9L465.8 96.9L471.9 91.3L462.6 93.8L470.7 93.7L463.2 97.9L441.6 71.6L450 68.5L441.6 79L455 82L445 84L468 75L470 79L467 83L462 90L475.8 87.3L472.6 85.6L475 89.8L472.2 86.8L474.6 78.6L471.6 84.4L474 81L474.1 78.4L494.6 107.2L503.9 109.7L476.9 107.5L478.6 107.1L498.4 109.5L474.3 107.1L480.3 106.8L491.7 106.5L501.5 104L491.2 103.2L481.1 108.5L479.7 110.8L487.5 101.4L502.3 100.2L484.6 108.8L474.6 109.4L494.2 113.2L485.3 111.2L509.3 106.7L476.7 104.5L503.3 99.9L496.8 107L500.6 104.9L507.7 101.5L489 104.1L494.1 102.9L487.9 106L507.2 100.3L484.2 101.9L499.7 110.4L474.6 110.5L505.7 106.2L495.4 110.7L507.4 103L499.5 101L487.1 112.3L496.6 107.2L490 106.1L475.1 107.5L507.9 101.5L475.2 108.4L503.6 105.7L477 108.7L497.6 103.1L503.3 107.3L502.3 103.1L487 108.9L498.1 111.4L508 109.7L474.4 106.2L531.3 122.7L519 108.5L528.3 112.5L526.1 112.7L538.8 111.9L527.5 123.6L530.5 112.2L527.2 122.7L530.1 124.6L536.5 117.3L512.3 117.5L524.8 122.1L523.6 120.2L513 118.7L538.3 124.6L535.1 121.7L514 111.9L517.8 112.1L528.5 115.3L531 124.5L542.8 112.3L529.3 119.1L523.1 120.4L538.8 115.5L530.3 112.3L523.4 114.2L536.7 126L538.5 120L532.9 120.9L526.9 111.3L517.4 122.9L528.8 111.4L520.5 110L512.4 112.4L518.2 107.7L525.3 124L524.2 115.1L521.4 112.3L519.4 110.8L523 123.3L520.8 122.3L525.5 119.2L524.9 115.1L539 121.2L514.7 111.7L521.8 117.3L521.2 112.3L518.6 123.7L533.9 124.6L539.3 113.9L538 145L540 148L561.8 108.9L560 105.5L565.1 107.3L549.2 97.2L552.5 96.9L553.8 97L546.7 107.7L549.8 108.7L557.7 110.8L562.5 111.5L557.9 103.6L575.5 108.2L558 111.5L568.5 107.5L544 111.8L546.7 96.6L554.9 99.7L551.4 104.7L560.6 108.1L573.3 108.4L573.3 103.8L548.2 108.7L577.8 99.2L564.5 103L577.4 96.9L559.7 102.5L555.9 109.2L543 101.1L576.8 104.3L543.5 107.1L566 112.5L574 112.8L552.3 101.8L567.4 102.3L556.1 97L549.9 98.6L556 108.5L549.8 101.3L545.9 103.4L563.6 106.8L565.6 105.6L567.4 110.2L572.4 96.3L575.6 104.6L577.7 109.6L559.2 97.1L546.4 109.8L543.2 97.2L567.4 106.9L566.7 97.5L576.5 109.3L543.4 106.2L554.4 100.3L564.5 113.4L544.1 110.3L609.7 104.4L608.5 103.3L588.9 103.4L584 105.6L597.1 109.5L610.9 114.1L580.5 104.1L587.5 115L605.3 115.3L607.4 113.8L597 115.4L606 115L607.9 110.9L580.9 112.2L601.8 117L603.4 116.2L609 107.9L609.5 111.4L592.7 109.6L594.9 109.1L602.5 106.8L592.8 112.6L611 113.8L596.9 108.6L600.4 116.6L578.6 108.7L587.6 114.4L600.7 103.1L608.5 109.1L582.7 104.5L580.4 106.7L580.8 113.4L582.7 109.4L600.4 109.5L587.9 109.7L593.6 111.5L598.1 107.7L601.1 115.6L610.9 112.1L588 103.1L592.6 117.6L611.6 113.5L584.6 106.1L583.3 109.4L610.4 106.1L605.8 111.1L587.1 109.7L579.8 112.4L608.7 107.8L611 107.3L590 113.2L585.3 103.6L595 110.3L583.5 105.6L581.8 105.9L605 123L598 125L592 122L617.3 110.6L643.2 107.3L620 108.5L645.4 102.4L637.5 96.4L638.8 112.7L631 114.1L632.9 111.7L629.2 104.4L621.5 108.5L639 96.8L635.5 97.1L634.5 110.3L644.1 108.2L634.8 109.6L635.6 109.8L635.8 112.7L624.5 115.7L618.7 99L613.8 109L642 98.2L643 105.4L635.2 99.6L646.7 104.3L620.4 109.8L613.6 110.9L641.4 98.3L620.9 103.1L618.8 109.9L640.5 104.8L636.3 113.8L640.6 103.3L643.3 99.3L640.8 97.6L623.2 99.7L631.7 99L633.3 99.9L635.5 106L622.9 100.4L638.5 99.9L623.6 115.2L642.8 109.7L634.3 112.8L641.3 111.9L638.3 104.2L638.5 103.7L631.7 97.3L617.5 111L615 100.4L642.6 113.1L646.1 110.7L622.5 109.3L630.1 98.6L617.6 109.9L626.8 108.3L674.7 129.6L651.7 139L650.5 132.6L663.6 131.6L658.5 130.5L671.3 131.1L668.7 133.6L662.1 129.6L673.6 129L673 129L658.5 133.4L665.3 131.6L676.9 132.4L653.6 136.5L666.7 135.1L675.6 138L656.2 138.1L673.8 129.4L662.4 137.8L659.1 132.3L661.6 137.6L647.4 135.6L668.2 138.7L666.4 131.6L666.5 136.4L650.9 136.9L665 134.9L666.5 135.2L651.5 130.3L647.1 132.1L653.5 135L649.9 130.2L662.5 137L661.5 129.4L674.8 134.6L674.4 136.6L666.3 143.7" fill="none" stroke="none" marker-start="url(#d35)" marker-mid="url(#d35)" marker-end="url(#d35)"/><defs><marker id="m37" markerUnits="userSpaceOnUse" markerWidth="7.0" markerHeight="7.0" refX="3.5" refY="3.5" overflow="visible"><circle cx="3.5" cy="3.5" r="2.5" fill="none" stroke="#FF2424" stroke-width="1.0"/></marker></defs><path d="M433.5 212.3L428.1 213.5L425.6 216.3L433.9 195.3L419 215.6L425.7 207.1L416.9 193.2L417.2 191.2L408.3 202.9L417.8 207.5L422.8 210.8L422 211.7L404 203L434.7 210.4L431 216.2L408.1 203.8L432.8 199.3L420.3 195.9L405.2 214.6L427.7 211.2L433.1 205.5L431.3 211.2L418.2 203.2L409.6 202.4L431.4 191.9L434.9 196.3L419.9 198.7L403.9 207.1L408.8 201.6L431 202.7L414.4 194.5L403.3 212.1L419.2 198.9L428.5 204.7L410.5 216L416.6 199.6L436 201.9L418.6 212.6L424.7 197.5L404.4 192.7L407.6 210.3L415.4 204.8L412.4 164.2L436.2 181.6L426.1 180.6L404.4 186L432.3 169.5L431.9 190L408.6 188.5L404.2 184L435.9 167L417.9 163.6L420.8 164.5L419.4 168.3L448.1 208.4L449.4 195L450.8 200.8L461.7 206.1L459 209L450.3 208.7L444.5 193.4L458.7 207.9L450.5 216.6L445.9 212.1L458 206.5L454.7 192.6L455.1 208.7L463.6 212.3L451.2 204.3L446.1 202.3L454.5 211.6L445.3 192.3L460.3 211.6L444.8 208.8L446.9 213.2L460.7 196.3L453.4 212.8L469.5 191.9L454.9 194L469.9 215.7L454.5 213.1L449.8 212.9L447.8 199L457.6 210.3L456 193.8L443.6 195.1L450.7 207.9L448 214.7L461 199.1L458.9 213L450 208.3L460.8 212.5L461.4 192.6L467.1 196.5L459.9 194.1L464.9 212.5L465.4 182.6L468.4 177.9L466.8 170.9L446.5 169.5L454 184.8L464.5 171.5L464.5 188.1L453.8 182.3L451 174L448.5 171.9L444.9 173.9L465.2 168.2L483 214.5L486.8 197.4L481.6 191.9L501.7 209.9L504.2 213.9L494.6 215.6L484 209.9L499.9 195L503 216.3L483 195.3L479.9 195.9L486.6 211.8L483.2 196.9L496.2 212L477 211.5L496.1 199.1L490.2 192.5L489.3 191.1L498.1 204.4L481.8 196.5L493.5 198.5L498.5 206.3L498.7 194.1L482.7 215.5L497.3 202.1L505.2 192.5L494 194.4L485.6 196.4L488 192.4L482 208.6L481.7 203.8L504.5 211.3L479.7 210.1L493.4 205L499.5 215.9L487.1 212.4L482.7 205.4L501.9 211.4L486.7 214.1L493.4 214.2L499.6 202.7L486.9 194.4L502 166.6L479.2 171.5L480.8 169.5L496.6 172.1L501.1 173.8L501.5 186.1L484.3 178.8L496.1 167.8L477.9 187.4L477.3 168.3L480.6 186.5L495.3 177.3L525.5 216L517.2 212.5L519.6 197.9L531 201.8L527.8 209L512.8 201.1L522.8 212.4L533.6 202.4L522.6 211.2L532.3 192.1L534.5 213.4L519.4 208.4L524.9 197.8L513 205.1L532.2 201.7L529.6 195.7L535 210.2L525.4 193.8L511.2 201.5L518.3 192L520.3 215.2L526.1 208.8L523.5 198.9L515.9 205.7L531 204.6L524.5 206.3L517 215.3L536 195.2L535.9 209.4L512.2 211.1L534.6 198.8L516.9 203.6L512.3 194.9L531.4 200.8L522.6 214.7L534.1 198.7L512.7 192L530.3 205.4L539.6 205L528.8 211.7L525.9 203.9L521.5 203.9L531.4 176.6L532.7 173.5L529 174.7L527.3 184.6L514.4 163.9L517.5 169.5L515.4 178.8L524.2 175.7L533.3 166.3L537.7 184.9L518.5 184.1L535.8 163L555.9 209.5L555.5 195.5L554.1 198.5L566.7 204.1L555.9 216.5L555.8 205.3L571.9 216.6L558.1 201L563.6 204.7L561.6 205.3L551.5 195.3L562 197L559.2 192L556.2 195.2L560 214.5L550.8 196.5L555.5 198.5L548.5 193.2L565.4 213.2L546.2 210.8L568.8 210.3L567.6 193.5L554.4 213.1L560.8 211.2L553.2 213.1L571.7 195.4L567 217L547.3 197.1L572 209.2L556.2 195.4L571.8 192.2L574.6 192L555.5 203.9L562.8 212.3L557.8 215.3L555.2 200.3L574.4 199.4L560.2 192.8L568.9 204.5L570.7 208.5L557.9 192.3L556 203.6L556.9 175.6L552.8 169.3L572.4 185.2L556.6 186.1L548.2 181L553.9 171.1L560.3 179.1L554.4 170L557.2 186.1L572.4 187.9L566.9 190L547.1 187.6L591.2 191.9L586.7 213.4L599.7 193.2L589.8 215L609.3 216L606.3 215.1L606 203.1L588 205.2L581.9 205.3L588.7 196.4L593 208.4L594.6 193.9L608.8 196.7L597.3 212.7L600.2 202.5L606.1 193.5L596.1 194.3L595.2 198.7L604.6 202.8L586 195.5L584.4 203.9L605.4 214.8L602.3 193.1L598.9 197.5L584.3 193.8L602.9 192.7L605.6 199.5L591.4 214.5L585.8 202.1L605.2 207.5L587.5 193.6L604.2 207.1L607.9 195.7L588.8 209.2L589.8 216.5L589.4 194.1L594.8 193.3L591.7 215.3L599.5 202.2L599.8 212.5L582.3 215.9L606.6 201.7L586.6 182.9L596.5 166.2L598 177.2L597.8 163.7L596.3 175.6L605.5 183.1L601.3 179L587.3 186.3L588.2 189.8L595.9 174.5L592.1 176.2L595.2 167.4L627 192.1L631.2 194L621.7 191.6L629.7 191.9L628.9 208.2L618.9 199.8L623.9 202.6L624.2 200.6L639.7 191.5L641.4 214.6L633.4 210.8L636 202L620.1 193.9L632.4 208.7L635.5 216.6L623.7 206.6L623.2 213.6L617.2 206.7L639.9 197.1L642.9 201.8L643.5 198.9L640.9 200.3L638.6 214.7L631.6 210.4L636.6 214.6L638.3 207.4L635.7 206.2L622.6 191.5L641.5 194.1L627.3 195.8L621.9 195.5L630.7 194.2L639.7 206.8L619 196.2L636.3 216L626.9 191.5L622.5 205.8L625.8 210L617 216.6L617.8 207.8L629.6 213.6L627.5 200.4L625.3 188.7L634.7 172.8L627.2 173.4L618.2 189.8L639.6 189.7L630 164.5L618 169.1L628.8 171.7L642.6 188L627.9 171.9L625.7 175.2L627.5 165.8L672.9 209.6L677.4 198.7L661.7 211.4L661.2 214.1L670.2 198.5L669.6 202.5L675.6 196.7L656.3 199.2L651.8 194.2L673.3 205.1L671.7 210.8L667.3 201.3L673.9 199.2L674.4 192.8L666.6 216.2L664.3 200.4L662.9 202.3L654.1 202.1L655.2 203.7L664.7 205.7L669.1 191.4L651.8 200.6L651.7 210.8L669.5 196.4L664.7 198.3L659.2 207.8L663.2 193.3L651.2 206.1L673.2 207.1L664.4 204.8L663.6 210.6L664.8 201.8L656.9 201L662.8 204.8L651.1 201.3L675.5 202L670.8 207.6L676.5 205.5L652.4 205.7L676.2 216.2L667.8 200.6L667.6 193.3L671.6 185.1L658.4 184.8L674.8 187.7L673.1 182.5L663.5 178.1L662.3 171.5L662.7 165.4L662.3 182.3L657.6 187.6L674.4 189.2L665.6 187.3L652.6 167.6L443 228L436 219L432 218L604.7 231.7L401 171L414 167" fill="none" stroke="none" marker-start="url(#m37)" marker-mid="url(#m37)" marker-end="url(#m37)"/><defs><marker id="d39" markerUnits="userSpaceOnUse" markerWidth="7.0" markerHeight="7.0" refX="3.5" refY="3.5" overflow="visible"><circle cx="3.5" cy="3.5" r="2.5" fill="#DCAE36"/></marker></defs><path d="M407.1 200.3L403.6 200.1L435.8 203.3L406.6 203.8L425.6 206.7L408.7 198.3L417.4 203.5L433.6 202.7L428.2 203.8L417.3 195L437.7 210.7L429.7 204.7L433 197.3L405.1 203.2L415.8 196.1L413.7 212.4L431.1 194.1L412.8 208.6L427.7 198L423.9 210.9L403.4 211.8L414 197.2L420.6 202.5L408 197.9L429.1 198.6L405.7 202L422.2 210.1L427.3 206.1L435.7 205.3L424.3 205.3L423.8 176.7L424.7 180.1L428.7 179.5L416 176.1L418 172.3L422.5 163.5L434.5 173.6L420.7 173.7L436.4 165L420.1 178L439.9 178.6L420.9 167.9L416.6 164.9L417 171.7L463.2 185.3L447.4 188.2L466.4 188.2L473 189.4L446.7 184.3L456.5 191.3L447.8 188.9L460.5 191.6L469 193.3L461.4 189.8L456.4 186.4L462.7 186.2L447.1 189.7L454.4 186.7L461 187.3L448 187.6L453 190L457.9 186.7L452.7 187.9L443.1 188.4L445.7 186.8L440.6 184.8L446.3 187.2L454.9 191L447.8 189.6L466 189.2L467 189.5L452.5 188.7L467.7 189.5L464.1 186.6L469.1 193.5L472.9 190.6L464.6 190.8L445.7 181.3L462.3 192.5L463.7 189.8L472.3 189.1L472.7 188.6L467.8 188.3L465.6 188.9L472 191.3L466.1 187.1L469.7 189L466 187.8L442.6 181L456.2 183.4L448.2 181.6L447.4 185.4L445.7 186.7L449.2 184.9L456.4 188.4L455.6 183.7L462.7 189L445.7 185.9L440.2 184.9L450.2 187.5L443.1 185.6L454.3 182.9L457.7 184.7L469.1 189L446.4 184.4L461.8 189L464.1 190.3L473.7 192.2L451.5 190.2L455.7 185.6L440.2 185.9L460.4 185.6L472.2 188.8L460.1 189L454.7 186.1L461.6 188.9L451.6 185.1L457 187L451.3 189.7L462.4 192.6L446.4 187.8L460.8 187.2L457.4 190.1L458.4 185.9L448 90L479.9 191.4L476.6 165.8L486.6 184.8L489.6 177.7L480.6 198L480.1 187.8L476.5 176.8L483 180.6L475.7 193L491.4 188.9L491.1 211.3L494.4 209.9L482.9 195L481.9 194.1L484.6 211.4L492.6 197.5L487.7 198.5L490.7 196.8L476.3 204.2L494.3 201.8L484.5 210L486.4 207.5L485.7 200.5L483.5 203.4L476.9 198.2L477.2 206.2L498.6 142.9L497.4 145L504.8 135.2L490.9 146.5L494.2 148.8L496.3 138.2L490.9 142.6L501.2 134.8L503.9 134.7L499 147.7L490.7 147.1L504.5 138.7L501.7 136.4L503.1 148.7L496.4 134.3L490.4 139.5L487 165L489 160L494 154L480 178L531.3 212.9L539.8 208.6L530 206.4L530.5 191.3L536.3 197.6L514.3 212.2L536.6 190.5L526.9 188.8L536.7 196.3L524.2 205.3L533.7 189.2L529.4 197.3L519.9 209.6L532.4 206.3L517.8 197.6L526.6 200.7L525.3 209.3L515.7 191.1L526.5 202.4L537.7 195.2L542.7 192.5L524.1 196.1L514.7 194.1L522 193.4L516 206.4L519.2 210.8L520.7 188.9L514.9 209.5L522 180L526 180L563.3 207.2L558.6 193.1L558 196L569.4 208L568.1 204.3L555.2 196.1L544.2 206.4L574.8 202.2L555.6 193.3L563.8 193.2L560.2 189.8L571.7 207.1L567.9 206.5L575.7 196.9L545.2 201.6L558.9 193.5L552.9 198.7L573.3 192.7L563.7 195.8L572.3 197.2L576.7 186.6L576.5 192.8L570.5 195.4L553.7 206.2L564.7 188.9L564.9 197.5L577.3 197.3L564.5 201.2L544.4 195.9L576.2 197.7L552.7 190.9L555.1 196.2L553.7 197.5L549.5 187.2L546.3 194.7L550 191.6L550.8 194.2L567.2 185.4L566.8 153.3L577 158.7L580 169.4L578 166L572 183L588.2 206.1L579.5 208L581.7 195.6L609.7 204.4L586.6 197.9L589.6 200.6L579.3 204.2L592.9 206.2L582.2 192.4L606.1 202.5L591.1 202.3L579.7 194L583.5 208.4L608.7 207.2L599.3 209L588 195.1L608 205.5L604.8 203L600.7 189.5L588.4 196.1L606.9 194.8L599.2 202.4L592.8 196.7L588.7 197.6L595.3 192.7L606 194.1L591.7 189.7L588.2 202.4L598.4 205.5L600.3 195.6L611.3 205.1L603 207.1L604.8 198.1L611.4 198.3L592 192.8L584.5 198.8L603.3 196.9L603.4 193.4L585.9 150L581 169.4L584 169L590 176L612.5 212.9L618.4 201.8L625.3 194L615.3 203.8L629.9 195.5L634.4 210.7L623.4 204.1L638.1 189.9L637.6 206L640.1 187.8L645.1 201.4L628.4 200.5L641.1 192.7L616.6 188.2L624.4 187.1L634.4 193L634.7 194.2L620.1 196L614.9 199.6L618.1 200.1L617.4 191.8L632.4 207.5L632.9 190L628.6 206L635.6 209.2L637.8 211.2L619.2 198.7L630.3 187.5L613.4 192.1L622.7 207.8L619.9 202.7L628.8 208.9L616.1 190.9L616.7 194.4L623.3 194.8L625.4 190.1L613.6 191.5L640 202.9L639.7 141.5L632 180L666.5 214.5L666.9 200.6L662.5 207.1L670.6 214.4L669.2 208.4L662.4 204.3L660.8 198.8L663.3 204.5L674.2 216.9L650 210.1L656.5 212.3L674.8 216.8L655.2 204.3L663.3 212.8L648.9 206.9L663.5 213.8L672.4 210.9L666 206.7L669.3 207L658.7 211.8L671.5 216.6L665.6 210.3L649.5 216.8L648.6 214L648.2 209.4L658.6 213.9L648.5 208.8L665.2 204.9L657.2 215.4L673.7 212.6L660.5 158.7L661 161L648 182L652.6 186.6" fill="none" stroke="none" marker-start="url(#d39)" marker-mid="url(#d39)" marker-end="url(#d39)"/><path d="M440.2 17.8V239.2M474.4 17.8V239.2M509.2 17.8V239.2M543.5 17.8V239.2M578 17.8V239.2M612.3 17.8V239.2M646.9 17.8V239.2" stroke="#262626" stroke-width="1" stroke-opacity="0.7" fill="none"/><rect x="399.7" y="17.8" width="280.7" height="221.4" fill="none" stroke="#474747" stroke-width="1"/><path d="M399.7 225.8h2.5M680.4 225.8h-2.5M399.7 135h2.5M680.4 135h-2.5M399.7 44.1h2.5M680.4 44.1h-2.5" stroke="#474747" stroke-width="0.9" fill="none"/><path d="M399.7 234.6h1.5M680.4 234.6h-1.5M399.7 230h1.5M680.4 230h-1.5M399.7 198.5h1.5M680.4 198.5h-1.5M399.7 182.5h1.5M680.4 182.5h-1.5M399.7 171.1h1.5M680.4 171.1h-1.5M399.7 162.3h1.5M680.4 162.3h-1.5M399.7 155.1h1.5M680.4 155.1h-1.5M399.7 149h1.5M680.4 149h-1.5M399.7 143.8h1.5M680.4 143.8h-1.5M399.7 139.1h1.5M680.4 139.1h-1.5M399.7 107.6h1.5M680.4 107.6h-1.5M399.7 91.6h1.5M680.4 91.6h-1.5M399.7 80.3h1.5M680.4 80.3h-1.5M399.7 71.4h1.5M680.4 71.4h-1.5M399.7 64.3h1.5M680.4 64.3h-1.5M399.7 58.2h1.5M680.4 58.2h-1.5M399.7 52.9h1.5M680.4 52.9h-1.5M399.7 48.3h1.5M680.4 48.3h-1.5" stroke="#474747" stroke-width="0.7" fill="none"/><text x="421.7" y="254.9" font-size="11" text-anchor="middle" font-weight="normal" fill="#262626" >1</text><text x="457.3" y="254.9" font-size="11" text-anchor="middle" font-weight="normal" fill="#262626" >2</text><text x="492.9" y="254.9" font-size="11" text-anchor="middle" font-weight="normal" fill="#262626" >3</text><text x="526.9" y="254.9" font-size="11" text-anchor="middle" font-weight="normal" fill="#262626" >4</text><text x="563" y="254.9" font-size="11" text-anchor="middle" font-weight="normal" fill="#262626" >5</text><text x="597" y="254.9" font-size="11" text-anchor="middle" font-weight="normal" fill="#262626" >6</text><text x="630.3" y="254.9" font-size="11" text-anchor="middle" font-weight="normal" fill="#262626" >7</text><text x="663.3" y="254.9" font-size="11" text-anchor="middle" font-weight="normal" fill="#262626" >8</text><text x="395.4" y="231.7" font-size="11.8" text-anchor="end" fill="#262626">10<tspan dx="0.3" dy="-6" font-size="9">2</tspan></text><text x="395.4" y="140.9" font-size="11.8" text-anchor="end" fill="#262626">10<tspan dx="0.3" dy="-6" font-size="9">3</tspan></text><text x="395.4" y="50" font-size="11.8" text-anchor="end" fill="#262626">10<tspan dx="0.3" dy="-6" font-size="9">4</tspan></text><text x="539.5" y="11.2" font-size="12.2" text-anchor="middle" font-weight="bold" fill="#000" textLength="210.2" lengthAdjust="spacingAndGlyphs" >ECM: Variations in Memristances</text><text x="550.5" y="272.3" font-size="11.5" text-anchor="middle" font-weight="normal" fill="#262626" textLength="44.5" lengthAdjust="spacingAndGlyphs" >Device #</text><text x="370.1" y="128" font-size="13.3" text-anchor="middle" fill="#262626" textLength="88" lengthAdjust="spacingAndGlyphs" transform="rotate(-90 370.1 128)">Resistance (Ω)</text><text x="350.9" y="27.4" font-size="19.5" text-anchor="start" font-weight="normal" fill="#000" >b)</text><circle cx="495.8" cy="34.3" r="2.5" fill="none" stroke="#FF0000" stroke-width="0.9"/><text x="511.3" y="36.4" font-size="9.8" fill="#000"><tspan textLength="50.7" lengthAdjust="spacingAndGlyphs">Modeled R</tspan><tspan dy="4.6" font-size="8.2">on</tspan></text><circle cx="495.8" cy="51.8" r="2.5" fill="none" stroke="#00FFFF" stroke-width="0.9"/><text x="511.3" y="54.2" font-size="9.8" fill="#000"><tspan textLength="50.7" lengthAdjust="spacingAndGlyphs">Modeled R</tspan><tspan dy="4.6" font-size="8.2">off</tspan></text><circle cx="589.5" cy="34.1" r="2.3" fill="#DCAE36"/><text x="604.8" y="36.4" font-size="9.8" fill="#000"><tspan textLength="56.3" lengthAdjust="spacingAndGlyphs">Measured R</tspan><tspan dy="4.6" font-size="8.2">on</tspan></text><circle cx="589.5" cy="52.2" r="2.3" fill="#7E2F8E"/><text x="604.8" y="54.2" font-size="9.8" fill="#000"><tspan textLength="56.3" lengthAdjust="spacingAndGlyphs">Measured R</tspan><tspan dy="4.6" font-size="8.2">off</tspan></text><defs><marker id="m68" markerUnits="userSpaceOnUse" markerWidth="7.4" markerHeight="7.4" refX="3.7" refY="3.7" overflow="visible"><circle cx="3.7" cy="3.7" r="2.7" fill="none" stroke="#58F2F2" stroke-width="1.4"/></marker></defs><path d="M55.7 407.2L58.2 391.9L56.5 418.3L59.1 388L56.5 406.5L66.7 421.5L66.9 399.1L71.1 407.3L64.7 393.3L66.6 382.3L79.4 411.6L77.6 416.4L82.6 403.9L80.1 385L73.9 422.1L87.8 389.2L94 412.2L86.2 393.8L87.4 391.7L85.1 402.6L99.7 397L98.5 384.7L97 417.5L104.1 404.1L97.9 386.4L109.5 393.6L108.9 391.8L110.4 388.3L114.9 399.7L113.1 395.4L125.4 413.8L123.1 383L124.8 396.3L127.8 384.8L128.7 380.6L137.1 399.1L134.8 418.2L138.7 387L136.6 406.3L132 383.8L149.4 411.4L148 398.1L148.4 391.2L152.1 421.4L148.2 380.9L159 414.5L158.3 384.5L156.9 410.6L161.2 392.3L161.2 412.7L176.3 415.7L171 414.8L175.9 417.4L174.2 405.2L171.8 416.6L184.6 411L180.6 384L181 405.1L184.1 388.5L180.2 420.9L190.7 419.8L197.7 404.7L200 409.2L190.1 420.4L194.1 419.4L209.8 385.9L202.1 380.9L209.5 414L204 384.8L205.3 414.4L220.7 417.3L223 412.5L221.7 380.7L213.4 417.1L219.5 394.1L226.3 394.3L228.4 401.3L229.5 388.7L225.8 388.7L226.3 384.3L240.8 385.6L244.7 403.4L241.3 407.5L239 381L237.5 394.5L252 390.9L251.4 415.8L248.4 399.3L252.2 392.1L255.6 389.7L260.4 386.9L269.8 394.9L261.2 421.7L266.5 421.1L263.3 414.8L272.1 390.2L279.6 402.2L279.6 396.6L280.4 383.3L277.9 388.1L285.3 418L287.6 414.9L286.2 411.4L292.4 407L285.7 408.7L304.5 414.5L299.4 397.2L296 413L296.6 389.4L295.3 387.1L310.5 400.5L308.4 398.3L314.3 384.2L308 402.5L315.7 419.5" fill="none" stroke="none" marker-start="url(#m68)" marker-mid="url(#m68)" marker-end="url(#m68)"/><defs><marker id="d70" markerUnits="userSpaceOnUse" markerWidth="7.0" markerHeight="7.0" refX="3.5" refY="3.5" overflow="visible"><circle cx="3.5" cy="3.5" r="2.5" fill="#7E2F8E"/></marker></defs><path d="M59.2 393.8L63.6 404.9L63.9 399.2L56.5 399.9L62.4 404.9L58.1 398.9L55.5 399.3L58.8 396.2L57.6 404L54.4 395.8L55.4 403.3L55.4 402.9L64.4 403.5L62.6 395.1L57.5 402.8L54.5 400.1L63.5 404.2L56 394.2L51.4 396.6L58.9 396.1L62.9 400.7L59.9 402.9L55.7 400.7L56.1 396.3L52.7 402.4L64 393.1L61.3 393.5L57 396.6L64 398L58.4 397.1L54.7 395.7L51.9 392.9L58.9 401.8L60.7 395.9L51 414.8L71.5 417.2L69.4 384.8L66 385.9L64.4 388.5L67.7 385.1L64.4 387.9L65.6 385.8L65.1 385.9L67 385.8L67 384.8L66.6 387L77.1 402.2L84.1 400.8L78.2 397.7L80.6 398.5L75.4 400.1L75.8 400.7L82.2 396.8L80.7 397.9L77.3 401.3L84.5 398.7L82.1 398.9L84.2 397.8L81.1 397.2L79.9 401.4L83.9 401.5L79.8 399.2L80.7 400.8L80.5 401.2L82 402.6L80.6 402.2L81.9 399.1L82.6 399L86.5 382.5L87.1 382.5L85.4 382.4L82.1 382.5L96 420.7L89 422.4L96.2 420.1L88.2 419.7L92.5 422.7L89.4 422.5L87.3 420.1L92.4 422.4L91.9 422.1L90.5 420.8L92.2 419.2L88.9 420.7L93.6 420L89.3 423.4L112.1 407.1L114.9 410.3L115.6 408.7L111.3 403.9L107.3 406.9L103.5 406.7L117.1 405.2L100.5 406.3L101.7 403.1L117.7 408.5L98.6 408.4L101.8 407.9L118.4 413L106.6 411L108.6 403.7L106.6 411.2L114.8 410.3L119.3 406.8L113.2 411.3L118 411.9L116.9 406.4L106.2 409.3L100.6 406.1L106 405L102 409.6L104.7 403.5L115.2 412.6L102.8 410L99.8 405.2L101.6 409.5L110.1 411.4L112.2 410.7L116.9 408.9L102.9 404.6L116.5 411.4L111.9 412.7L115.5 407.1L102 407.3L137.6 389.2L121.7 377.4L129.4 389.5L136.9 388.5L122.8 380.1L135.1 383.2L127.2 390.2L121.9 383.8L137 386.7L137.1 380.9L131.4 390.4L123.9 383.1L138.8 379.5L135.1 387.3L126.1 390.6L135.2 379.1L138.8 389.1L129.9 377.7L135.2 385.1L134.5 378.4L129.9 388.1L134.3 379.6L127.3 383.4L129.6 390.6L137.8 377.3L132.4 379.1L136.6 384.4L137.2 389.5L137.9 379.6L122.7 387.7L129.7 387.7L129.3 382.9L134.4 382.2L130.2 382.6L133.3 378.3L129.6 385.1L147.4 397.9L143.6 398.5L147.6 392.6L145.9 392.3L147 388.9L150 392.3L139.1 389.5L143.2 391.3L149.3 392.5L150.3 391.5L143.2 398.4L149.6 398.2L140.4 389.3L147.5 392.1L140.3 389.6L143 391.8L147.2 398.8L141.1 396.8L154.4 408L159.3 408.4L148.7 406.9L156.6 404L147.5 407.1L154.8 407.1L156.4 406.9L147.6 408.6L158.9 403.7L156.8 408.6L152.4 403.6L154.5 407.3L152.2 406.6L158.8 403.9L170.2 415.7L165 418.6L161.9 416.3L159.9 416.6L161.7 416.8L159.3 417.6L158.9 416.2L162.9 418.9L159.8 415.9L168 417.6L157.3 419.2L158.6 417.8L159.2 418.6L161.4 417.7L168.3 418.1L160.4 416.4L177.7 405.6L180 394.4L168.6 392.8L181.6 397L180.7 403.9L184.2 408.4L182.3 395.2L183.1 402.1L168.2 413.8L171.6 408.8L167.8 403.5L175.6 403.8L182 399.8L183.4 396.6L184.4 399.7L179.4 415.6L179.4 413.7L169 416.5L168.2 409.3L181.9 411.6L180.2 407.6L184.8 398.2L183.4 412.5L170.9 404.1L175.1 396.4L182.4 413.7L191.2 401.3L191.1 414.2L191 414.2L193 410.9L191.2 405.2L191.4 405.3L187.2 405.5L187.6 401.4L186.2 404.8L186.8 401.1L191.1 412.7L187.8 411.1L192.2 401.2L189.8 409.3L193.9 409.9L204.4 405.4L199.9 409L191.9 409.6L199.7 402.5L195.3 405.5L192.7 409L197.8 409.8L206.8 408.6L192.8 401.8L201.5 410.4L201.4 403.2L204.4 404.5L200.8 404.4L206.8 406.3L192.8 406.7L197.7 400.9L199.2 402.1L206.8 401.5L200 398.9L196 406.8L199.3 406.9L216 414.9L210.1 416.8L217.4 411.2L220.9 412.1L213.1 415.1L222 412.1L210.9 414.2L218 413.9L218.5 417.2L206.6 413.5L220.1 416.1L223.1 413.1L210 415.2L220.7 416L215.3 411.8L218.3 412.6L205.9 411L211.7 413.4L215.5 413.8L214.9 415L208.8 416L217.8 416.1L264.2 410.7L283.7 412.4L242.8 415.4L237.5 406.9L283 409.4L234.7 415.8L266.5 403.2L248.5 407.8L243.8 413.3L240.2 404.1L285.3 411.2L257.9 415.7L272.6 415.2L247.8 407.3L247.6 409.7L265.1 405.8L264.4 416.4L277.4 403L257.9 412L227.7 417.2L280.1 410.9L260.8 412.1L252.1 411.2L260.1 407.9L257.5 403.7L267.6 406.3L242.8 405.1L277.5 409.4L265.3 410.3L265.9 408.1L242.4 413.9L275.7 405.1L234 408L280.7 407.4L240 409.1L259.6 411.9L246.7 408.7L294.3 413.8L239.5 410.2L234.7 417L242.4 416.2L239.3 406.1L248.3 407.6L248.4 408.6L253.1 404.5L268.7 412.9L239.8 404.8L226.3 405.5L260.8 411.9L291 414.7L235.2 406.6L237.8 403.9L225.8 410.7L292.2 417L225.5 406.5L249 415.3L231.1 409.2L286.3 414.2L236.7 410.4L272.5 404.7L285.5 412.7L250.1 407.7L230.2 415.9L237.5 411.4L273.8 411.6L280.8 406.9L271.6 406L274.5 413.8L257.1 413.4L272.3 403.1L239 405.9L273.3 414.8L240.3 416.2L237.9 409.1L284.6 407L285.2 403.5L244.7 415L270.7 404.7L258.9 410.5L225.9 416.3L225.6 416.3L273.6 412.4L250.3 406.4L259.1 416.6L230.7 409.8L267.1 416.9L274.2 416.6L273.9 409.2L290.8 403.5L277.3 403.1L230.2 403.6L256 414.4L280.8 411.9L250.2 407.1L256.3 407.7L260.6 412.2L230.4 416.3L233.1 415.5L224.9 403L292.6 407.6L251.8 414L229.6 411.6L285.9 409.9L225.5 405.1L286.5 405.7L274.4 412.1L279.2 412.2L262.3 414.5L275.4 406.2L229 411.4L264.9 412.5L244.7 417.1L266.6 408.9L236 405.5L243.3 412.8L253.3 414.6L246.6 415L293.3 412.5L280.8 407.1L256.7 408.4L252.5 416.9L247.6 416.8L276.2 406.8L254.8 409.1L256.7 416.5L269.3 410.1L265.6 407.8L233.1 408.5L281.6 414.3L226.2 412.1L278.7 412L292.2 407.3L235.7 408.7L225.5 415.2L255.6 412.4L259.8 410.5L250.8 414.2L286.2 417.2L264.3 409.6L264.5 416.7L247.5 403.1L259.9 415.3L234.1 407.9L268.7 412L247.5 413.8L282.9 413L286.2 404.9L253.4 408.8L244.5 409L290.5 413.6L237.4 412.9L270.4 406.5L248.4 404.8L256.2 413.5L248.9 407.4L241.3 416.9L241.7 409.3L240.3 410L279.7 415.4L265.3 416.3L244.5 412.8L250.2 406.6L252.2 405.9L268.7 405.2L274.6 413.5L225.3 408.4L270.5 412.2L268.1 403.1L277.2 404.9L225.1 413.7L254.9 405.7L233.9 408.4L271.1 403.4L260.9 409.4L286.2 409L235.6 411.4L230.3 404.3L288 411L249 406L234.1 408.9L299.7 387.6L300.3 376.8L300.5 375L300.6 376.8L297.5 376.5L303.4 370.9L301.6 387.3L301.5 378.1L304.3 383.3L298.9 369.2L304.8 377.9L298.7 369.3L297.7 383.5L301.6 372.2L303.2 384.5L296.3 381.2L298.8 376.6L298.4 379.6L296.3 387.9L296.9 388.4L307.9 392.9L310.4 404.8L311.2 405L311.5 386.8L311.5 385.8L312.7 387.8L309.9 387.4L311 404.8L313.2 397.5L316.2 393.3L314.5 384.8L313.1 401.6L311.3 386.9L317.1 400.6L310.9 386.9L311.6 394.4L310.3 402L313.4 401.1L313.1 403.7L314.2 394.8L312.7 402.1L314.1 395.9" fill="none" stroke="none" marker-start="url(#d70)" marker-mid="url(#d70)" marker-end="url(#d70)"/><defs><marker id="d72" markerUnits="userSpaceOnUse" markerWidth="7.0" markerHeight="7.0" refX="3.5" refY="3.5" overflow="visible"><circle cx="3.5" cy="3.5" r="2.5" fill="#DCAE36"/></marker></defs><path d="M53.1 481.1L59.5 483.3L56.1 467L51.7 469.7L57.3 467.9L60.1 466.7L62.6 465.9L53.3 465.2L60.9 481.1L59.7 467.7L61.6 477.3L54.2 481.5L60.6 468.3L57.7 462.9L52.4 464.4L61.3 472.1L58.6 481.9L54.6 465.6L54.3 482.3L55.1 463.6L51.9 470.7L62.2 467.4L72.6 459L73.9 462L69.1 458.5L71 459.5L70.5 466.4L67.8 458.9L72.4 465.8L73.2 459.2L69.9 465.6L71.3 466.5L79 463.1L84.2 465L80.1 461.6L85.2 460.4L79.1 462.3L79.4 457.9L86.4 460.5L86.2 464.5L79.2 458.5L84.5 458L87.6 466.2L97.4 477.9L97.4 470.4L89.3 472.6L86.7 467.9L97.9 479.3L91 468.1L94.1 478.1L93.5 472.6L94.8 475.3L90 469.7L92.3 471.7L98.9 467.6L86.6 472.9L98.7 478.7L88.2 479.5L110.1 478.7L103.4 478.3L105.8 480.7L103.1 480.3L106.3 478L107.5 477.8L105.6 478.3L102.4 480.8L109.1 480.5L102.3 478.2L114.1 456.4L107.9 455.4L106.5 456.5L105.1 457.6L107.1 455.3L115.1 453.7L108.6 456.7L111.6 457.8L118 463.6L117.7 462.2L117.8 465.9L111.1 465.5L114 461.5L112.2 462.4L118 466.1L116.4 462.9L113.4 462L120.1 472.7L125 477.1L125.9 478L124.3 476.3L124.8 475.2L126.1 468.2L119.8 469.7L122.9 472.6L120.1 475.2L124.8 471.3L127.1 470.3L122.3 479.3L123.2 451.2L122 451.9L125.4 451.9L125.2 453.1L125.2 454.6L139.8 455.3L141.5 463.4L140 465.2L140.8 457.4L136.2 462.7L137.4 464.1L136.5 463.2L135.9 458.7L138.6 460L135.8 459.9L136 458.5L135.9 461.5L133.4 459.1L138.8 459L153.2 475.8L150.4 478.6L149.2 479.3L154.1 486.5L147.4 484.4L151.8 479.4L148.2 475.5L150.2 473.3L153.9 485.9L154.8 472.3L147.8 487.1L151.4 475.4L152.6 480.9L152.6 485.7L146.4 486.7L150 499.5L148.9 492.9L148.6 481.8L151.9 491.4L146.1 483L148.1 496.7L151.4 496.6L177.3 455.9L169.9 452L173.1 454.3L169.3 458.3L167.7 451.9L169.1 454.6L174.7 452.1L169.3 456.3L176.7 454.4L176.7 455.3L177.2 465L173 465.9L184.6 468.4L181.8 470.2L183.4 465.4L172.1 462.9L180.3 464L182.3 469.8L171.7 469.8L174.4 467.1L183.4 463L172.8 464.9L183.2 470.3L176.7 463.7L183 465.2L179.4 470.9L202.3 463.6L198.8 461.9L197.1 460.9L201.1 467.7L185.6 457.8L199.9 466.6L197.9 460.6L190.4 463.7L186.2 458.1L203.5 462.1L198.6 457L186.6 466.4L187.8 461.9L198.3 460.4L192.6 462.7L198 455.9L192.7 464.6L198.5 458.4L196.9 460.7L186.8 456.7L202.8 464L191.7 460.3L189.9 455.3L191.2 459.6L194.1 455.9L202.9 460.9L185.3 463.9L187.5 464.3L217.3 468.4L216.6 475.8L216 459.2L218.2 472.2L215.5 468.3L219.6 459.1L220.6 464L217.8 463L220.1 470.2L217 464.1L220 463.6L215.5 457.2L220.8 476L220.3 478.8L230.3 494.8L232.3 490.8L229.6 491.2L229.2 490.9L229.4 495L226.5 492L233.8 494.1L226.3 494.3L229.2 493.2L244.1 476.2L247.5 475L239.6 467.5L241 464.2L240.6 466.1L248.2 472.7L247.1 478.3L246.9 474.6L241.7 467.9L242.3 476.5L241.1 471L246.2 464.1L244.8 463.1L240.7 473.6L253.3 489.1L252.9 488.6L255.3 484.4L258.2 483.2L254.4 485.6L246 485L254.2 488.7L249.9 488.5L247.5 488.4L257.7 487.4L248.1 484.8L244.3 488.1L269.2 455.4L262.1 458.3L269.2 456.6L260.8 457.9L263.2 456.6L262.5 458.1L267 454.6L267.6 455.5L268.6 455.6L266.2 457.2L276.6 463L276.8 462.8L281.4 463.3L273 463.7L277.4 464.1L277.6 462.8L272.9 464.7L278.9 463.5L275.2 464.2L286.9 491L285.5 486.1L287 487.5L286.5 481.3L286.3 495.4L287 494.9L293.4 458L295.3 459.2L297.5 459L302.4 468.5L294.4 463.6L301.9 468.3L294.6 457.7L287.4 453.2L295.3 454.6L294.8 466.5L292.3 460.8L302.7 459.9L300.4 468.2L292.1 456.4L299.7 460.5L291.2 457.4L297.9 458.3L298.3 457.1L291.6 457.6L300.5 455.4L289.8 453.9L298.3 466.8L310.3 483L314.7 475.5L312.3 481L313.8 479.3L309.5 476.8L316 473.1L310.7 472.6L309.4 473.6L310.2 469.1L312.1 474.6L314 472.8L317.3 471L312.6 470L312.4 473.9L238.2 462.6L230.6 474.3L221.8 464.1L202.3 467.5L213.5 474.6L242.8 462.9L259.8 482.5L244.9 468.9L255.8 471.7L298 470.7L197.1 473.4L254.5 467.9L259.5 477.9L239.7 464L195.3 467.3L257.8 457.7L290.6 472.3L220.1 470.1L266.2 470.9L228.9 479L270 482.8L232.5 472.2L201 465.7L277.9 481L283.1 462L222.9 474.4L288.5 463.4L207.5 464.8L226.5 462.3L200.5 463.5L285.9 477.3L277.3 471.8L248.1 467.9L225.2 461.9L192.4 470.8L232.3 466.8L291.1 457.7L202.6 477.2L239.5 472.9L257.9 477.4L167.5 475.7L141.7 470.3L75.7 472.8L124.9 474.5L67.1 478.3L172.6 459.8L174.8 477.8L56.7 464L121.2 476.4L163.3 460.4L161.4 475L59.7 477.9L95 459.6L148 472.9L182.9 461.3L77.2 463L175.1 475.7L181.6 475.9L181.9 475.7L120.9 474.2L115.9 475.6L55.9 462.7L75.7 474.4L52.8 469.4L177.3 473L150 461.1L114.4 457.9L114.7 458L95.2 468.7L149.8 463.3L153.2 469.1L141.2 473.5L185.2 475.7L180.4 475.3L155.8 475.9L76.7 466L116.6 479.1L169.4 475.2L109.8 475.1L143.9 470.1L81.9 477.2L59.2 468.3L139.4 472.4L104.4 463.1L95.2 474.6L177.8 478.2L107.6 468.9L71.7 462.4L62.9 471L96.6 460.8L106.9 467.6L61.6 479.4L68.2 470.4L185.3 459.2L79.4 475.5L166.4 472.3L159.2 472.3L159.4 462.8L162.2 478.2L85.7 473.5L202.9 463.6L317.5 469.1L219.9 473.7L276.2 472.7L289.1 458.3L219.6 465.4L192 460.9L278.8 461.7L233 462L297.8 459.4L301.9 472.9L213.7 466.2L250.2 468.9L274.4 470.7L194.6 470.8L220.2 466.9L199 476.6L194.5 456.3L201.7 455.7L191.8 476.8L250.4 466.1L311.4 454.1L277.7 462.8L280.5 466.8L299 472.5L314.7 460.7L312.1 468.9L198.2 477.9L234.9 461.3L243.2 471.8L253.2 464.2L306.2 463.5L230.1 470.9L298.1 460.1L302.6 456.3L296.4 469L263 469.9L259.2 459.2L234 456.1L237.9 475L221.3 477.5L271.7 465L275.4 466.8L312.9 459.4L309.3 468.3L271.2 474.4L190.6 476L201.2 462.3L212.7 458.8L208.2 475.1L49 489.7L233 445.3L244.3 443.9L255.5 443.9L261.7 443.9L258 443.9L175 452L179 470" fill="none" stroke="none" marker-start="url(#d72)" marker-mid="url(#d72)" marker-end="url(#d72)"/><defs><marker id="m74" markerUnits="userSpaceOnUse" markerWidth="7.2" markerHeight="7.2" refX="3.6" refY="3.6" overflow="visible"><circle cx="3.6" cy="3.6" r="2.6" fill="none" stroke="#FF2424" stroke-width="1.4"/></marker></defs><path d="M56.9 462.6L58.4 462.5L56.4 461.3L53.7 462.8L53 463.7L54.5 464.2L52.7 462.9L56.9 462.6L70.7 473.1L70.5 473.1L71 473.1L81 480.3L84.9 474L83.7 474L90.3 478.3L82.3 474.4L82.5 477.7L87 480.4L90.5 474.2L86.8 477.7L85.2 474L84.5 475L101.6 462.2L94.4 461.6L101.3 462L101.1 461.8L93.4 461.8L89.2 461.6L90.3 461.7L98.8 462L106.8 475.4L112 476.7L109.4 476.8L112 475.2L107.6 475.5L109.2 476.8L102.5 477.6L108.8 474.8L100.6 473.8L110.5 471.8L102.4 479.3L100.9 475.4L101.6 479.9L119.5 496L119.5 496L137.7 473.7L135.8 472.3L134.1 477.3L139.2 472.7L126.3 474.9L134.3 471.8L129 474.7L140.6 474.3L126.3 474.2L126.6 478.8L125.6 475.7L134.1 475.2L126.4 477L133.6 474.1L134.1 476.6L132 489.8L132 489.8L147.6 468.1L147.3 468L146.7 464.8L146.3 463L151.5 467.7L149.5 463.7L147.7 467.7L149.9 465.4L147.8 463.2L150.2 459.9L142.4 500L160.8 468.4L165 467.6L168.6 465.7L161.9 475.2L167.3 468.4L164.7 470.3L167.4 468L165 476.7L164.5 472.1L165.5 462L159.9 468.1L162.4 463.3L161.8 472.3L172.4 488.7L172.6 488.7L184.6 476.3L184.1 474.3L183.9 474.3L184.2 475.5L182 475.4L179.8 476.7L184.6 475.3L186 474.4L186.4 473.2L187.4 470.3L198.2 476.1L188.4 478.1L187.2 469.4L205.4 472.2L186.8 475.2L196.1 470.9L206.1 475.4L196.1 476.2L191.2 469.2L197.6 473L186.2 471.3L201.8 473.2L189 469.9L230 484.8L219.6 484.3L220.1 487L224 486.2L230.5 484.6L225.7 485.5L230.4 486.4L218.8 487.9L225.6 488.2L221 484.3L221.1 488.5L233.1 485.6L231 487.1L231.3 460.1L230.7 460.4L231.2 460.8L242 473.8L241.4 472.4L241.6 477.2L241.2 478.1L242.4 477.6L242.1 478.2L241.9 469.9L255.7 464.7L257.6 464.8L254.3 463.8L254.6 464.6L257.8 465.7L256.8 464.3L253.9 462.9L257.1 464.9L270.6 480.9L266.1 482.1L263.8 473.8L272.9 474.7L268 481.3L273.6 479.2L266.5 476.7L263.4 480.8L269.6 473.9L263.4 475.5L271.7 477.4L264.4 479.1L265.5 478.6L275.6 458.6L275.9 458.6L287.6 477.2L295.1 476.2L285.8 480L302.2 477.8L285.1 476L283.3 477.5L302.2 475.7L291.3 480.2L285.6 479.7L300.9 475.8L299.9 474L284.2 477.6L282.5 474.1L293.7 478.3L298.1 477.1L284 475.7L281.6 476L301.5 476.2L311.7 466.3L313.7 465L312.7 461.4L310.5 467.3L314.3 461.8L313.8 467L311.7 463.5L315.4 467.4L310.4 488.2L311.1 488.3L312.6 487.9L310.9 488.6L62 493L64.5 491L67 489L69.5 487L72 485L165 501L120 496L113.5 474.8L187.6 465L210.6 465.7L56 473.6L114.6 480.2L296.3 485.9L159.6 480.7L71.1 477.9L95.1 479.5L137 472.1L223.9 474.8L216.7 486.2L58.5 463.9L137.8 473.9L258.7 465.3L73.5 473.2L137 465.9L169.8 461.2L250 472.9L140.8 478.1L143 464.4L143.9 464.2L138.8 483L139.5 471.6L112.8 461.2L162.5 467.7L148.3 470L289.1 482.3L177.1 466.3L146.4 471.9L61 475.7L289.5 464.3L129.8 469.8L136 464.8L168.8 474.4L280.7 471.2L136.2 468.6L270.9 459.8L87.8 463.3L138 478.5L217.2 460.5L217.7 463.3L132.1 469.1L196.4 465.1L252.3 476.5L188.4 468.4L255.8 480.5L188 468.5L110.7 468.1L179.1 481.2" fill="none" stroke="none" marker-start="url(#m74)" marker-mid="url(#m74)" marker-end="url(#m74)"/><path d="M61.8 306.3V522.9M73.5 306.3V522.9M85.1 306.3V522.9M96.8 306.3V522.9M108.4 306.3V522.9M120 306.3V522.9M131.7 306.3V522.9M143.3 306.3V522.9M155 306.3V522.9M166.7 306.3V522.9M178.3 306.3V522.9M189.9 306.3V522.9M201.6 306.3V522.9M213.2 306.3V522.9M224.9 306.3V522.9M236.6 306.3V522.9M248.2 306.3V522.9M259.9 306.3V522.9M271.5 306.3V522.9M283.1 306.3V522.9M294.8 306.3V522.9M306.4 306.3V522.9" stroke="#262626" stroke-width="1" stroke-opacity="0.7" fill="none"/><rect x="47.7" y="306.3" width="275.5" height="216.6" fill="none" stroke="#474747" stroke-width="1"/><path d="M47.7 497.1h2.5M323.2 497.1h-2.5M47.7 444h2.5M323.2 444h-2.5M47.7 390.9h2.5M323.2 390.9h-2.5M47.7 337.7h2.5M323.2 337.7h-2.5" stroke="#474747" stroke-width="0.9" fill="none"/><text x="55.2" y="539.7" font-size="11" text-anchor="middle" font-weight="normal" fill="#262626" >1</text><text x="102.5" y="539.7" font-size="11" text-anchor="middle" font-weight="normal" fill="#262626" >5</text><text x="161.7" y="539.7" font-size="11" text-anchor="middle" font-weight="normal" fill="#262626" >10</text><text x="220" y="539.7" font-size="11" text-anchor="middle" font-weight="normal" fill="#262626" >15</text><text x="277.6" y="539.7" font-size="11" text-anchor="middle" font-weight="normal" fill="#262626" >20</text><text x="41.9" y="501.1" font-size="11" text-anchor="end" font-weight="normal" fill="#262626" >-0.5</text><text x="41.9" y="448" font-size="11" text-anchor="end" font-weight="normal" fill="#262626" >0</text><text x="41.9" y="394.9" font-size="11" text-anchor="end" font-weight="normal" fill="#262626" >0.5</text><text x="41.9" y="341.7" font-size="11" text-anchor="end" font-weight="normal" fill="#262626" >1</text><text x="185.2" y="299.7" font-size="12.2" text-anchor="middle" font-weight="bold" fill="#000" textLength="238" lengthAdjust="spacingAndGlyphs" >SDC: Variations in Threshold Voltages</text><text x="195.5" y="556.7" font-size="11.5" text-anchor="middle" font-weight="normal" fill="#262626" textLength="45" lengthAdjust="spacingAndGlyphs" >Device #</text><text x="17.1" y="415" font-size="13.3" text-anchor="middle" fill="#262626" textLength="66" lengthAdjust="spacingAndGlyphs" transform="rotate(-90 17.1 415)">Voltage (V)</text><text x="0.5" y="323" font-size="19.5" text-anchor="start" font-weight="normal" fill="#000" >c)</text><circle cx="142.3" cy="322.2" r="2.5" fill="none" stroke="#FF0000" stroke-width="0.9"/><text x="157.6" y="324.2" font-size="9.8" fill="#000"><tspan textLength="49.5" lengthAdjust="spacingAndGlyphs">Modeled v</tspan><tspan dy="4.6" font-size="8.2">on</tspan></text><circle cx="142.3" cy="340" r="2.5" fill="none" stroke="#00FFFF" stroke-width="0.9"/><text x="157.6" y="341.6" font-size="9.8" fill="#000"><tspan textLength="49.5" lengthAdjust="spacingAndGlyphs">Modeled v</tspan><tspan dy="4.6" font-size="8.2">off</tspan></text><circle cx="234" cy="322.2" r="2.3" fill="#DCAE36"/><text x="249.1" y="324.2" font-size="9.8" fill="#000"><tspan textLength="56" lengthAdjust="spacingAndGlyphs">Measured v</tspan><tspan dy="4.6" font-size="8.2">on</tspan></text><circle cx="234" cy="340" r="2.3" fill="#7E2F8E"/><text x="249.1" y="341.6" font-size="9.8" fill="#000"><tspan textLength="56" lengthAdjust="spacingAndGlyphs">Measured v</tspan><tspan dy="4.6" font-size="8.2">off</tspan></text><defs><marker id="m100" markerUnits="userSpaceOnUse" markerWidth="7.4" markerHeight="7.4" refX="3.7" refY="3.7" overflow="visible"><circle cx="3.7" cy="3.7" r="2.7" fill="none" stroke="#58F2F2" stroke-width="1.4"/></marker></defs><path d="M410 395.6L419.1 400.5L416.2 404L413.8 401.5L420.9 403L427.2 405.7L419.5 397L422.3 425.6L425.7 425.6L421 425.1L436.2 406.2L432.1 405.3L435.8 406.4L440 402L451.8 395L453.3 390.1L447.2 397L447 395.3L450.3 393.1L468.3 383.4L466 388.5L457.7 387.9L458.8 384.7L458.3 433.3L467.4 406L469.4 404.9L470.2 420.2L469.7 414.7L472.7 413.6L473.9 414L482.2 418.4L481.5 432L485.5 399.1L484.4 396.7L493.6 413L495.3 413.4L495.6 387.5L504.7 390L506 385.9L493.2 387.7L504.6 389.3L507.5 415.7L507.8 416.2L506.3 415.9L509.6 389.6L511.5 386L510.9 381.7L508.9 390.7L515.6 390.5L518.5 416.3L521.1 417.5L526.6 432.5L530.7 433.8L529.3 425.2L530.7 429.8L541.1 401.3L534 389L541.6 399.9L531.5 388.6L536.9 399.6L551.9 379.6L552.5 379.4L545 390L543.6 394.4L549.2 388.4L543.2 395.9L556.3 403.3L558.4 402.9L561 424L568 386.7L565.6 385.8L571 431L578 377L575 396L580 434L588.5 410.9L583.8 413.8L588.6 414.7L599.9 379.3L599.6 382L598.4 377.8L603 402.9L593.4 404.3L597.7 407.9L610 432L612.2 409.7L613.2 410.4L617 392L630.4 408.4L632.5 407.2L631.3 408.5L635.4 387.4L634.3 385.9L631.3 386.8L639.1 386.7L633 406.1L634 403.8L641 438L645 393L650 432L654.4 408.5L653.4 408.1L664.5 415.3L664 415.7L664.8 386.9L665.2 386L666.8 392.7L671.6 399.2" fill="none" stroke="none" marker-start="url(#m100)" marker-mid="url(#m100)" marker-end="url(#m100)"/><defs><marker id="d102" markerUnits="userSpaceOnUse" markerWidth="7.0" markerHeight="7.0" refX="3.5" refY="3.5" overflow="visible"><circle cx="3.5" cy="3.5" r="2.5" fill="#7E2F8E"/></marker></defs><path d="M415.7 375.2L423 367.7L412.7 364.7L411 364.3L411.6 374.6L425 378.2L415.2 372.4L420.2 370.8L410.3 381.3L419 366.4L412.5 405.9L414.4 406.1L419.7 393L426 425L433.4 413.9L429 408.9L429.9 407.4L436.4 413.1L432.8 407.3L437 412.5L436.1 409.5L438.7 411.7L447 392.1L443.6 390.8L449 394.4L444.7 396.6L449.4 384.2L442.8 387.1L441.4 395.6L447.6 392.2L463.7 375.6L454.3 370.7L456 385.3L459.2 369.7L457.1 369.5L459.4 370.9L454.1 381.3L461.9 380.9L456.3 400.4L456.2 394.2L456.2 400.8L458.9 396L473 390.4L467.5 392.5L467.3 378L469.8 390.9L470.6 385.8L469.5 381.6L467.7 383.5L482.1 439.4L476.4 428.2L486.8 434.7L476.4 431.3L483.3 438.9L476.5 438.7L482 373.5L479 401L492.9 399.6L498.7 390.8L493.5 395.6L491.1 403L493.1 393L499.4 397.2L494.3 394.4L497.6 402.5L491.3 415.2L499.7 414.5L498.4 413.6L499.9 414.7L507.7 439.7L509.9 411.5L514.9 409.1L510.8 410.9L509.9 409.5L514 428.6L517.7 379.2L522.3 382.7L520 375.5L527.3 382.6L524.4 383.4L523 397.2L523 397.4L526.8 395.3L536.7 411.9L528.3 411.7L534.2 415.9L538.1 412.2L532.7 416.4L540.5 423.6L536.9 421.8L536.3 421.8L541.2 399.7L542.6 387L539.9 392.6L543.5 446L543.5 403L544.2 401.1L540.4 400.7L544 421.1L540.6 423.5L542 386.5L544.9 443.6L545.2 444.9L546.5 422.5L557.3 424.1L546.2 427.6L549.7 421.6L564.9 404.9L559.8 405.9L568.8 397.5L562.6 389.9L564.1 396.4L565.1 407L560.1 404.9L569.9 393.6L558 389L582.8 397.8L573.7 399.6L571.7 414.5L576.1 403.6L583.1 397.4L567.8 412L576.5 413.3L575.5 415.6L585.1 397.3L592.9 401.6L580.9 394.2L580.7 404.3L589.4 395.7L591.7 405L597.8 429.8L595.1 430.9L594.4 433.2L597.3 430.7L602 433.7L595.8 450L599.5 380L604.4 399.3L605.1 398.8L611.5 405L602.9 404.5L610.1 394.6L604.2 394.4L617.5 389.8L611.6 388.2L613.2 391.6L615.2 390L614.3 385.9L621 373L631 420.6L624 405.9L635.1 424L633.2 430.7L626.7 424.5L626.4 420.9L637.8 417.1L632.4 431.4L630 447.5L643.5 395L640.1 391.9L638.4 390.5L656.2 416.7L653 413.6L654 418.2L654.5 416L655.2 416.8L642.8 420.1L645.3 420.3L649.3 415.2L660 425L660 425L660.6 404.4L663.2 390.2L663.7 400.1L666 404.6L663.2 405.3L666 416L672 428" fill="none" stroke="none" marker-start="url(#d102)" marker-mid="url(#d102)" marker-end="url(#d102)"/><defs><marker id="m104" markerUnits="userSpaceOnUse" markerWidth="7.2" markerHeight="7.2" refX="3.6" refY="3.6" overflow="visible"><circle cx="3.6" cy="3.6" r="2.6" fill="none" stroke="#FF2424" stroke-width="1.4"/></marker></defs><path d="M424.2 469.6L423.7 481L416.8 468.4L421 468.2L423.2 478.5L414.7 479.8L414.6 478.6L431.3 473.5L429.5 468.9L432.2 475.5L436.4 466.1L445.8 471.7L450.8 469.6L442.9 471.3L452.1 462.8L452.4 461.2L450 481L457.1 470.5L468.4 471L464.4 470.5L470.3 468.8L466 468L483 476.8L478.1 472.4L475.7 476.8L474.4 466.3L479.3 473.5L492 461L492.9 484.4L490.3 487.4L491.9 484.2L499.3 475.6L498.1 479.2L499.8 478.6L505 480.1L524.5 467.1L533.6 475L515.2 473.8L518.8 481L531.2 478.4L533.4 475.6L540.1 467.5L524.7 476.3L541.4 467.4L541.1 466L543.9 464.5L547.8 482.4L549.3 480.5L556.9 465.2L559.9 467.6L556.3 467.1L564.1 474.2L565.4 475.8L560.1 474.3L563.1 476L554 484L577.9 483L576.7 482.3L578.8 484.6L587.3 471.1L589.6 469.8L590.8 469.1L609.5 466.5L610.7 468.7L607.3 465L621.6 477.9L613.5 479.8L623.6 481.4L622.4 482.7L627.7 462.5L630 463.8L632 476L635 490L650.8 474.4L643.2 476.6L641.1 479.5L640.6 478L670.7 464.2L675.9 468.6L671.9 469.8L668.9 466.5L670 483" fill="none" stroke="none" marker-start="url(#m104)" marker-mid="url(#m104)" marker-end="url(#m104)"/><defs><marker id="d106" markerUnits="userSpaceOnUse" markerWidth="7.0" markerHeight="7.0" refX="3.5" refY="3.5" overflow="visible"><circle cx="3.5" cy="3.5" r="2.5" fill="#DCAE36"/></marker></defs><path d="M414.2 461.7L422.2 462.9L422.1 466.1L409.8 465.7L413.9 465.5L437.8 468.1L438.2 466.1L440.4 471.9L442 470.4L436.3 468.4L427.5 465.4L436.7 476.4L430.5 465.6L423.5 467.3L437.1 468.5L431.4 475.1L435.8 465.4L471.4 483.2L447.3 474.1L470 477.3L458.2 477.5L465.4 479.5L463.3 486.2L445.7 478.7L465.1 485.2L469.2 479L463.4 481.5L469 475.8L444.7 475.9L452.2 483.7L461.5 477.5L443.7 479.1L472.6 474.7L470.7 479L461.3 478.5L471.8 484.8L463.2 480.6L523.9 464.2L526.1 471.5L498.5 466.7L519.4 467.4L544 468L517.6 462.6L509.5 471.2L525.9 469.8L540.6 471.4L539.1 472.3L540.5 469.2L520.5 462.1L541.4 466.8L510 465.6L532.3 470L509.4 463.4L515 463L525 470.9L514.9 463.3L541.6 463.6L504.1 467.3L528.6 465.5L554.3 464.8L662 472.2L572.2 469.2L649.5 470.6L539.2 461.8L549.5 467.7L566.2 471.6L572.6 466.4L556.7 471.4L569.3 464.5L580.2 463.7L549.5 470.3L550.1 464.8L540.9 467.6L609.1 471.6L541.5 472L555.5 465.4L667.9 471L666.2 463.4L558.8 465.4L584.8 468.1L543.6 467.9L538 465L615.6 464.4L639.5 469.8L625.8 466.4L595.9 467.1L656.3 472.5L568.5 470.9L644.5 467.4L600.8 469.9L676.3 467.2L541.3 468.1L565.5 462.7L620 464.5L647.8 465.9L660 462.2L673.5 469L543.4 464.5L669.7 470.4L546 470.2L598.2 466.3L651.3 463.3L626.7 464.8L659.1 471.7L669.5 463.5L547.8 466.3L555.8 464L486.2 507.6L486.8 508L490.6 508L487.9 507L495.1 507.4L488 506.7L476.5 506.5L477.3 506.9L482.4 507.6L482.9 507.1L484 507.4L492.7 508L479.4 507.1L409.7 489.5L413 507.3L416.5 507.3L420 507.3L449.3 507.3L496 501.3L525.5 507.3L628 479.4L544 507.3L548 507.3L552 507.3L582 507.3L601.5 505L641.5 505L664 501.5L670.5 507" fill="none" stroke="none" marker-start="url(#d106)" marker-mid="url(#d106)" marker-end="url(#d106)"/><path d="M441.4 303.4V524.3M474.4 303.4V524.3M507.5 303.4V524.3M540.9 303.4V524.3M573.8 303.4V524.3M607.1 303.4V524.3M640.1 303.4V524.3" stroke="#262626" stroke-width="1" stroke-opacity="0.7" fill="none"/><rect x="400.6" y="303.4" width="280.2" height="220.9" fill="none" stroke="#474747" stroke-width="1"/><path d="M400.6 524.4h2.5M680.8 524.4h-2.5M400.6 490.4h2.5M680.8 490.4h-2.5M400.6 456.4h2.5M680.8 456.4h-2.5M400.6 422.4h2.5M680.8 422.4h-2.5M400.6 388.4h2.5M680.8 388.4h-2.5M400.6 354.4h2.5M680.8 354.4h-2.5M400.6 320.4h2.5M680.8 320.4h-2.5" stroke="#474747" stroke-width="0.9" fill="none"/><text x="421" y="539.2" font-size="11" text-anchor="middle" font-weight="normal" fill="#262626" >1</text><text x="460.2" y="539.2" font-size="11" text-anchor="middle" font-weight="normal" fill="#262626" >2</text><text x="492.4" y="539.2" font-size="11" text-anchor="middle" font-weight="normal" fill="#262626" >3</text><text x="526" y="539.2" font-size="11" text-anchor="middle" font-weight="normal" fill="#262626" >4</text><text x="559.4" y="539.2" font-size="11" text-anchor="middle" font-weight="normal" fill="#262626" >5</text><text x="593.4" y="539.2" font-size="11" text-anchor="middle" font-weight="normal" fill="#262626" >6</text><text x="626.9" y="539.2" font-size="11" text-anchor="middle" font-weight="normal" fill="#262626" >7</text><text x="662.4" y="539.2" font-size="11" text-anchor="middle" font-weight="normal" fill="#262626" >8</text><text x="396" y="528.6" font-size="11" text-anchor="end" font-weight="normal" fill="#262626" >-2</text><text x="396" y="494.6" font-size="11" text-anchor="end" font-weight="normal" fill="#262626" >-1</text><text x="396" y="460.6" font-size="11" text-anchor="end" font-weight="normal" fill="#262626" >0</text><text x="396" y="426.6" font-size="11" text-anchor="end" font-weight="normal" fill="#262626" >1</text><text x="396" y="392.6" font-size="11" text-anchor="end" font-weight="normal" fill="#262626" >2</text><text x="396" y="358.6" font-size="11" text-anchor="end" font-weight="normal" fill="#262626" >3</text><text x="396" y="324.6" font-size="11" text-anchor="end" font-weight="normal" fill="#262626" >4</text><text x="540" y="296.3" font-size="12.2" text-anchor="middle" font-weight="bold" fill="#000" textLength="245.6" lengthAdjust="spacingAndGlyphs" >ECM: Variations in Threshold Voltages</text><text x="549.9" y="556.6" font-size="11.5" text-anchor="middle" font-weight="normal" fill="#262626" textLength="45" lengthAdjust="spacingAndGlyphs" >Device #</text><text x="379.8" y="414.2" font-size="13.3" text-anchor="middle" fill="#262626" textLength="66.5" lengthAdjust="spacingAndGlyphs" transform="rotate(-90 379.8 414.2)">Voltage (V)</text><text x="351.1" y="323" font-size="19.5" text-anchor="start" font-weight="normal" fill="#000" >d)</text><circle cx="496.7" cy="319.6" r="2.5" fill="none" stroke="#FF0000" stroke-width="0.9"/><text x="511.9" y="321.8" font-size="9.8" fill="#000"><tspan textLength="49.5" lengthAdjust="spacingAndGlyphs">Modeled v</tspan><tspan dy="4.6" font-size="8.2">on</tspan></text><circle cx="496.7" cy="337.1" r="2.5" fill="none" stroke="#00FFFF" stroke-width="0.9"/><text x="511.9" y="339.3" font-size="9.8" fill="#000"><tspan textLength="49.5" lengthAdjust="spacingAndGlyphs">Modeled v</tspan><tspan dy="4.6" font-size="8.2">off</tspan></text><circle cx="589.5" cy="319.6" r="2.3" fill="#DCAE36"/><text x="604.7" y="321.8" font-size="9.8" fill="#000"><tspan textLength="56" lengthAdjust="spacingAndGlyphs">Measured v</tspan><tspan dy="4.6" font-size="8.2">on</tspan></text><circle cx="589.5" cy="337.7" r="2.3" fill="#7E2F8E"/><text x="604.7" y="339.3" font-size="9.8" fill="#000"><tspan textLength="56" lengthAdjust="spacingAndGlyphs">Measured v</tspan><tspan dy="4.6" font-size="8.2">off</tspan></text><defs><marker id="m138" markerUnits="userSpaceOnUse" markerWidth="6.0" markerHeight="6.0" refX="3.0" refY="3.0" overflow="visible"><circle cx="3.0" cy="3.0" r="2.0" fill="none" stroke="#2F85C8" stroke-width="0.9"/></marker></defs><path d="M53.3 606.5L54.2 607.3L55.1 608.1L56 608.9L56.9 609.6L57.8 610.2L58.6 610.8L59.5 611.3L60.4 611.8L61.3 612.2L62.2 612.7L63.1 613L64 613.4L64.9 613.7L65.8 614L66.6 614.3L67.5 614.5L68.4 614.8L69.3 615L70.2 615.2L71.1 615.4L72 615.5L72.9 615.7L73.8 615.8L74.7 615.9L75.5 616.1L76.4 616.2L77.3 616.3L78.2 616.4L79.1 616.5L80 616.5L80.9 616.6L81.8 616.7L82.7 616.7L83.6 616.8L84.5 616.8L85.3 616.9L86.2 616.9L87.1 617L88 617L88.9 617L89.8 617.1L90.7 617.1L91.6 617.1L92.5 617.2L93.3 617.2L94.2 617.2L95.1 617.2L96 617.2L96.9 617.2L97.8 617.3L98.7 617.3L99.6 617.3L100.5 617.3L101.4 617.3L102.2 617.3L103.1 617.3L104 617.3L104.9 617.3L105.8 617.4L106.7 617.4L107.6 617.4L108.5 617.4L109.4 617.4L110.3 617.4L111.2 617.4L112 617.4L112.9 617.4L113.8 617.4L114.7 617.4L115.6 617.4L116.5 617.4L117.4 617.4L118.3 617.4L119.2 617.4L120 617.4L120.9 617.4L121.8 617.4L122.7 617.4L123.6 617.4L124.5 617.4L125.4 617.4L126.3 617.4L127.2 617.4L128.1 617.4L128.9 617.4L129.8 617.4L130.7 617.4L131.6 617.4L132.5 617.4L133.4 617.4L134.3 617.4L135.2 617.4L136.1 617.4L137 617.4L137.8 617.4L138.7 617.4L139.6 617.4L140.5 617.4L141.4 617.4L142.3 617.4L143.2 779.7L144.1 778.9L145 778.1L145.9 777.5L146.8 776.9L147.6 776.5L148.5 776.1L149.4 775.7L150.3 775.4L151.2 775.1L152.1 774.9L153 774.7L153.9 774.5L154.8 774.4L155.7 774.2L156.5 774.1L157.4 774L158.3 773.9L159.2 773.8L160.1 773.8L161 773.7L161.9 773.7L162.8 773.6L163.7 773.6L164.6 773.6L165.4 773.5L166.3 773.5L167.2 773.5L168.1 773.5L169 773.5L169.9 773.4L170.8 773.4L171.7 773.4L172.6 773.4L173.4 773.4L174.3 773.4L175.2 773.4L176.1 773.4L177 773.4L177.9 773.4L178.8 773.4L179.7 773.4L180.6 773.4L181.5 773.4L182.4 773.4L183.2 773.4L184.1 773.4L185 773.4L185.9 773.4L186.8 773.4L187.7 773.4L188.6 773.4L189.5 773.4L190.4 773.4L191.2 773.4L192.1 773.4L193 773.4L193.9 773.4L194.8 773.4L195.7 773.4L196.6 773.4L197.5 773.4L198.4 773.4L199.3 773.4L200.1 773.4L201 773.4L201.9 773.4L202.8 773.4L203.7 773.4L204.6 773.4L205.5 773.4L206.4 773.4L207.3 773.4L208.2 773.4L209.1 773.4L209.9 773.4L210.8 773.4L211.7 773.4L212.6 773.4L213.5 773.4L214.4 773.4L215.3 773.4L216.2 773.4L217.1 773.4L217.9 773.4L218.8 773.4L219.7 773.4L220.6 773.4L221.5 773.4L222.4 773.4L223.3 773.4L224.2 773.4L225.1 773.4L226 773.4L226.9 773.4L227.7 773.4L228.6 773.4L229.5 773.4L230.4 773.4L231.3 773.4L232.2 781.6L233.1 780.9L234 780.1L234.9 779.5L235.8 778.9L236.6 778.4L237.5 777.9L238.4 777.5L239.3 777.1L240.2 776.7L241.1 776.4L242 776.1L242.9 775.9L243.8 775.6L244.6 775.4L245.5 775.2L246.4 775L247.3 774.9L248.2 774.7L249.1 774.6L250 774.5L250.9 774.4L251.8 774.3L252.7 774.2L253.6 774.1L254.4 774L255.3 774L256.2 773.9L257.1 773.9L258 773.8L258.9 773.8L259.8 773.7L260.7 773.7L261.6 773.7L262.4 773.6L263.3 773.6L264.2 773.6L265.1 773.6L266 773.5L266.9 773.5L267.8 773.5L268.7 773.5L269.6 773.5L270.5 773.5L271.4 773.5L272.2 773.5L273.1 773.4L274 773.4L274.9 773.4L275.8 773.4L276.7 773.4L277.6 773.4L278.5 773.4L279.4 773.4L280.2 773.4L281.1 773.4L282 773.4L282.9 773.4L283.8 773.4L284.7 773.4L285.6 773.4L286.5 773.4L287.4 773.4L288.3 773.4L289.1 773.4L290 773.4L290.9 773.4L291.8 773.4L292.7 773.4L293.6 773.4L294.5 773.4L295.4 773.4L296.3 773.4L297.2 773.4L298.1 773.4L298.9 773.4L299.8 773.4L300.7 773.4L301.6 773.4L302.5 773.4L303.4 773.4L304.3 773.4L305.2 773.4L306.1 773.4L306.9 773.4L307.8 773.4L308.7 773.4L309.6 773.4L310.5 773.4L311.4 773.4L312.3 773.4L313.2 773.4L314.1 773.4L315 773.4L315.9 773.4L316.7 773.4L317.6 773.4L318.5 773.4L319.4 773.4L320.3 773.4" fill="none" stroke="none" marker-start="url(#m138)" marker-mid="url(#m138)" marker-end="url(#m138)"/><defs><marker id="m140" markerUnits="userSpaceOnUse" markerWidth="7.2" markerHeight="7.2" refX="3.6" refY="3.6" overflow="visible"><circle cx="3.6" cy="3.6" r="2.6" fill="none" stroke="#D95319" stroke-width="0.8"/></marker></defs><path d="M53.3 602.3L54.7 604.8L56.1 606.5L57.6 607L59 608.5L60.4 612.6L61.8 611.8L63.3 610.7L64.7 613.1L66.1 616.6L67.5 614.3L69 615.3L70.4 615.2L71.8 613.4L73.2 614.9L74.7 616.3L76.1 616.9L77.5 615.6L78.9 615.5L80.4 615.7L81.8 615.2L83.2 613.4L84.6 618.2L86.1 616.9L87.5 614.8L88.9 615.5L90.3 618.3L91.7 616L93.2 615.2L94.6 613.7L96 617.1L97.4 615.4L98.9 615.8L100.3 616.7L101.7 615L103.1 616.7L104.6 616.8L106 615.4L107.4 618.9L108.8 615.6L110.3 615.9L111.7 614.4L113.1 617.4L114.5 615.8L116 614.7L117.4 614.6L118.8 617.6L120.2 615.4L121.7 616.8L123.1 616.7L124.5 615L125.9 619L127.3 616.3L128.8 613.6L130.2 616.6L131.6 617.4L133 616.3L134.5 615.7L135.9 617.6L137.3 615.4L138.7 617.9L140.2 616.1L141.6 617L143 780L144.4 779.6L145.9 778.5L147.3 780.4L148.7 779.7L150.1 780.2L151.6 776.9L153 779.2L154.4 781.3L155.8 780.3L157.3 778.8L158.7 780L160.1 780.9L161.5 779.7L162.9 779.7L164.4 779.7L165.8 780.2L167.2 780.1L168.6 778.3L170.1 778.4L171.5 779.7L172.9 779.8L174.3 779.9L175.8 778.6L177.2 779.6L178.6 780.8L180 779.6L181.5 779.6L182.9 780.3L184.3 779.2L185.7 779.2L187.2 777.7L188.6 778.6L190 778.7L191.4 778L192.9 778.6L194.3 776.5L195.7 776.6L197.1 775.4L198.5 774.5L200 772.8L201.4 773.9L202.8 772.6L204.2 773.5L205.7 773.5L207.1 771.7L208.5 772.7L209.9 770.3L211.4 770.7L212.8 770.9L214.2 769.2L215.6 769.5L217.1 768.1L218.5 770L219.9 768.6L221.3 768.5L222.8 770L224.2 767.9L225.6 769.3L227 770.5L228.5 770.7L229.9 771.3L231.3 773.6L232.7 780.2L234.1 779.9L235.6 777.7L237 774.6L238.4 777.8L239.8 774.1L241.3 774L242.7 775.2L244.1 776.6L245.5 773.8L247 774.8L248.4 775.7L249.8 773.2L251.2 773.5L252.7 774L254.1 774L255.5 776L256.9 772.3L258.4 773.9L259.8 774.5L261.2 772.6L262.6 772.4L264.1 774.2L265.5 774.1L266.9 777.1L268.3 773.8L269.7 774.3L271.2 774.6L272.6 772.2L274 772.9L275.4 770.4L276.9 773L278.3 775L279.7 773.6L281.1 773.5L282.6 773.7L284 772.6L285.4 775L286.8 771L288.3 772.2L289.7 771L291.1 776L292.5 771.2L294 771.9L295.4 773.2L296.8 774.2L298.2 771.8L299.7 772.5L301.1 772L302.5 772.8L303.9 773L305.3 774.5L306.8 774L308.2 772.3L309.6 773L311 773.1L312.5 775.4L313.9 774.2L315.3 772.8L316.7 773.4L318.2 774.1L319.6 771.3" fill="none" stroke="none" marker-start="url(#m140)" marker-mid="url(#m140)" marker-end="url(#m140)"/><rect x="53.3" y="590.4" width="274.9" height="209.1" fill="none" stroke="#474747" stroke-width="1"/><path d="M53.3 799.5h2.7M328.2 799.5h-2.7M53.3 773.4h2.7M328.2 773.4h-2.7M53.3 747.2h2.7M328.2 747.2h-2.7M53.3 721.1h2.7M328.2 721.1h-2.7M53.3 694.9h2.7M328.2 694.9h-2.7M53.3 668.8h2.7M328.2 668.8h-2.7M53.3 642.7h2.7M328.2 642.7h-2.7M53.3 616.5h2.7M328.2 616.5h-2.7M53.3 590.4h2.7M328.2 590.4h-2.7" stroke="#474747" stroke-width="0.9" fill="none"/><path d="M53.3 799.5v-2.7M53.3 590.4v2.7M142.3 799.5v-2.7M142.3 590.4v2.7M231.3 799.5v-2.7M231.3 590.4v2.7M320.3 799.5v-2.7M320.3 590.4v2.7" stroke="#474747" stroke-width="0.9" fill="none"/><text x="53.1" y="815.8" font-size="12" text-anchor="middle" font-weight="normal" fill="#262626" >0</text><text x="142.2" y="815.8" font-size="12" text-anchor="middle" font-weight="normal" fill="#262626" >50</text><text x="231" y="815.8" font-size="12" text-anchor="middle" font-weight="normal" fill="#262626" >100</text><text x="319.9" y="815.8" font-size="12" text-anchor="middle" font-weight="normal" fill="#262626" >150</text><text x="49.2" y="804.1" font-size="12" text-anchor="end" font-weight="normal" fill="#262626" >20</text><text x="49.2" y="778" font-size="12" text-anchor="end" font-weight="normal" fill="#262626" >40</text><text x="49.2" y="751.8" font-size="12" text-anchor="end" font-weight="normal" fill="#262626" >60</text><text x="49.2" y="725.7" font-size="12" text-anchor="end" font-weight="normal" fill="#262626" >80</text><text x="49.2" y="699.5" font-size="12" text-anchor="end" font-weight="normal" fill="#262626" >100</text><text x="49.2" y="673.4" font-size="12" text-anchor="end" font-weight="normal" fill="#262626" >120</text><text x="49.2" y="647.3" font-size="12" text-anchor="end" font-weight="normal" fill="#262626" >140</text><text x="49.2" y="621.1" font-size="12" text-anchor="end" font-weight="normal" fill="#262626" >160</text><text x="49.2" y="595" font-size="12" text-anchor="end" font-weight="normal" fill="#262626" >180</text><text x="188.9" y="584.7" font-size="12.9" text-anchor="middle" font-weight="bold" fill="#000" textLength="190.3" lengthAdjust="spacingAndGlyphs" >SDC: Average Resistance Drift</text><text x="190.9" y="833.5" font-size="13" text-anchor="middle" font-weight="normal" fill="#262626" textLength="47.3" lengthAdjust="spacingAndGlyphs" >Time (s)</text><text x="21.9" y="694.4" font-size="13.5" text-anchor="middle" fill="#262626" textLength="97.8" lengthAdjust="spacingAndGlyphs" transform="rotate(-90 21.9 694.4)">Resistance (KΩ)</text><text x="0.5" y="602" font-size="19.5" text-anchor="start" font-weight="normal" fill="#000" >e)</text><circle cx="228.2" cy="605.4" r="2.5" fill="none" stroke="#0072BD" stroke-width="0.9"/><text x="243.6" y="610.3" font-size="12" fill="#000" textLength="68.6" lengthAdjust="spacingAndGlyphs">Modeled drift</text><circle cx="228.2" cy="620.4" r="2.5" fill="none" stroke="#D95319" stroke-width="0.9"/><text x="243.6" y="625.2" font-size="12" fill="#000" textLength="75" lengthAdjust="spacingAndGlyphs">Measured drift</text><defs><marker id="m166" markerUnits="userSpaceOnUse" markerWidth="6.6" markerHeight="6.6" refX="3.3" refY="3.3" overflow="visible"><circle cx="3.3" cy="3.3" r="2.3" fill="none" stroke="#D95319" stroke-width="1.0"/></marker></defs><path d="M412.6 617.1L413.2 617.1L413.9 617.1L414.5 616.5L415.2 616.8L415.8 615.9L416.5 617.1L417.1 616.6L417.8 615.8L418.4 616.3L419 616.2L419.7 615.8L420.3 615.7L421 615.8L421.6 615.7L422.3 615.2L422.9 615.4L423.6 615.6L424.2 615.6L424.8 615L425.5 614.3L426.1 615.7L426.8 615.3L427.4 614.1L428.1 614.7L428.7 615.1L429.4 614.2L430 614.4L430.6 614.5L431.3 613.8L431.9 614.2L432.6 613.8L433.2 613.7L433.9 613.1L434.5 613.1L435.2 613.9L435.8 613.6L436.4 614.1L437.1 613.8L437.7 613.2L438.4 613.3L439 613.4L439.7 613.8L440.3 613.3L441 613.6L441.6 613.6L442.2 612.6L442.9 612.7L443.5 613.5L444.2 612.8L444.8 613.2L445.5 612.7L446.1 612L446.8 613.3L447.4 612.4L448 611.9L448.7 612.4L449.3 613.3L450 612.8L450.6 611.7L451.3 612.9L451.9 612.7L452.6 612L453.2 612.3L453.8 612.2L454.5 612L455.1 612L455.8 612.5L456.4 612.1L457.1 612.5L457.7 611.8L458.4 611.8L459 611.9L459.6 611.8L460.3 612.3L460.9 612.5L461.6 611.7L462.2 611.3L462.9 612L463.5 611.8L464.2 611.3L464.8 611.4L465.4 611.1L466.1 612.1L466.7 611.8L467.4 611.7L468 611.6L468.7 611.7L469.3 611.5L470 611.7L470.6 611L471.2 611.5L471.9 611.4L472.5 611.2L473.2 611.4L473.8 610.7L474.5 611.3L475.1 611.1L475.8 611.2L476.4 611.4L477.1 611L477.7 610.9L478.3 610.9L479 610.9L479.6 611L480.3 611L480.9 610.7L481.6 610.7L482.2 610.3L482.9 611.3L483.5 611.1L484.1 611L484.8 610.6L485.4 611L486.1 611.3L486.7 610.8L487.4 611L488 610.6L488.7 610.6L489.3 610.8L489.9 611L490.6 610.1L491.2 610.6L491.9 610.5L492.5 610L493.2 610.2L493.8 610.9L494.5 610.6L495.1 610.2L495.7 610.9L496.4 610.3L497 610.2L497.7 610.1L498.3 610.6L499 610.7L499.6 610.4L500.3 609.8L500.9 610.5L501.5 610.1L502.2 610.6L502.8 610.3L503.5 610.3L504.1 609.9L504.8 609.9L505.4 610.4L506.1 609.2L506.7 610L507.3 609.6L508 609.7L508.6 610.4L509.3 609.5L509.9 610.4L510.6 610L511.2 610.2L511.9 610.2L512.5 609.2L513.1 610.4L513.8 609.4L514.4 610.6L515.1 610.7L515.7 610.8L516.4 610.1L517 609.5L517.7 610.3L518.3 609.2L518.9 609.9L519.6 610.4L520.2 609.5L520.9 609.8L521.5 610.2L522.2 609.7L522.8 610.1L523.5 609.2L524.1 609.9L524.7 609.2L525.4 609.8L526 609.5L526.7 609.6L527.3 609.3L528 609.6L528.6 609.7L529.3 609.3L529.9 609.2L530.5 610L531.2 609.6L531.8 609.3L532.5 610.2L533.1 609.3L533.8 609.1L534.4 609.6L535.1 609L535.7 609.3L536.3 609.1L537 609.3L537.6 608.7L538.3 609.1L538.9 609.5L539.6 608.7L540.2 609.5L540.9 609.2L541.5 609.1L542.1 788L542.8 788.1L543.4 787.5L544.1 788.2L544.7 788.2L545.4 788L546 787.8L546.7 787.8L547.3 788.3L547.9 787.8L548.6 787.2L549.2 787.8L549.9 788.8L550.5 789.1L551.2 788.4L551.8 788.7L552.5 787.5L553.1 787.5L553.7 788.1L554.4 788.5L555 788L555.7 788.1L556.3 788.3L557 787.4L557.6 788L558.3 787.3L558.9 788.3L559.5 788L560.2 787.9L560.8 788L561.5 787.3L562.1 787.7L562.8 788.1L563.4 788L564.1 788L564.7 788.1L565.3 787.8L566 788.3L566.6 788.4L567.3 787.8L567.9 788.1L568.6 788.1L569.2 787.7L569.9 788.3L570.5 788.3L571.1 788L571.8 788L572.4 787.9L573.1 787.5L573.7 788.2L574.4 788.6L575 787.7L575.7 787.6L576.3 788L576.9 787.4L577.6 787.8L578.2 788.2L578.9 787.7L579.5 787.9L580.2 787.9L580.8 788.1L581.5 787.7L582.1 787.8L582.7 788.6L583.4 787.6L584 787.1L584.7 787.9L585.3 788.3L586 787L586.6 788.1L587.3 788.2L587.9 787.5L588.5 787L589.2 788L589.8 787.7L590.5 788L591.1 788.3L591.8 787.8L592.4 788L593.1 787.2L593.7 787.5L594.3 788.6L595 787.7L595.6 788.3L596.3 787.4L596.9 788.2L597.6 788L598.2 788.5L598.9 787.9L599.5 787.2L600.1 788.3L600.8 787.5L601.4 788.3L602.1 787.9L602.7 788.5L603.4 788.5L604 788.4L604.7 788.4L605.3 788L606 788.3L606.6 788.2L607.2 788.3L607.9 787.7L608.5 788L609.2 787.8L609.8 788.1L610.5 788.2L611.1 788L611.8 787.7L612.4 788.4L613 788.1L613.7 787.6L614.3 787.6L615 788L615.6 788L616.3 788.2L616.9 787.8L617.6 788.3L618.2 788.3L618.8 788.2L619.5 788.4L620.1 788L620.8 787.7L621.4 787.4L622.1 787.6L622.7 788.3L623.4 788.2L624 788.8L624.6 788.5L625.3 788.2L625.9 788.2L626.6 787.7L627.2 787.8L627.9 787.7L628.5 788.4L629.2 788L629.8 788L630.4 788.2L631.1 788.3L631.7 787.8L632.4 787.8L633 788.1L633.7 787.9L634.3 787.8L635 787.5L635.6 788.6L636.2 787.9L636.9 789L637.5 787.6L638.2 788.1L638.8 787.9L639.5 788L640.1 787.7L640.8 787.9L641.4 788L642 787L642.7 788.1L643.3 788.1L644 788.4L644.6 787.4L645.3 788.3L645.9 788.4L646.6 787.7L647.2 788.2L647.8 788L648.5 787.9L649.1 788.1L649.8 787.4L650.4 787.7L651.1 788.2L651.7 788.5L652.4 787.6L653 787.9L653.6 787.7L654.3 788.2L654.9 787.9L655.6 787.7L656.2 787.8L656.9 788.2L657.5 788L658.2 787.5L658.8 788.4L659.4 788.1L660.1 787.6L660.7 787.8L661.4 787.1L662 787.8L662.7 788.2L663.3 788.4L664 788.2L664.6 788.4L665.2 787.6L665.9 788.2L666.5 787.9L667.2 788.2L667.8 788.4L668.5 787.7L669.1 788L669.8 788.1L670.4 788.5" fill="none" stroke="none" marker-start="url(#m166)" marker-mid="url(#m166)" marker-end="url(#m166)"/><path d="M411.4 617.5h2.4M412.6 616.3v2.4M413.3 617h2.4M414.5 615.8v2.4M415.3 616.5h2.4M416.5 615.3v2.4M417.2 616.1h2.4M418.4 614.9v2.4M419.1 615.7h2.4M420.3 614.5v2.4M421.1 615.4h2.4M422.3 614.2v2.4M423 615.1h2.4M424.2 613.9v2.4M424.9 614.8h2.4M426.1 613.6v2.4M426.9 614.6h2.4M428.1 613.4v2.4M428.8 614.3h2.4M430 613.1v2.4M430.7 614.1h2.4M431.9 612.9v2.4M432.7 613.9h2.4M433.9 612.7v2.4M434.6 613.7h2.4M435.8 612.5v2.4M436.5 613.6h2.4M437.7 612.4v2.4M438.5 613.4h2.4M439.7 612.2v2.4M440.4 613.2h2.4M441.6 612v2.4M442.3 613.1h2.4M443.5 611.9v2.4M444.3 612.9h2.4M445.5 611.7v2.4M446.2 612.8h2.4M447.4 611.6v2.4M448.1 612.7h2.4M449.3 611.5v2.4M450.1 612.5h2.4M451.3 611.3v2.4M452 612.4h2.4M453.2 611.2v2.4M453.9 612.3h2.4M455.1 611.1v2.4M455.9 612.2h2.4M457.1 611v2.4M457.8 612.1h2.4M459 610.9v2.4M459.7 611.9h2.4M460.9 610.7v2.4M461.7 611.8h2.4M462.9 610.6v2.4M463.6 611.7h2.4M464.8 610.5v2.4M465.5 611.6h2.4M466.7 610.4v2.4M467.5 611.6h2.4M468.7 610.4v2.4M469.4 611.5h2.4M470.6 610.3v2.4M471.3 611.4h2.4M472.5 610.2v2.4M473.3 611.3h2.4M474.5 610.1v2.4M475.2 611.2h2.4M476.4 610v2.4M477.1 611.1h2.4M478.3 609.9v2.4M479.1 611h2.4M480.3 609.8v2.4M481 611h2.4M482.2 609.8v2.4M482.9 610.9h2.4M484.1 609.7v2.4M484.9 610.8h2.4M486.1 609.6v2.4M486.8 610.7h2.4M488 609.5v2.4M488.7 610.7h2.4M489.9 609.5v2.4M490.7 610.6h2.4M491.9 609.4v2.4M492.6 610.5h2.4M493.8 609.3v2.4M494.5 610.5h2.4M495.7 609.3v2.4M496.5 610.4h2.4M497.7 609.2v2.4M498.4 610.3h2.4M499.6 609.1v2.4M500.3 610.3h2.4M501.5 609.1v2.4M502.3 610.2h2.4M503.5 609v2.4M504.2 610.1h2.4M505.4 608.9v2.4M506.1 610.1h2.4M507.3 608.9v2.4M508.1 610h2.4M509.3 608.8v2.4M510 610h2.4M511.2 608.8v2.4M511.9 609.9h2.4M513.1 608.7v2.4M513.9 609.9h2.4M515.1 608.7v2.4M515.8 609.8h2.4M517 608.6v2.4M517.7 609.7h2.4M518.9 608.5v2.4M519.7 609.7h2.4M520.9 608.5v2.4M521.6 609.6h2.4M522.8 608.4v2.4M523.5 609.6h2.4M524.7 608.4v2.4M525.5 609.5h2.4M526.7 608.3v2.4M527.4 609.5h2.4M528.6 608.3v2.4M529.3 609.4h2.4M530.5 608.2v2.4M531.3 609.4h2.4M532.5 608.2v2.4M533.2 609.3h2.4M534.4 608.1v2.4M535.1 609.3h2.4M536.3 608.1v2.4M537.1 609.3h2.4M538.3 608.1v2.4M539 609.2h2.4M540.2 608v2.4M540.9 788h2.4M542.1 786.8v2.4M542.9 788h2.4M544.1 786.8v2.4M544.8 788h2.4M546 786.8v2.4M546.7 788h2.4M547.9 786.8v2.4M548.7 788h2.4M549.9 786.8v2.4M550.6 788h2.4M551.8 786.8v2.4M552.5 788h2.4M553.7 786.8v2.4M554.5 788h2.4M555.7 786.8v2.4M556.4 788h2.4M557.6 786.8v2.4M558.3 788h2.4M559.5 786.8v2.4M560.3 788h2.4M561.5 786.8v2.4M562.2 788h2.4M563.4 786.8v2.4M564.1 788h2.4M565.3 786.8v2.4M566.1 788h2.4M567.3 786.8v2.4M568 788h2.4M569.2 786.8v2.4M569.9 788h2.4M571.1 786.8v2.4M571.9 788h2.4M573.1 786.8v2.4M573.8 788h2.4M575 786.8v2.4M575.7 788h2.4M576.9 786.8v2.4M577.7 788h2.4M578.9 786.8v2.4M579.6 788h2.4M580.8 786.8v2.4M581.5 788h2.4M582.7 786.8v2.4M583.5 788h2.4M584.7 786.8v2.4M585.4 788h2.4M586.6 786.8v2.4M587.3 788h2.4M588.5 786.8v2.4M589.3 788h2.4M590.5 786.8v2.4M591.2 788h2.4M592.4 786.8v2.4M593.1 788h2.4M594.3 786.8v2.4M595.1 788h2.4M596.3 786.8v2.4M597 788h2.4M598.2 786.8v2.4M598.9 788h2.4M600.1 786.8v2.4M600.9 788h2.4M602.1 786.8v2.4M602.8 788h2.4M604 786.8v2.4M604.8 788h2.4M606 786.8v2.4M606.7 788h2.4M607.9 786.8v2.4M608.6 788h2.4M609.8 786.8v2.4M610.6 788h2.4M611.8 786.8v2.4M612.5 788h2.4M613.7 786.8v2.4M614.4 788h2.4M615.6 786.8v2.4M616.4 788h2.4M617.6 786.8v2.4M618.3 788h2.4M619.5 786.8v2.4M620.2 788h2.4M621.4 786.8v2.4M622.2 788h2.4M623.4 786.8v2.4M624.1 788h2.4M625.3 786.8v2.4M626 788h2.4M627.2 786.8v2.4M628 788h2.4M629.2 786.8v2.4M629.9 788h2.4M631.1 786.8v2.4M631.8 788h2.4M633 786.8v2.4M633.8 788h2.4M635 786.8v2.4M635.7 788h2.4M636.9 786.8v2.4M637.6 788h2.4M638.8 786.8v2.4M639.6 788h2.4M640.8 786.8v2.4M641.5 788h2.4M642.7 786.8v2.4M643.4 788h2.4M644.6 786.8v2.4M645.4 788h2.4M646.6 786.8v2.4M647.3 788h2.4M648.5 786.8v2.4M649.2 788h2.4M650.4 786.8v2.4M651.2 788h2.4M652.4 786.8v2.4M653.1 788h2.4M654.3 786.8v2.4M655 788h2.4M656.2 786.8v2.4M657 788h2.4M658.2 786.8v2.4M658.9 788h2.4M660.1 786.8v2.4M660.8 788h2.4M662 786.8v2.4M662.8 788h2.4M664 786.8v2.4M664.7 788h2.4M665.9 786.8v2.4M666.6 788h2.4M667.8 786.8v2.4M668.6 788h2.4M669.8 786.8v2.4" stroke="#0072BD" stroke-width="0.5" stroke-opacity="0.6" fill="none"/><rect x="412.6" y="593.3" width="270" height="207.1" fill="none" stroke="#474747" stroke-width="1"/><path d="M412.6 794.5h2.7M682.6 794.5h-2.7M412.6 762h2.7M682.6 762h-2.7M412.6 729.4h2.7M682.6 729.4h-2.7M412.6 696.9h2.7M682.6 696.9h-2.7M412.6 664.4h2.7M682.6 664.4h-2.7M412.6 631.8h2.7M682.6 631.8h-2.7M412.6 599.3h2.7M682.6 599.3h-2.7" stroke="#474747" stroke-width="0.9" fill="none"/><path d="M412.6 800.4v-2.7M412.6 593.3v2.7M477.1 800.4v-2.7M477.1 593.3v2.7M541.5 800.4v-2.7M541.5 593.3v2.7M606 800.4v-2.7M606 593.3v2.7M670.4 800.4v-2.7M670.4 593.3v2.7" stroke="#474747" stroke-width="0.9" fill="none"/><text x="412.6" y="816.5" font-size="12" text-anchor="middle" font-weight="normal" fill="#262626" >0</text><text x="477.1" y="816.5" font-size="12" text-anchor="middle" font-weight="normal" fill="#262626" >50</text><text x="541.5" y="816.5" font-size="12" text-anchor="middle" font-weight="normal" fill="#262626" >100</text><text x="606" y="816.5" font-size="12" text-anchor="middle" font-weight="normal" fill="#262626" >150</text><text x="670.4" y="816.5" font-size="12" text-anchor="middle" font-weight="normal" fill="#262626" >200</text><text x="407.8" y="799.6" font-size="12" text-anchor="end" font-weight="normal" fill="#262626" >0</text><text x="407.8" y="767.1" font-size="12" text-anchor="end" font-weight="normal" fill="#262626" >500</text><text x="407.8" y="734.5" font-size="12" text-anchor="end" font-weight="normal" fill="#262626" >1000</text><text x="407.8" y="702" font-size="12" text-anchor="end" font-weight="normal" fill="#262626" >1500</text><text x="407.8" y="669.5" font-size="12" text-anchor="end" font-weight="normal" fill="#262626" >2000</text><text x="407.8" y="636.9" font-size="12" text-anchor="end" font-weight="normal" fill="#262626" >2500</text><text x="407.8" y="604.4" font-size="12" text-anchor="end" font-weight="normal" fill="#262626" >3000</text><text x="547" y="587.3" font-size="12.9" text-anchor="middle" font-weight="bold" fill="#000" textLength="189.3" lengthAdjust="spacingAndGlyphs" >ECM: Average Resistance Drift</text><text x="547.7" y="834.3" font-size="13" text-anchor="middle" font-weight="normal" fill="#262626" textLength="46.5" lengthAdjust="spacingAndGlyphs" >Time (s)</text><text x="374.5" y="696.7" font-size="13.3" text-anchor="middle" fill="#262626" textLength="88.5" lengthAdjust="spacingAndGlyphs" transform="rotate(-90 374.5 696.7)">Resistance (Ω)</text><text x="350.9" y="602" font-size="19.5" text-anchor="start" font-weight="normal" fill="#000" >f)</text><path d="M591.6 607.5h5.2M594.2 604.9v5.2" stroke="#0072BD" stroke-width="0.9"/><text x="608.9" y="611.1" font-size="10.3" fill="#000" textLength="58.8" lengthAdjust="spacingAndGlyphs">Modeled drift</text><circle cx="594.2" cy="620.2" r="2.5" fill="none" stroke="#D95319" stroke-width="0.9"/><text x="608.9" y="625" font-size="10.3" fill="#000" textLength="64.9" lengthAdjust="spacingAndGlyphs">Measured drift</text></svg></body></html>
